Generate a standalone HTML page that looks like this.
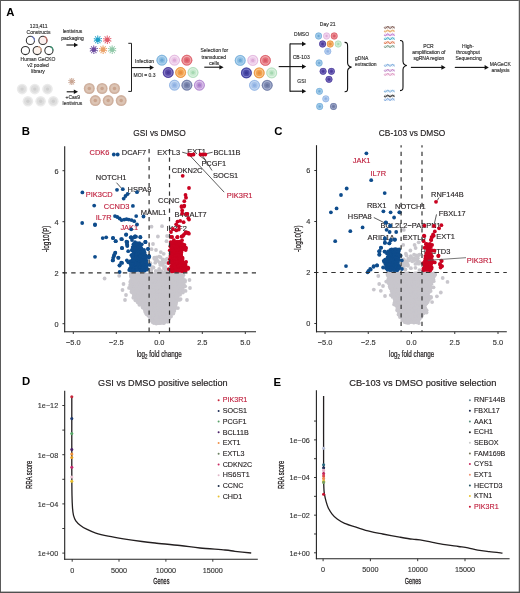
<!DOCTYPE html>
<html><head><meta charset="utf-8"><style>
html,body{margin:0;padding:0;background:#fff;}
svg{display:block;will-change:transform;filter:blur(0.3px);}
text{font-family:"Liberation Sans",sans-serif;}
</style></head><body>
<svg width="520" height="593" viewBox="0 0 520 593">
<rect width="520" height="593" fill="#fff"/>
<text x="6.30" y="16.20" font-size="11.340000000000002" text-anchor="start" fill="#000" font-weight="bold" >A</text>
<text transform="translate(38.70,28.44) scale(0.955,1)" font-size="5.24" text-anchor="middle" fill="#333" font-weight="normal"  stroke="#333" stroke-width="0.16">123,411</text>
<text transform="translate(38.50,34.34) scale(0.955,1)" font-size="5.24" text-anchor="middle" fill="#333" font-weight="normal"  stroke="#333" stroke-width="0.16">Constructs</text>
<text transform="translate(38.00,60.54) scale(0.955,1)" font-size="5.24" text-anchor="middle" fill="#333" font-weight="normal"  stroke="#333" stroke-width="0.16">Human GeCKO</text>
<text transform="translate(38.00,66.94) scale(0.955,1)" font-size="5.24" text-anchor="middle" fill="#333" font-weight="normal"  stroke="#333" stroke-width="0.16">v2 pooled</text>
<text transform="translate(38.00,73.14) scale(0.955,1)" font-size="5.24" text-anchor="middle" fill="#333" font-weight="normal"  stroke="#333" stroke-width="0.16">library</text>
<circle cx="30.4" cy="40.4" r="4.1" fill="none" stroke="#333" stroke-width="1.05"/>
<path d="M31.46,36.44 A4.1,4.1 0 0 1 34.48,40.76" fill="none" stroke="#6a78c8" stroke-width="1.05"/>
<circle cx="42.9" cy="40.4" r="4.1" fill="#fcf0ee" stroke="#333" stroke-width="1.05"/>
<path d="M44.30,36.55 A4.1,4.1 0 0 1 46.45,42.45" fill="none" stroke="#c87068" stroke-width="1.05"/>
<circle cx="25.4" cy="50.5" r="4.1" fill="none" stroke="#333" stroke-width="1.05"/>
<circle cx="37.2" cy="50.5" r="4.1" fill="#fdf3ec" stroke="#333" stroke-width="1.05"/>
<path d="M37.91,46.46 A4.1,4.1 0 0 1 41.24,51.21" fill="none" stroke="#eab090" stroke-width="1.05"/>
<circle cx="48.9" cy="50.5" r="4.1" fill="none" stroke="#333" stroke-width="1.05"/>
<path d="M49.96,46.54 A4.1,4.1 0 0 1 53.00,50.50" fill="none" stroke="#3a9070" stroke-width="1.05"/>
<text transform="translate(72.50,33.44) scale(0.955,1)" font-size="5.24" text-anchor="middle" fill="#333" font-weight="normal"  stroke="#333" stroke-width="0.16">lentivirus</text>
<text transform="translate(72.50,39.94) scale(0.955,1)" font-size="5.24" text-anchor="middle" fill="#333" font-weight="normal"  stroke="#333" stroke-width="0.16">packaging</text>
<line x1="66.40" y1="45.00" x2="74.50" y2="45.00" stroke="#111" stroke-width="1.1" />
<polygon points="78.20,45.00 74.00,42.70 74.00,47.30" fill="#111"/>
<path d="M99.63,40.37L101.33,40.89M98.95,41.34L100.02,42.76M97.83,41.72L97.85,43.50M96.69,41.37L95.67,42.82M95.98,40.42L94.30,40.99M95.97,39.23L94.27,38.71M96.65,38.26L95.58,36.84M97.77,37.88L97.75,36.10M98.91,38.23L99.93,36.78M99.62,39.18L101.30,38.61" stroke="#1c9fc8" stroke-width="0.75" fill="none" stroke-linecap="round"/>
<circle cx="101.33" cy="40.89" r="0.5" fill="#1c9fc8" />
<circle cx="100.02" cy="42.76" r="0.5" fill="#1c9fc8" />
<circle cx="97.85" cy="43.50" r="0.5" fill="#1c9fc8" />
<circle cx="95.67" cy="42.82" r="0.5" fill="#1c9fc8" />
<circle cx="94.30" cy="40.99" r="0.5" fill="#1c9fc8" />
<circle cx="94.27" cy="38.71" r="0.5" fill="#1c9fc8" />
<circle cx="95.58" cy="36.84" r="0.5" fill="#1c9fc8" />
<circle cx="97.75" cy="36.10" r="0.5" fill="#1c9fc8" />
<circle cx="99.93" cy="36.78" r="0.5" fill="#1c9fc8" />
<circle cx="101.30" cy="38.61" r="0.5" fill="#1c9fc8" />
<circle cx="97.80" cy="39.80" r="2.4" fill="#1c9fc8" />
<path d="M109.13,40.37L110.83,40.89M108.45,41.34L109.52,42.76M107.33,41.72L107.35,43.50M106.19,41.37L105.17,42.82M105.48,40.42L103.80,40.99M105.47,39.23L103.77,38.71M106.15,38.26L105.08,36.84M107.27,37.88L107.25,36.10M108.41,38.23L109.43,36.78M109.12,39.18L110.80,38.61" stroke="#e05a6a" stroke-width="0.75" fill="none" stroke-linecap="round"/>
<circle cx="110.83" cy="40.89" r="0.5" fill="#e05a6a" />
<circle cx="109.52" cy="42.76" r="0.5" fill="#e05a6a" />
<circle cx="107.35" cy="43.50" r="0.5" fill="#e05a6a" />
<circle cx="105.17" cy="42.82" r="0.5" fill="#e05a6a" />
<circle cx="103.80" cy="40.99" r="0.5" fill="#e05a6a" />
<circle cx="103.77" cy="38.71" r="0.5" fill="#e05a6a" />
<circle cx="105.08" cy="36.84" r="0.5" fill="#e05a6a" />
<circle cx="107.25" cy="36.10" r="0.5" fill="#e05a6a" />
<circle cx="109.43" cy="36.78" r="0.5" fill="#e05a6a" />
<circle cx="110.80" cy="38.61" r="0.5" fill="#e05a6a" />
<circle cx="107.30" cy="39.80" r="2.4" fill="#e05a6a" />
<path d="M95.63,50.27L97.33,50.79M94.95,51.24L96.02,52.66M93.83,51.62L93.85,53.40M92.69,51.27L91.67,52.72M91.98,50.32L90.30,50.89M91.97,49.13L90.27,48.61M92.65,48.16L91.58,46.74M93.77,47.78L93.75,46.00M94.91,48.13L95.93,46.68M95.62,49.08L97.30,48.51" stroke="#6a4a9e" stroke-width="0.75" fill="none" stroke-linecap="round"/>
<circle cx="97.33" cy="50.79" r="0.5" fill="#6a4a9e" />
<circle cx="96.02" cy="52.66" r="0.5" fill="#6a4a9e" />
<circle cx="93.85" cy="53.40" r="0.5" fill="#6a4a9e" />
<circle cx="91.67" cy="52.72" r="0.5" fill="#6a4a9e" />
<circle cx="90.30" cy="50.89" r="0.5" fill="#6a4a9e" />
<circle cx="90.27" cy="48.61" r="0.5" fill="#6a4a9e" />
<circle cx="91.58" cy="46.74" r="0.5" fill="#6a4a9e" />
<circle cx="93.75" cy="46.00" r="0.5" fill="#6a4a9e" />
<circle cx="95.93" cy="46.68" r="0.5" fill="#6a4a9e" />
<circle cx="97.30" cy="48.51" r="0.5" fill="#6a4a9e" />
<circle cx="93.80" cy="49.70" r="2.4" fill="#6a4a9e" />
<path d="M104.93,50.27L106.63,50.79M104.25,51.24L105.32,52.66M103.13,51.62L103.15,53.40M101.99,51.27L100.97,52.72M101.28,50.32L99.60,50.89M101.27,49.13L99.57,48.61M101.95,48.16L100.88,46.74M103.07,47.78L103.05,46.00M104.21,48.13L105.23,46.68M104.92,49.08L106.60,48.51" stroke="#eaa066" stroke-width="0.75" fill="none" stroke-linecap="round"/>
<circle cx="106.63" cy="50.79" r="0.5" fill="#eaa066" />
<circle cx="105.32" cy="52.66" r="0.5" fill="#eaa066" />
<circle cx="103.15" cy="53.40" r="0.5" fill="#eaa066" />
<circle cx="100.97" cy="52.72" r="0.5" fill="#eaa066" />
<circle cx="99.60" cy="50.89" r="0.5" fill="#eaa066" />
<circle cx="99.57" cy="48.61" r="0.5" fill="#eaa066" />
<circle cx="100.88" cy="46.74" r="0.5" fill="#eaa066" />
<circle cx="103.05" cy="46.00" r="0.5" fill="#eaa066" />
<circle cx="105.23" cy="46.68" r="0.5" fill="#eaa066" />
<circle cx="106.60" cy="48.51" r="0.5" fill="#eaa066" />
<circle cx="103.10" cy="49.70" r="2.4" fill="#eaa066" />
<path d="M114.03,50.27L115.73,50.79M113.35,51.24L114.42,52.66M112.23,51.62L112.25,53.40M111.09,51.27L110.07,52.72M110.38,50.32L108.70,50.89M110.37,49.13L108.67,48.61M111.05,48.16L109.98,46.74M112.17,47.78L112.15,46.00M113.31,48.13L114.33,46.68M114.02,49.08L115.70,48.51" stroke="#90c8a8" stroke-width="0.75" fill="none" stroke-linecap="round"/>
<circle cx="115.73" cy="50.79" r="0.5" fill="#90c8a8" />
<circle cx="114.42" cy="52.66" r="0.5" fill="#90c8a8" />
<circle cx="112.25" cy="53.40" r="0.5" fill="#90c8a8" />
<circle cx="110.07" cy="52.72" r="0.5" fill="#90c8a8" />
<circle cx="108.70" cy="50.89" r="0.5" fill="#90c8a8" />
<circle cx="108.67" cy="48.61" r="0.5" fill="#90c8a8" />
<circle cx="109.98" cy="46.74" r="0.5" fill="#90c8a8" />
<circle cx="112.15" cy="46.00" r="0.5" fill="#90c8a8" />
<circle cx="114.33" cy="46.68" r="0.5" fill="#90c8a8" />
<circle cx="115.70" cy="48.51" r="0.5" fill="#90c8a8" />
<circle cx="112.20" cy="49.70" r="2.4" fill="#90c8a8" />
<path d="M73.25,81.95L74.67,82.39M72.71,82.72L73.60,83.90M71.82,83.02L71.84,84.50M70.92,82.74L70.07,83.95M70.36,81.99L68.96,82.47M70.35,81.05L68.93,80.61M70.89,80.28L70.00,79.10M71.78,79.98L71.76,78.50M72.68,80.26L73.53,79.05M73.24,81.01L74.64,80.53" stroke="#c8a492" stroke-width="0.75" fill="none" stroke-linecap="round"/>
<circle cx="74.67" cy="82.39" r="0.5" fill="#c8a492" />
<circle cx="73.60" cy="83.90" r="0.5" fill="#c8a492" />
<circle cx="71.84" cy="84.50" r="0.5" fill="#c8a492" />
<circle cx="70.07" cy="83.95" r="0.5" fill="#c8a492" />
<circle cx="68.96" cy="82.47" r="0.5" fill="#c8a492" />
<circle cx="68.93" cy="80.61" r="0.5" fill="#c8a492" />
<circle cx="70.00" cy="79.10" r="0.5" fill="#c8a492" />
<circle cx="71.76" cy="78.50" r="0.5" fill="#c8a492" />
<circle cx="73.53" cy="79.05" r="0.5" fill="#c8a492" />
<circle cx="74.64" cy="80.53" r="0.5" fill="#c8a492" />
<circle cx="71.80" cy="81.50" r="1.9" fill="#c8a492" />
<circle cx="22.10" cy="89.10" r="5.3" fill="#ebebeb" />
<circle cx="22.10" cy="89.10" r="3.816" fill="#dedede" />
<circle cx="22.10" cy="89.10" r="1.696" fill="#cfcfcf" />
<circle cx="34.80" cy="89.10" r="5.3" fill="#ebebeb" />
<circle cx="34.80" cy="89.10" r="3.816" fill="#dedede" />
<circle cx="34.80" cy="89.10" r="1.696" fill="#cfcfcf" />
<circle cx="47.50" cy="89.10" r="5.3" fill="#ebebeb" />
<circle cx="47.50" cy="89.10" r="3.816" fill="#dedede" />
<circle cx="47.50" cy="89.10" r="1.696" fill="#cfcfcf" />
<circle cx="27.90" cy="101.30" r="5.3" fill="#ebebeb" />
<circle cx="27.90" cy="101.30" r="3.816" fill="#dedede" />
<circle cx="27.90" cy="101.30" r="1.696" fill="#cfcfcf" />
<circle cx="40.60" cy="101.30" r="5.3" fill="#ebebeb" />
<circle cx="40.60" cy="101.30" r="3.816" fill="#dedede" />
<circle cx="40.60" cy="101.30" r="1.696" fill="#cfcfcf" />
<circle cx="53.30" cy="101.30" r="5.3" fill="#ebebeb" />
<circle cx="53.30" cy="101.30" r="3.816" fill="#dedede" />
<circle cx="53.30" cy="101.30" r="1.696" fill="#cfcfcf" />
<line x1="66.70" y1="91.80" x2="74.30" y2="91.80" stroke="#111" stroke-width="1.1" />
<polygon points="78.00,91.80 73.80,89.50 73.80,94.10" fill="#111"/>
<text transform="translate(72.80,98.54) scale(0.955,1)" font-size="5.24" text-anchor="middle" fill="#333" font-weight="normal"  stroke="#333" stroke-width="0.16">+Cas9</text>
<text transform="translate(72.40,104.94) scale(0.955,1)" font-size="5.24" text-anchor="middle" fill="#333" font-weight="normal"  stroke="#333" stroke-width="0.16">lentivirus</text>
<circle cx="89.30" cy="88.50" r="5.5" fill="#cfb09e" />
<circle cx="89.30" cy="88.50" r="3.96" fill="#dcc4b4" />
<circle cx="89.30" cy="88.50" r="1.76" fill="#c9a48e" />
<circle cx="102.10" cy="88.50" r="5.5" fill="#cfb09e" />
<circle cx="102.10" cy="88.50" r="3.96" fill="#dcc4b4" />
<circle cx="102.10" cy="88.50" r="1.76" fill="#c9a48e" />
<circle cx="114.50" cy="88.50" r="5.5" fill="#cfb09e" />
<circle cx="114.50" cy="88.50" r="3.96" fill="#dcc4b4" />
<circle cx="114.50" cy="88.50" r="1.76" fill="#c9a48e" />
<circle cx="95.30" cy="100.60" r="5.5" fill="#cfb09e" />
<circle cx="95.30" cy="100.60" r="3.96" fill="#dcc4b4" />
<circle cx="95.30" cy="100.60" r="1.76" fill="#c9a48e" />
<circle cx="108.20" cy="100.60" r="5.5" fill="#cfb09e" />
<circle cx="108.20" cy="100.60" r="3.96" fill="#dcc4b4" />
<circle cx="108.20" cy="100.60" r="1.76" fill="#c9a48e" />
<circle cx="121.20" cy="100.60" r="5.5" fill="#cfb09e" />
<circle cx="121.20" cy="100.60" r="3.96" fill="#dcc4b4" />
<circle cx="121.20" cy="100.60" r="1.76" fill="#c9a48e" />
<path d="M128.3,43.3 H131.5 V91.4 H128.3" fill="none" stroke="#222" stroke-width="1"/>
<line x1="131.50" y1="67.60" x2="150.30" y2="67.60" stroke="#111" stroke-width="1.1" />
<polygon points="154.00,67.60 149.80,65.30 149.80,69.90" fill="#111"/>
<text transform="translate(144.50,63.24) scale(0.955,1)" font-size="5.24" text-anchor="middle" fill="#333" font-weight="normal"  stroke="#333" stroke-width="0.16">Infection</text>
<text transform="translate(144.50,76.54) scale(0.955,1)" font-size="5.24" text-anchor="middle" fill="#333" font-weight="normal"  stroke="#333" stroke-width="0.16">MOI = 0.3</text>
<circle cx="161.90" cy="60.20" r="5.4" fill="#8ec0e4" />
<circle cx="161.90" cy="60.20" r="3.78" fill="none" stroke="#b4d4ee" stroke-width="1.19"/>
<circle cx="161.90" cy="60.20" r="5.05" fill="none" stroke="#6ca6d4" stroke-width="0.6" opacity="0.8"/>
<circle cx="161.90" cy="60.20" r="1.62" fill="#6ca6d4" />
<circle cx="174.50" cy="60.20" r="5.4" fill="#ecc8e8" />
<circle cx="174.50" cy="60.20" r="3.78" fill="none" stroke="#f4e0f2" stroke-width="1.19"/>
<circle cx="174.50" cy="60.20" r="5.05" fill="none" stroke="#dcaad6" stroke-width="0.6" opacity="0.8"/>
<circle cx="174.50" cy="60.20" r="1.62" fill="#dcaad6" />
<circle cx="186.90" cy="60.20" r="5.4" fill="#e4707a" />
<circle cx="186.90" cy="60.20" r="3.78" fill="none" stroke="#f0a8ac" stroke-width="1.19"/>
<circle cx="186.90" cy="60.20" r="5.05" fill="none" stroke="#d85a66" stroke-width="0.6" opacity="0.8"/>
<circle cx="186.90" cy="60.20" r="1.62" fill="#d85a66" />
<circle cx="168.20" cy="72.50" r="5.4" fill="#5a4aa8" />
<circle cx="168.20" cy="72.50" r="3.78" fill="none" stroke="#8a80c8" stroke-width="1.19"/>
<circle cx="168.20" cy="72.50" r="5.05" fill="none" stroke="#4a3a98" stroke-width="0.6" opacity="0.8"/>
<circle cx="168.20" cy="72.50" r="1.62" fill="#4a3a98" />
<circle cx="180.60" cy="72.50" r="5.4" fill="#f2a24e" />
<circle cx="180.60" cy="72.50" r="3.78" fill="none" stroke="#f8c890" stroke-width="1.19"/>
<circle cx="180.60" cy="72.50" r="5.05" fill="none" stroke="#e89040" stroke-width="0.6" opacity="0.8"/>
<circle cx="180.60" cy="72.50" r="1.62" fill="#e89040" />
<circle cx="193.00" cy="72.50" r="5.4" fill="#c4e8cc" />
<circle cx="193.00" cy="72.50" r="3.78" fill="none" stroke="#dcf2e0" stroke-width="1.19"/>
<circle cx="193.00" cy="72.50" r="5.05" fill="none" stroke="#a4d8b0" stroke-width="0.6" opacity="0.8"/>
<circle cx="193.00" cy="72.50" r="1.62" fill="#a4d8b0" />
<circle cx="174.50" cy="85.20" r="5.4" fill="#a2c0ea" />
<circle cx="174.50" cy="85.20" r="3.78" fill="none" stroke="#c4d8f2" stroke-width="1.19"/>
<circle cx="174.50" cy="85.20" r="5.05" fill="none" stroke="#8eb0e2" stroke-width="0.6" opacity="0.8"/>
<circle cx="174.50" cy="85.20" r="1.62" fill="#8eb0e2" />
<circle cx="186.90" cy="85.20" r="5.4" fill="#7c88b0" />
<circle cx="186.90" cy="85.20" r="3.78" fill="none" stroke="#a8b2d0" stroke-width="1.19"/>
<circle cx="186.90" cy="85.20" r="5.05" fill="none" stroke="#6a76a0" stroke-width="0.6" opacity="0.8"/>
<circle cx="186.90" cy="85.20" r="1.62" fill="#6a76a0" />
<circle cx="199.40" cy="85.20" r="5.4" fill="#c09ad8" />
<circle cx="199.40" cy="85.20" r="3.78" fill="none" stroke="#dcc6ec" stroke-width="1.19"/>
<circle cx="199.40" cy="85.20" r="5.05" fill="none" stroke="#a87cca" stroke-width="0.6" opacity="0.8"/>
<circle cx="199.40" cy="85.20" r="1.62" fill="#a87cca" />
<text transform="translate(214.30,51.94) scale(0.955,1)" font-size="5.24" text-anchor="middle" fill="#333" font-weight="normal"  stroke="#333" stroke-width="0.16">Selection for</text>
<text transform="translate(213.80,58.54) scale(0.955,1)" font-size="5.24" text-anchor="middle" fill="#333" font-weight="normal"  stroke="#333" stroke-width="0.16">transduced</text>
<text transform="translate(214.30,64.54) scale(0.955,1)" font-size="5.24" text-anchor="middle" fill="#333" font-weight="normal"  stroke="#333" stroke-width="0.16">cells</text>
<line x1="204.30" y1="67.20" x2="219.90" y2="67.20" stroke="#111" stroke-width="1.1" />
<polygon points="223.60,67.20 219.40,64.90 219.40,69.50" fill="#111"/>
<circle cx="240.20" cy="60.40" r="5.4" fill="#8ec0e4" />
<circle cx="240.20" cy="60.40" r="3.78" fill="none" stroke="#b4d4ee" stroke-width="1.19"/>
<circle cx="240.20" cy="60.40" r="5.05" fill="none" stroke="#6ca6d4" stroke-width="0.6" opacity="0.8"/>
<circle cx="240.20" cy="60.40" r="1.62" fill="#6ca6d4" />
<circle cx="252.80" cy="60.40" r="5.4" fill="#ecc8e8" />
<circle cx="252.80" cy="60.40" r="3.78" fill="none" stroke="#f4e0f2" stroke-width="1.19"/>
<circle cx="252.80" cy="60.40" r="5.05" fill="none" stroke="#dcaad6" stroke-width="0.6" opacity="0.8"/>
<circle cx="252.80" cy="60.40" r="1.62" fill="#dcaad6" />
<circle cx="265.40" cy="60.40" r="5.4" fill="#e4707a" />
<circle cx="265.40" cy="60.40" r="3.78" fill="none" stroke="#f0a8ac" stroke-width="1.19"/>
<circle cx="265.40" cy="60.40" r="5.05" fill="none" stroke="#d85a66" stroke-width="0.6" opacity="0.8"/>
<circle cx="265.40" cy="60.40" r="1.62" fill="#d85a66" />
<circle cx="246.40" cy="72.90" r="5.4" fill="#4a4aa8" />
<circle cx="246.40" cy="72.90" r="3.78" fill="none" stroke="#7a7cc8" stroke-width="1.19"/>
<circle cx="246.40" cy="72.90" r="5.05" fill="none" stroke="#3a3a98" stroke-width="0.6" opacity="0.8"/>
<circle cx="246.40" cy="72.90" r="1.62" fill="#3a3a98" />
<circle cx="259.20" cy="72.90" r="5.4" fill="#f2a24e" />
<circle cx="259.20" cy="72.90" r="3.78" fill="none" stroke="#f8c890" stroke-width="1.19"/>
<circle cx="259.20" cy="72.90" r="5.05" fill="none" stroke="#e89040" stroke-width="0.6" opacity="0.8"/>
<circle cx="259.20" cy="72.90" r="1.62" fill="#e89040" />
<circle cx="271.70" cy="72.90" r="5.4" fill="#c4e8cc" />
<circle cx="271.70" cy="72.90" r="3.78" fill="none" stroke="#dcf2e0" stroke-width="1.19"/>
<circle cx="271.70" cy="72.90" r="5.05" fill="none" stroke="#a4d8b0" stroke-width="0.6" opacity="0.8"/>
<circle cx="271.70" cy="72.90" r="1.62" fill="#a4d8b0" />
<circle cx="254.50" cy="85.30" r="5.4" fill="#a2c0ea" />
<circle cx="254.50" cy="85.30" r="3.78" fill="none" stroke="#c4d8f2" stroke-width="1.19"/>
<circle cx="254.50" cy="85.30" r="5.05" fill="none" stroke="#8eb0e2" stroke-width="0.6" opacity="0.8"/>
<circle cx="254.50" cy="85.30" r="1.62" fill="#8eb0e2" />
<circle cx="267.20" cy="85.30" r="5.4" fill="#7c88b0" />
<circle cx="267.20" cy="85.30" r="3.78" fill="none" stroke="#a8b2d0" stroke-width="1.19"/>
<circle cx="267.20" cy="85.30" r="5.05" fill="none" stroke="#6a76a0" stroke-width="0.6" opacity="0.8"/>
<circle cx="267.20" cy="85.30" r="1.62" fill="#6a76a0" />
<line x1="278.70" y1="66.60" x2="290.00" y2="66.60" stroke="#111" stroke-width="1.1" />
<line x1="290.00" y1="43.40" x2="290.00" y2="91.70" stroke="#111" stroke-width="1.1" />
<line x1="290.00" y1="43.90" x2="302.50" y2="43.90" stroke="#111" stroke-width="1.1" />
<polygon points="306.20,43.90 302.00,41.60 302.00,46.20" fill="#111"/>
<line x1="290.00" y1="66.60" x2="302.50" y2="66.60" stroke="#111" stroke-width="1.1" />
<polygon points="306.20,66.60 302.00,64.30 302.00,68.90" fill="#111"/>
<line x1="290.00" y1="91.20" x2="302.50" y2="91.20" stroke="#111" stroke-width="1.1" />
<polygon points="306.20,91.20 302.00,88.90 302.00,93.50" fill="#111"/>
<text transform="translate(301.60,35.84) scale(0.955,1)" font-size="5.24" text-anchor="middle" fill="#333" font-weight="normal"  stroke="#333" stroke-width="0.16">DMSO</text>
<text transform="translate(301.20,59.34) scale(0.955,1)" font-size="5.24" text-anchor="middle" fill="#333" font-weight="normal"  stroke="#333" stroke-width="0.16">CB-103</text>
<text transform="translate(301.60,83.44) scale(0.955,1)" font-size="5.24" text-anchor="middle" fill="#333" font-weight="normal"  stroke="#333" stroke-width="0.16">GSI</text>
<text transform="translate(327.70,26.24) scale(0.955,1)" font-size="5.24" text-anchor="middle" fill="#333" font-weight="normal"  stroke="#333" stroke-width="0.16">Day 21</text>
<circle cx="318.60" cy="36.00" r="3.4" fill="#8ec0e4" />
<circle cx="318.60" cy="36.00" r="2.38" fill="none" stroke="#b4d4ee" stroke-width="0.75"/>
<circle cx="318.60" cy="36.00" r="3.05" fill="none" stroke="#6ca6d4" stroke-width="0.6" opacity="0.8"/>
<circle cx="318.60" cy="36.00" r="1.02" fill="#6ca6d4" />
<circle cx="326.60" cy="36.00" r="3.4" fill="#ecc8e8" />
<circle cx="326.60" cy="36.00" r="2.38" fill="none" stroke="#f4e0f2" stroke-width="0.75"/>
<circle cx="326.60" cy="36.00" r="3.05" fill="none" stroke="#dcaad6" stroke-width="0.6" opacity="0.8"/>
<circle cx="326.60" cy="36.00" r="1.02" fill="#dcaad6" />
<circle cx="334.20" cy="36.00" r="3.4" fill="#e4707a" />
<circle cx="334.20" cy="36.00" r="2.38" fill="none" stroke="#f0a8ac" stroke-width="0.75"/>
<circle cx="334.20" cy="36.00" r="3.05" fill="none" stroke="#d85a66" stroke-width="0.6" opacity="0.8"/>
<circle cx="334.20" cy="36.00" r="1.02" fill="#d85a66" />
<circle cx="322.60" cy="44.00" r="3.4" fill="#5a4aa8" />
<circle cx="322.60" cy="44.00" r="2.38" fill="none" stroke="#8a80c8" stroke-width="0.75"/>
<circle cx="322.60" cy="44.00" r="3.05" fill="none" stroke="#4a3a98" stroke-width="0.6" opacity="0.8"/>
<circle cx="322.60" cy="44.00" r="1.02" fill="#4a3a98" />
<circle cx="330.20" cy="44.00" r="3.4" fill="#f2a24e" />
<circle cx="330.20" cy="44.00" r="2.38" fill="none" stroke="#f8c890" stroke-width="0.75"/>
<circle cx="330.20" cy="44.00" r="3.05" fill="none" stroke="#e89040" stroke-width="0.6" opacity="0.8"/>
<circle cx="330.20" cy="44.00" r="1.02" fill="#e89040" />
<circle cx="338.20" cy="44.00" r="3.4" fill="#c4e8cc" />
<circle cx="338.20" cy="44.00" r="2.38" fill="none" stroke="#dcf2e0" stroke-width="0.75"/>
<circle cx="338.20" cy="44.00" r="3.05" fill="none" stroke="#a4d8b0" stroke-width="0.6" opacity="0.8"/>
<circle cx="338.20" cy="44.00" r="1.02" fill="#a4d8b0" />
<circle cx="327.80" cy="51.30" r="3.4" fill="#a2c0ea" />
<circle cx="327.80" cy="51.30" r="2.38" fill="none" stroke="#c4d8f2" stroke-width="0.75"/>
<circle cx="327.80" cy="51.30" r="3.05" fill="none" stroke="#8eb0e2" stroke-width="0.6" opacity="0.8"/>
<circle cx="327.80" cy="51.30" r="1.02" fill="#8eb0e2" />
<circle cx="319.10" cy="63.00" r="3.4" fill="#8ec0e4" />
<circle cx="319.10" cy="63.00" r="2.38" fill="none" stroke="#b4d4ee" stroke-width="0.75"/>
<circle cx="319.10" cy="63.00" r="3.05" fill="none" stroke="#6ca6d4" stroke-width="0.6" opacity="0.8"/>
<circle cx="319.10" cy="63.00" r="1.02" fill="#6ca6d4" />
<circle cx="323.10" cy="71.30" r="3.4" fill="#5a4aa8" />
<circle cx="323.10" cy="71.30" r="2.38" fill="none" stroke="#8a80c8" stroke-width="0.75"/>
<circle cx="323.10" cy="71.30" r="3.05" fill="none" stroke="#4a3a98" stroke-width="0.6" opacity="0.8"/>
<circle cx="323.10" cy="71.30" r="1.02" fill="#4a3a98" />
<circle cx="331.40" cy="71.30" r="3.4" fill="#5a4aa8" />
<circle cx="331.40" cy="71.30" r="2.38" fill="none" stroke="#8a80c8" stroke-width="0.75"/>
<circle cx="331.40" cy="71.30" r="3.05" fill="none" stroke="#4a3a98" stroke-width="0.6" opacity="0.8"/>
<circle cx="331.40" cy="71.30" r="1.02" fill="#4a3a98" />
<circle cx="329.00" cy="79.30" r="3.4" fill="#5a4aa8" />
<circle cx="329.00" cy="79.30" r="2.38" fill="none" stroke="#8a80c8" stroke-width="0.75"/>
<circle cx="329.00" cy="79.30" r="3.05" fill="none" stroke="#4a3a98" stroke-width="0.6" opacity="0.8"/>
<circle cx="329.00" cy="79.30" r="1.02" fill="#4a3a98" />
<circle cx="319.40" cy="91.30" r="3.4" fill="#8ec0e4" />
<circle cx="319.40" cy="91.30" r="2.38" fill="none" stroke="#b4d4ee" stroke-width="0.75"/>
<circle cx="319.40" cy="91.30" r="3.05" fill="none" stroke="#6ca6d4" stroke-width="0.6" opacity="0.8"/>
<circle cx="319.40" cy="91.30" r="1.02" fill="#6ca6d4" />
<circle cx="325.80" cy="98.80" r="3.4" fill="#a2c0ea" />
<circle cx="325.80" cy="98.80" r="2.38" fill="none" stroke="#c4d8f2" stroke-width="0.75"/>
<circle cx="325.80" cy="98.80" r="3.05" fill="none" stroke="#8eb0e2" stroke-width="0.6" opacity="0.8"/>
<circle cx="325.80" cy="98.80" r="1.02" fill="#8eb0e2" />
<circle cx="319.70" cy="106.50" r="3.4" fill="#8ec0e4" />
<circle cx="319.70" cy="106.50" r="2.38" fill="none" stroke="#b4d4ee" stroke-width="0.75"/>
<circle cx="319.70" cy="106.50" r="3.05" fill="none" stroke="#6ca6d4" stroke-width="0.6" opacity="0.8"/>
<circle cx="319.70" cy="106.50" r="1.02" fill="#6ca6d4" />
<circle cx="333.50" cy="106.50" r="3.4" fill="#7c88b0" />
<circle cx="333.50" cy="106.50" r="2.38" fill="none" stroke="#a8b2d0" stroke-width="0.75"/>
<circle cx="333.50" cy="106.50" r="3.05" fill="none" stroke="#6a76a0" stroke-width="0.6" opacity="0.8"/>
<circle cx="333.50" cy="106.50" r="1.02" fill="#6a76a0" />
<path d="M344.60,42.40 C347.60,42.40 347.60,43.90 347.60,46.40 L347.60,63.10 C347.60,66.10 350.60,67.10 351.60,67.10 C350.60,67.10 347.60,68.10 347.60,71.10 L347.60,87.80 C347.60,90.30 347.60,91.80 344.60,91.80" fill="none" stroke="#111" stroke-width="1.1"/>
<text transform="translate(355.00,60.14) scale(0.955,1)" font-size="5.24" text-anchor="start" fill="#333" font-weight="normal"  stroke="#333" stroke-width="0.16">gDNA</text>
<text transform="translate(355.00,65.74) scale(0.955,1)" font-size="5.24" text-anchor="start" fill="#333" font-weight="normal"  stroke="#333" stroke-width="0.16">extraction</text>
<path d="M384.10,27.40 L384.45,27.80 L384.81,28.12 L385.16,28.28 L385.51,28.27 L385.87,28.07 L386.22,27.73 L386.57,27.32 L386.93,26.93 L387.28,26.64 L387.63,26.50 L387.99,26.56 L388.34,26.78 L388.69,27.14 L389.05,27.55 L389.40,27.93 L389.75,28.20 L390.11,28.30 L390.46,28.21 L390.81,27.96 L391.17,27.59 L391.52,27.18 L391.87,26.81 L392.23,26.57 L392.58,26.50 L392.93,26.62 L393.29,26.90 L393.64,27.29 L393.99,27.70 L394.35,28.04 L394.70,28.26" fill="none" stroke="#8a6a62" stroke-width="1.1"/>
<path d="M384.10,27.40 L384.45,27.00 L384.81,26.68 L385.16,26.52 L385.51,26.53 L385.87,26.73 L386.22,27.07 L386.57,27.48 L386.93,27.87 L387.28,28.16 L387.63,28.30 L387.99,28.24 L388.34,28.02 L388.69,27.66 L389.05,27.25 L389.40,26.87 L389.75,26.60 L390.11,26.50 L390.46,26.59 L390.81,26.84 L391.17,27.21 L391.52,27.62 L391.87,27.99 L392.23,28.23 L392.58,28.30 L392.93,28.18 L393.29,27.90 L393.64,27.51 L393.99,27.10 L394.35,26.76 L394.70,26.54" fill="none" stroke="#8a6a62" stroke-width="0.6" opacity="0.7"/>
<path d="M384.10,31.00 L384.45,31.40 L384.81,31.72 L385.16,31.88 L385.51,31.87 L385.87,31.67 L386.22,31.33 L386.57,30.92 L386.93,30.53 L387.28,30.24 L387.63,30.10 L387.99,30.16 L388.34,30.38 L388.69,30.74 L389.05,31.15 L389.40,31.53 L389.75,31.80 L390.11,31.90 L390.46,31.81 L390.81,31.56 L391.17,31.19 L391.52,30.78 L391.87,30.41 L392.23,30.17 L392.58,30.10 L392.93,30.22 L393.29,30.50 L393.64,30.89 L393.99,31.30 L394.35,31.64 L394.70,31.86" fill="none" stroke="#e8b070" stroke-width="1.1"/>
<path d="M384.10,31.00 L384.45,30.60 L384.81,30.28 L385.16,30.12 L385.51,30.13 L385.87,30.33 L386.22,30.67 L386.57,31.08 L386.93,31.47 L387.28,31.76 L387.63,31.90 L387.99,31.84 L388.34,31.62 L388.69,31.26 L389.05,30.85 L389.40,30.47 L389.75,30.20 L390.11,30.10 L390.46,30.19 L390.81,30.44 L391.17,30.81 L391.52,31.22 L391.87,31.59 L392.23,31.83 L392.58,31.90 L392.93,31.78 L393.29,31.50 L393.64,31.11 L393.99,30.70 L394.35,30.36 L394.70,30.14" fill="none" stroke="#e8b070" stroke-width="0.6" opacity="0.7"/>
<path d="M384.10,34.80 L384.45,35.20 L384.81,35.52 L385.16,35.68 L385.51,35.67 L385.87,35.47 L386.22,35.13 L386.57,34.72 L386.93,34.33 L387.28,34.04 L387.63,33.90 L387.99,33.96 L388.34,34.18 L388.69,34.54 L389.05,34.95 L389.40,35.33 L389.75,35.60 L390.11,35.70 L390.46,35.61 L390.81,35.36 L391.17,34.99 L391.52,34.58 L391.87,34.21 L392.23,33.97 L392.58,33.90 L392.93,34.02 L393.29,34.30 L393.64,34.69 L393.99,35.10 L394.35,35.44 L394.70,35.66" fill="none" stroke="#c484d4" stroke-width="1.1"/>
<path d="M384.10,34.80 L384.45,34.40 L384.81,34.08 L385.16,33.92 L385.51,33.93 L385.87,34.13 L386.22,34.47 L386.57,34.88 L386.93,35.27 L387.28,35.56 L387.63,35.70 L387.99,35.64 L388.34,35.42 L388.69,35.06 L389.05,34.65 L389.40,34.27 L389.75,34.00 L390.11,33.90 L390.46,33.99 L390.81,34.24 L391.17,34.61 L391.52,35.02 L391.87,35.39 L392.23,35.63 L392.58,35.70 L392.93,35.58 L393.29,35.30 L393.64,34.91 L393.99,34.50 L394.35,34.16 L394.70,33.94" fill="none" stroke="#c484d4" stroke-width="0.6" opacity="0.7"/>
<path d="M384.10,38.60 L384.45,39.00 L384.81,39.32 L385.16,39.48 L385.51,39.47 L385.87,39.27 L386.22,38.93 L386.57,38.52 L386.93,38.13 L387.28,37.84 L387.63,37.70 L387.99,37.76 L388.34,37.98 L388.69,38.34 L389.05,38.75 L389.40,39.13 L389.75,39.40 L390.11,39.50 L390.46,39.41 L390.81,39.16 L391.17,38.79 L391.52,38.38 L391.87,38.01 L392.23,37.77 L392.58,37.70 L392.93,37.82 L393.29,38.10 L393.64,38.49 L393.99,38.90 L394.35,39.24 L394.70,39.46" fill="none" stroke="#52b4cc" stroke-width="1.1"/>
<path d="M384.10,38.60 L384.45,38.20 L384.81,37.88 L385.16,37.72 L385.51,37.73 L385.87,37.93 L386.22,38.27 L386.57,38.68 L386.93,39.07 L387.28,39.36 L387.63,39.50 L387.99,39.44 L388.34,39.22 L388.69,38.86 L389.05,38.45 L389.40,38.07 L389.75,37.80 L390.11,37.70 L390.46,37.79 L390.81,38.04 L391.17,38.41 L391.52,38.82 L391.87,39.19 L392.23,39.43 L392.58,39.50 L392.93,39.38 L393.29,39.10 L393.64,38.71 L393.99,38.30 L394.35,37.96 L394.70,37.74" fill="none" stroke="#52b4cc" stroke-width="0.6" opacity="0.7"/>
<path d="M384.10,42.60 L384.45,43.00 L384.81,43.32 L385.16,43.48 L385.51,43.47 L385.87,43.27 L386.22,42.93 L386.57,42.52 L386.93,42.13 L387.28,41.84 L387.63,41.70 L387.99,41.76 L388.34,41.98 L388.69,42.34 L389.05,42.75 L389.40,43.13 L389.75,43.40 L390.11,43.50 L390.46,43.41 L390.81,43.16 L391.17,42.79 L391.52,42.38 L391.87,42.01 L392.23,41.77 L392.58,41.70 L392.93,41.82 L393.29,42.10 L393.64,42.49 L393.99,42.90 L394.35,43.24 L394.70,43.46" fill="none" stroke="#e3825e" stroke-width="1.1"/>
<path d="M384.10,42.60 L384.45,42.20 L384.81,41.88 L385.16,41.72 L385.51,41.73 L385.87,41.93 L386.22,42.27 L386.57,42.68 L386.93,43.07 L387.28,43.36 L387.63,43.50 L387.99,43.44 L388.34,43.22 L388.69,42.86 L389.05,42.45 L389.40,42.07 L389.75,41.80 L390.11,41.70 L390.46,41.79 L390.81,42.04 L391.17,42.41 L391.52,42.82 L391.87,43.19 L392.23,43.43 L392.58,43.50 L392.93,43.38 L393.29,43.10 L393.64,42.71 L393.99,42.30 L394.35,41.96 L394.70,41.74" fill="none" stroke="#e3825e" stroke-width="0.6" opacity="0.7"/>
<path d="M384.10,46.50 L384.45,46.90 L384.81,47.22 L385.16,47.38 L385.51,47.37 L385.87,47.17 L386.22,46.83 L386.57,46.42 L386.93,46.03 L387.28,45.74 L387.63,45.60 L387.99,45.66 L388.34,45.88 L388.69,46.24 L389.05,46.65 L389.40,47.03 L389.75,47.30 L390.11,47.40 L390.46,47.31 L390.81,47.06 L391.17,46.69 L391.52,46.28 L391.87,45.91 L392.23,45.67 L392.58,45.60 L392.93,45.72 L393.29,46.00 L393.64,46.39 L393.99,46.80 L394.35,47.14 L394.70,47.36" fill="none" stroke="#84a694" stroke-width="1.1"/>
<path d="M384.10,46.50 L384.45,46.10 L384.81,45.78 L385.16,45.62 L385.51,45.63 L385.87,45.83 L386.22,46.17 L386.57,46.58 L386.93,46.97 L387.28,47.26 L387.63,47.40 L387.99,47.34 L388.34,47.12 L388.69,46.76 L389.05,46.35 L389.40,45.97 L389.75,45.70 L390.11,45.60 L390.46,45.69 L390.81,45.94 L391.17,46.31 L391.52,46.72 L391.87,47.09 L392.23,47.33 L392.58,47.40 L392.93,47.28 L393.29,47.00 L393.64,46.61 L393.99,46.20 L394.35,45.86 L394.70,45.64" fill="none" stroke="#84a694" stroke-width="0.6" opacity="0.7"/>
<path d="M384.10,65.30 L384.45,65.70 L384.81,66.02 L385.16,66.18 L385.51,66.17 L385.87,65.97 L386.22,65.63 L386.57,65.22 L386.93,64.83 L387.28,64.54 L387.63,64.40 L387.99,64.46 L388.34,64.68 L388.69,65.04 L389.05,65.45 L389.40,65.83 L389.75,66.10 L390.11,66.20 L390.46,66.11 L390.81,65.86 L391.17,65.49 L391.52,65.08 L391.87,64.71 L392.23,64.47 L392.58,64.40 L392.93,64.52 L393.29,64.80 L393.64,65.19 L393.99,65.60 L394.35,65.94 L394.70,66.16" fill="none" stroke="#8ab4e0" stroke-width="1.1"/>
<path d="M384.10,65.30 L384.45,64.90 L384.81,64.58 L385.16,64.42 L385.51,64.43 L385.87,64.63 L386.22,64.97 L386.57,65.38 L386.93,65.77 L387.28,66.06 L387.63,66.20 L387.99,66.14 L388.34,65.92 L388.69,65.56 L389.05,65.15 L389.40,64.77 L389.75,64.50 L390.11,64.40 L390.46,64.49 L390.81,64.74 L391.17,65.11 L391.52,65.52 L391.87,65.89 L392.23,66.13 L392.58,66.20 L392.93,66.08 L393.29,65.80 L393.64,65.41 L393.99,65.00 L394.35,64.66 L394.70,64.44" fill="none" stroke="#8ab4e0" stroke-width="0.6" opacity="0.7"/>
<path d="M384.10,70.40 L384.45,70.80 L384.81,71.12 L385.16,71.28 L385.51,71.27 L385.87,71.07 L386.22,70.73 L386.57,70.32 L386.93,69.93 L387.28,69.64 L387.63,69.50 L387.99,69.56 L388.34,69.78 L388.69,70.14 L389.05,70.55 L389.40,70.93 L389.75,71.20 L390.11,71.30 L390.46,71.21 L390.81,70.96 L391.17,70.59 L391.52,70.18 L391.87,69.81 L392.23,69.57 L392.58,69.50 L392.93,69.62 L393.29,69.90 L393.64,70.29 L393.99,70.70 L394.35,71.04 L394.70,71.26" fill="none" stroke="#c490cc" stroke-width="1.1"/>
<path d="M384.10,70.40 L384.45,70.00 L384.81,69.68 L385.16,69.52 L385.51,69.53 L385.87,69.73 L386.22,70.07 L386.57,70.48 L386.93,70.87 L387.28,71.16 L387.63,71.30 L387.99,71.24 L388.34,71.02 L388.69,70.66 L389.05,70.25 L389.40,69.87 L389.75,69.60 L390.11,69.50 L390.46,69.59 L390.81,69.84 L391.17,70.21 L391.52,70.62 L391.87,70.99 L392.23,71.23 L392.58,71.30 L392.93,71.18 L393.29,70.90 L393.64,70.51 L393.99,70.10 L394.35,69.76 L394.70,69.54" fill="none" stroke="#c490cc" stroke-width="0.6" opacity="0.7"/>
<path d="M384.10,74.40 L384.45,74.80 L384.81,75.12 L385.16,75.28 L385.51,75.27 L385.87,75.07 L386.22,74.73 L386.57,74.32 L386.93,73.93 L387.28,73.64 L387.63,73.50 L387.99,73.56 L388.34,73.78 L388.69,74.14 L389.05,74.55 L389.40,74.93 L389.75,75.20 L390.11,75.30 L390.46,75.21 L390.81,74.96 L391.17,74.59 L391.52,74.18 L391.87,73.81 L392.23,73.57 L392.58,73.50 L392.93,73.62 L393.29,73.90 L393.64,74.29 L393.99,74.70 L394.35,75.04 L394.70,75.26" fill="none" stroke="#e0a0c8" stroke-width="1.1"/>
<path d="M384.10,74.40 L384.45,74.00 L384.81,73.68 L385.16,73.52 L385.51,73.53 L385.87,73.73 L386.22,74.07 L386.57,74.48 L386.93,74.87 L387.28,75.16 L387.63,75.30 L387.99,75.24 L388.34,75.02 L388.69,74.66 L389.05,74.25 L389.40,73.87 L389.75,73.60 L390.11,73.50 L390.46,73.59 L390.81,73.84 L391.17,74.21 L391.52,74.62 L391.87,74.99 L392.23,75.23 L392.58,75.30 L392.93,75.18 L393.29,74.90 L393.64,74.51 L393.99,74.10 L394.35,73.76 L394.70,73.54" fill="none" stroke="#e0a0c8" stroke-width="0.6" opacity="0.7"/>
<path d="M384.10,91.10 L384.45,91.50 L384.81,91.82 L385.16,91.98 L385.51,91.97 L385.87,91.77 L386.22,91.43 L386.57,91.02 L386.93,90.63 L387.28,90.34 L387.63,90.20 L387.99,90.26 L388.34,90.48 L388.69,90.84 L389.05,91.25 L389.40,91.63 L389.75,91.90 L390.11,92.00 L390.46,91.91 L390.81,91.66 L391.17,91.29 L391.52,90.88 L391.87,90.51 L392.23,90.27 L392.58,90.20 L392.93,90.32 L393.29,90.60 L393.64,90.99 L393.99,91.40 L394.35,91.74 L394.70,91.96" fill="none" stroke="#8ab8e0" stroke-width="1.1"/>
<path d="M384.10,91.10 L384.45,90.70 L384.81,90.38 L385.16,90.22 L385.51,90.23 L385.87,90.43 L386.22,90.77 L386.57,91.18 L386.93,91.57 L387.28,91.86 L387.63,92.00 L387.99,91.94 L388.34,91.72 L388.69,91.36 L389.05,90.95 L389.40,90.57 L389.75,90.30 L390.11,90.20 L390.46,90.29 L390.81,90.54 L391.17,90.91 L391.52,91.32 L391.87,91.69 L392.23,91.93 L392.58,92.00 L392.93,91.88 L393.29,91.60 L393.64,91.21 L393.99,90.80 L394.35,90.46 L394.70,90.24" fill="none" stroke="#8ab8e0" stroke-width="0.6" opacity="0.7"/>
<path d="M384.10,96.00 L384.45,96.40 L384.81,96.72 L385.16,96.88 L385.51,96.87 L385.87,96.67 L386.22,96.33 L386.57,95.92 L386.93,95.53 L387.28,95.24 L387.63,95.10 L387.99,95.16 L388.34,95.38 L388.69,95.74 L389.05,96.15 L389.40,96.53 L389.75,96.80 L390.11,96.90 L390.46,96.81 L390.81,96.56 L391.17,96.19 L391.52,95.78 L391.87,95.41 L392.23,95.17 L392.58,95.10 L392.93,95.22 L393.29,95.50 L393.64,95.89 L393.99,96.30 L394.35,96.64 L394.70,96.86" fill="none" stroke="#444" stroke-width="1.1"/>
<path d="M384.10,96.00 L384.45,95.60 L384.81,95.28 L385.16,95.12 L385.51,95.13 L385.87,95.33 L386.22,95.67 L386.57,96.08 L386.93,96.47 L387.28,96.76 L387.63,96.90 L387.99,96.84 L388.34,96.62 L388.69,96.26 L389.05,95.85 L389.40,95.47 L389.75,95.20 L390.11,95.10 L390.46,95.19 L390.81,95.44 L391.17,95.81 L391.52,96.22 L391.87,96.59 L392.23,96.83 L392.58,96.90 L392.93,96.78 L393.29,96.50 L393.64,96.11 L393.99,95.70 L394.35,95.36 L394.70,95.14" fill="none" stroke="#444" stroke-width="0.6" opacity="0.7"/>
<path d="M384.10,99.50 L384.45,99.90 L384.81,100.22 L385.16,100.38 L385.51,100.37 L385.87,100.17 L386.22,99.83 L386.57,99.42 L386.93,99.03 L387.28,98.74 L387.63,98.60 L387.99,98.66 L388.34,98.88 L388.69,99.24 L389.05,99.65 L389.40,100.03 L389.75,100.30 L390.11,100.40 L390.46,100.31 L390.81,100.06 L391.17,99.69 L391.52,99.28 L391.87,98.91 L392.23,98.67 L392.58,98.60 L392.93,98.72 L393.29,99.00 L393.64,99.39 L393.99,99.80 L394.35,100.14 L394.70,100.36" fill="none" stroke="#8ab0e0" stroke-width="1.1"/>
<path d="M384.10,99.50 L384.45,99.10 L384.81,98.78 L385.16,98.62 L385.51,98.63 L385.87,98.83 L386.22,99.17 L386.57,99.58 L386.93,99.97 L387.28,100.26 L387.63,100.40 L387.99,100.34 L388.34,100.12 L388.69,99.76 L389.05,99.35 L389.40,98.97 L389.75,98.70 L390.11,98.60 L390.46,98.69 L390.81,98.94 L391.17,99.31 L391.52,99.72 L391.87,100.09 L392.23,100.33 L392.58,100.40 L392.93,100.28 L393.29,100.00 L393.64,99.61 L393.99,99.20 L394.35,98.86 L394.70,98.64" fill="none" stroke="#8ab0e0" stroke-width="0.6" opacity="0.7"/>
<path d="M400.00,40.50 C403.00,40.50 403.00,42.00 403.00,44.50 L403.00,61.55 C403.00,64.55 405.90,65.55 406.90,65.55 C405.90,65.55 403.00,66.55 403.00,69.55 L403.00,86.60 C403.00,89.10 403.00,90.60 400.00,90.60" fill="none" stroke="#111" stroke-width="1.1"/>
<line x1="410.90" y1="67.40" x2="441.90" y2="67.40" stroke="#111" stroke-width="1.1" />
<polygon points="445.60,67.40 441.40,65.10 441.40,69.70" fill="#111"/>
<text transform="translate(428.40,47.94) scale(0.955,1)" font-size="5.24" text-anchor="middle" fill="#333" font-weight="normal"  stroke="#333" stroke-width="0.16">PCR</text>
<text transform="translate(428.80,54.14) scale(0.955,1)" font-size="5.24" text-anchor="middle" fill="#333" font-weight="normal"  stroke="#333" stroke-width="0.16">amplification of</text>
<text transform="translate(428.80,60.24) scale(0.955,1)" font-size="5.24" text-anchor="middle" fill="#333" font-weight="normal"  stroke="#333" stroke-width="0.16">sgRNA region</text>
<line x1="454.80" y1="67.40" x2="485.10" y2="67.40" stroke="#111" stroke-width="1.1" />
<polygon points="488.80,67.40 484.60,65.10 484.60,69.70" fill="#111"/>
<text transform="translate(468.00,47.64) scale(0.955,1)" font-size="5.24" text-anchor="middle" fill="#333" font-weight="normal"  stroke="#333" stroke-width="0.16">High-</text>
<text transform="translate(468.00,54.14) scale(0.955,1)" font-size="5.24" text-anchor="middle" fill="#333" font-weight="normal"  stroke="#333" stroke-width="0.16">throughput</text>
<text transform="translate(468.60,60.24) scale(0.955,1)" font-size="5.24" text-anchor="middle" fill="#333" font-weight="normal"  stroke="#333" stroke-width="0.16">Sequencing</text>
<text transform="translate(500.20,65.64) scale(0.955,1)" font-size="5.24" text-anchor="middle" fill="#333" font-weight="normal"  stroke="#333" stroke-width="0.16">MAGeCK</text>
<text transform="translate(500.40,71.94) scale(0.955,1)" font-size="5.24" text-anchor="middle" fill="#333" font-weight="normal"  stroke="#333" stroke-width="0.16">analysis</text>
<circle cx="130.80" cy="273.82" r="1.9" fill="#c8c6cc" />
<circle cx="132.54" cy="274.43" r="1.9" fill="#c8c6cc" />
<circle cx="133.91" cy="273.73" r="1.9" fill="#c8c6cc" />
<circle cx="136.00" cy="273.68" r="1.9" fill="#c8c6cc" />
<circle cx="137.97" cy="274.29" r="1.9" fill="#c8c6cc" />
<circle cx="138.87" cy="273.66" r="1.9" fill="#c8c6cc" />
<circle cx="140.47" cy="273.83" r="1.9" fill="#c8c6cc" />
<circle cx="142.14" cy="274.10" r="1.9" fill="#c8c6cc" />
<circle cx="144.65" cy="274.16" r="1.9" fill="#c8c6cc" />
<circle cx="146.01" cy="274.30" r="1.9" fill="#c8c6cc" />
<circle cx="147.49" cy="274.64" r="1.9" fill="#c8c6cc" />
<circle cx="149.75" cy="274.35" r="1.9" fill="#c8c6cc" />
<circle cx="150.84" cy="273.93" r="1.9" fill="#c8c6cc" />
<circle cx="153.08" cy="274.04" r="1.9" fill="#c8c6cc" />
<circle cx="154.40" cy="274.60" r="1.9" fill="#c8c6cc" />
<circle cx="155.71" cy="273.85" r="1.9" fill="#c8c6cc" />
<circle cx="157.88" cy="274.62" r="1.9" fill="#c8c6cc" />
<circle cx="159.18" cy="274.27" r="1.9" fill="#c8c6cc" />
<circle cx="161.08" cy="273.73" r="1.9" fill="#c8c6cc" />
<circle cx="163.47" cy="274.40" r="1.9" fill="#c8c6cc" />
<circle cx="164.46" cy="273.74" r="1.9" fill="#c8c6cc" />
<circle cx="166.71" cy="273.82" r="1.9" fill="#c8c6cc" />
<circle cx="168.06" cy="273.83" r="1.9" fill="#c8c6cc" />
<circle cx="169.44" cy="274.28" r="1.9" fill="#c8c6cc" />
<circle cx="171.43" cy="273.85" r="1.9" fill="#c8c6cc" />
<circle cx="173.68" cy="274.44" r="1.9" fill="#c8c6cc" />
<circle cx="175.29" cy="273.85" r="1.9" fill="#c8c6cc" />
<circle cx="176.96" cy="274.28" r="1.9" fill="#c8c6cc" />
<circle cx="178.80" cy="273.85" r="1.9" fill="#c8c6cc" />
<circle cx="180.28" cy="273.97" r="1.9" fill="#c8c6cc" />
<circle cx="181.28" cy="273.73" r="1.9" fill="#c8c6cc" />
<circle cx="183.15" cy="274.24" r="1.9" fill="#c8c6cc" />
<circle cx="131.04" cy="275.27" r="1.9" fill="#c8c6cc" />
<circle cx="132.78" cy="275.90" r="1.9" fill="#c8c6cc" />
<circle cx="133.76" cy="275.82" r="1.9" fill="#c8c6cc" />
<circle cx="135.47" cy="276.04" r="1.9" fill="#c8c6cc" />
<circle cx="137.57" cy="275.51" r="1.9" fill="#c8c6cc" />
<circle cx="138.71" cy="276.05" r="1.9" fill="#c8c6cc" />
<circle cx="141.07" cy="275.34" r="1.9" fill="#c8c6cc" />
<circle cx="142.67" cy="275.38" r="1.9" fill="#c8c6cc" />
<circle cx="144.49" cy="275.15" r="1.9" fill="#c8c6cc" />
<circle cx="146.03" cy="275.94" r="1.9" fill="#c8c6cc" />
<circle cx="147.45" cy="276.00" r="1.9" fill="#c8c6cc" />
<circle cx="148.89" cy="275.35" r="1.9" fill="#c8c6cc" />
<circle cx="150.63" cy="275.26" r="1.9" fill="#c8c6cc" />
<circle cx="152.84" cy="275.22" r="1.9" fill="#c8c6cc" />
<circle cx="154.86" cy="276.07" r="1.9" fill="#c8c6cc" />
<circle cx="156.36" cy="275.67" r="1.9" fill="#c8c6cc" />
<circle cx="157.40" cy="275.10" r="1.9" fill="#c8c6cc" />
<circle cx="159.77" cy="276.05" r="1.9" fill="#c8c6cc" />
<circle cx="161.41" cy="275.57" r="1.9" fill="#c8c6cc" />
<circle cx="162.79" cy="276.08" r="1.9" fill="#c8c6cc" />
<circle cx="164.71" cy="275.82" r="1.9" fill="#c8c6cc" />
<circle cx="166.61" cy="275.79" r="1.9" fill="#c8c6cc" />
<circle cx="168.48" cy="275.44" r="1.9" fill="#c8c6cc" />
<circle cx="170.17" cy="275.96" r="1.9" fill="#c8c6cc" />
<circle cx="171.76" cy="275.95" r="1.9" fill="#c8c6cc" />
<circle cx="173.29" cy="275.47" r="1.9" fill="#c8c6cc" />
<circle cx="174.98" cy="275.17" r="1.9" fill="#c8c6cc" />
<circle cx="177.06" cy="275.96" r="1.9" fill="#c8c6cc" />
<circle cx="178.16" cy="275.82" r="1.9" fill="#c8c6cc" />
<circle cx="179.91" cy="275.92" r="1.9" fill="#c8c6cc" />
<circle cx="181.92" cy="275.11" r="1.9" fill="#c8c6cc" />
<circle cx="183.35" cy="275.32" r="1.9" fill="#c8c6cc" />
<circle cx="130.95" cy="276.83" r="1.9" fill="#c8c6cc" />
<circle cx="132.85" cy="276.70" r="1.9" fill="#c8c6cc" />
<circle cx="135.00" cy="276.97" r="1.9" fill="#c8c6cc" />
<circle cx="136.37" cy="277.20" r="1.9" fill="#c8c6cc" />
<circle cx="138.17" cy="277.34" r="1.9" fill="#c8c6cc" />
<circle cx="140.32" cy="276.91" r="1.9" fill="#c8c6cc" />
<circle cx="141.46" cy="276.67" r="1.9" fill="#c8c6cc" />
<circle cx="143.68" cy="277.38" r="1.9" fill="#c8c6cc" />
<circle cx="145.49" cy="276.81" r="1.9" fill="#c8c6cc" />
<circle cx="146.69" cy="276.81" r="1.9" fill="#c8c6cc" />
<circle cx="148.36" cy="277.16" r="1.9" fill="#c8c6cc" />
<circle cx="149.96" cy="277.37" r="1.9" fill="#c8c6cc" />
<circle cx="151.79" cy="276.60" r="1.9" fill="#c8c6cc" />
<circle cx="153.92" cy="276.57" r="1.9" fill="#c8c6cc" />
<circle cx="155.31" cy="276.84" r="1.9" fill="#c8c6cc" />
<circle cx="156.46" cy="276.67" r="1.9" fill="#c8c6cc" />
<circle cx="158.17" cy="277.36" r="1.9" fill="#c8c6cc" />
<circle cx="159.98" cy="276.58" r="1.9" fill="#c8c6cc" />
<circle cx="161.99" cy="277.16" r="1.9" fill="#c8c6cc" />
<circle cx="164.05" cy="277.49" r="1.9" fill="#c8c6cc" />
<circle cx="165.14" cy="277.01" r="1.9" fill="#c8c6cc" />
<circle cx="166.65" cy="277.00" r="1.9" fill="#c8c6cc" />
<circle cx="168.52" cy="276.80" r="1.9" fill="#c8c6cc" />
<circle cx="170.74" cy="277.05" r="1.9" fill="#c8c6cc" />
<circle cx="172.50" cy="276.92" r="1.9" fill="#c8c6cc" />
<circle cx="174.35" cy="276.62" r="1.9" fill="#c8c6cc" />
<circle cx="175.86" cy="276.66" r="1.9" fill="#c8c6cc" />
<circle cx="177.47" cy="277.44" r="1.9" fill="#c8c6cc" />
<circle cx="179.11" cy="277.41" r="1.9" fill="#c8c6cc" />
<circle cx="181.19" cy="276.99" r="1.9" fill="#c8c6cc" />
<circle cx="182.15" cy="277.25" r="1.9" fill="#c8c6cc" />
<circle cx="132.28" cy="278.95" r="1.9" fill="#c8c6cc" />
<circle cx="133.79" cy="278.30" r="1.9" fill="#c8c6cc" />
<circle cx="135.56" cy="278.32" r="1.9" fill="#c8c6cc" />
<circle cx="136.84" cy="278.53" r="1.9" fill="#c8c6cc" />
<circle cx="138.59" cy="278.00" r="1.9" fill="#c8c6cc" />
<circle cx="139.87" cy="278.77" r="1.9" fill="#c8c6cc" />
<circle cx="141.84" cy="278.76" r="1.9" fill="#c8c6cc" />
<circle cx="143.35" cy="278.49" r="1.9" fill="#c8c6cc" />
<circle cx="145.74" cy="278.66" r="1.9" fill="#c8c6cc" />
<circle cx="147.10" cy="278.92" r="1.9" fill="#c8c6cc" />
<circle cx="148.52" cy="278.50" r="1.9" fill="#c8c6cc" />
<circle cx="150.73" cy="278.61" r="1.9" fill="#c8c6cc" />
<circle cx="152.55" cy="278.53" r="1.9" fill="#c8c6cc" />
<circle cx="153.78" cy="278.82" r="1.9" fill="#c8c6cc" />
<circle cx="155.31" cy="278.83" r="1.9" fill="#c8c6cc" />
<circle cx="157.33" cy="278.55" r="1.9" fill="#c8c6cc" />
<circle cx="159.04" cy="278.48" r="1.9" fill="#c8c6cc" />
<circle cx="160.23" cy="278.94" r="1.9" fill="#c8c6cc" />
<circle cx="162.30" cy="278.78" r="1.9" fill="#c8c6cc" />
<circle cx="164.09" cy="278.67" r="1.9" fill="#c8c6cc" />
<circle cx="165.84" cy="278.39" r="1.9" fill="#c8c6cc" />
<circle cx="167.93" cy="278.24" r="1.9" fill="#c8c6cc" />
<circle cx="168.83" cy="278.41" r="1.9" fill="#c8c6cc" />
<circle cx="171.30" cy="278.45" r="1.9" fill="#c8c6cc" />
<circle cx="172.29" cy="278.59" r="1.9" fill="#c8c6cc" />
<circle cx="173.93" cy="278.75" r="1.9" fill="#c8c6cc" />
<circle cx="175.70" cy="278.20" r="1.9" fill="#c8c6cc" />
<circle cx="177.53" cy="278.33" r="1.9" fill="#c8c6cc" />
<circle cx="179.01" cy="278.71" r="1.9" fill="#c8c6cc" />
<circle cx="181.11" cy="278.23" r="1.9" fill="#c8c6cc" />
<circle cx="182.83" cy="278.41" r="1.9" fill="#c8c6cc" />
<circle cx="184.92" cy="280.18" r="1.9" fill="#c8c6cc" />
<circle cx="131.07" cy="280.27" r="1.9" fill="#c8c6cc" />
<circle cx="133.09" cy="279.65" r="1.9" fill="#c8c6cc" />
<circle cx="134.75" cy="280.32" r="1.9" fill="#c8c6cc" />
<circle cx="135.95" cy="280.34" r="1.9" fill="#c8c6cc" />
<circle cx="138.34" cy="280.31" r="1.9" fill="#c8c6cc" />
<circle cx="139.28" cy="280.15" r="1.9" fill="#c8c6cc" />
<circle cx="140.84" cy="280.25" r="1.9" fill="#c8c6cc" />
<circle cx="143.23" cy="279.55" r="1.9" fill="#c8c6cc" />
<circle cx="144.82" cy="279.44" r="1.9" fill="#c8c6cc" />
<circle cx="146.52" cy="280.33" r="1.9" fill="#c8c6cc" />
<circle cx="147.65" cy="279.93" r="1.9" fill="#c8c6cc" />
<circle cx="149.74" cy="280.11" r="1.9" fill="#c8c6cc" />
<circle cx="151.01" cy="279.53" r="1.9" fill="#c8c6cc" />
<circle cx="153.19" cy="279.93" r="1.9" fill="#c8c6cc" />
<circle cx="154.48" cy="279.60" r="1.9" fill="#c8c6cc" />
<circle cx="156.88" cy="280.41" r="1.9" fill="#c8c6cc" />
<circle cx="157.83" cy="279.48" r="1.9" fill="#c8c6cc" />
<circle cx="159.90" cy="280.18" r="1.9" fill="#c8c6cc" />
<circle cx="161.61" cy="279.94" r="1.9" fill="#c8c6cc" />
<circle cx="163.44" cy="279.43" r="1.9" fill="#c8c6cc" />
<circle cx="165.38" cy="279.60" r="1.9" fill="#c8c6cc" />
<circle cx="166.98" cy="279.83" r="1.9" fill="#c8c6cc" />
<circle cx="168.10" cy="279.93" r="1.9" fill="#c8c6cc" />
<circle cx="170.53" cy="280.22" r="1.9" fill="#c8c6cc" />
<circle cx="172.20" cy="280.05" r="1.9" fill="#c8c6cc" />
<circle cx="173.64" cy="279.92" r="1.9" fill="#c8c6cc" />
<circle cx="175.54" cy="279.68" r="1.9" fill="#c8c6cc" />
<circle cx="177.18" cy="280.20" r="1.9" fill="#c8c6cc" />
<circle cx="178.54" cy="280.32" r="1.9" fill="#c8c6cc" />
<circle cx="180.53" cy="280.19" r="1.9" fill="#c8c6cc" />
<circle cx="181.94" cy="280.14" r="1.9" fill="#c8c6cc" />
<circle cx="185.01" cy="281.64" r="1.9" fill="#c8c6cc" />
<circle cx="130.28" cy="281.81" r="1.9" fill="#c8c6cc" />
<circle cx="132.09" cy="281.52" r="1.9" fill="#c8c6cc" />
<circle cx="133.98" cy="281.25" r="1.9" fill="#c8c6cc" />
<circle cx="135.79" cy="281.57" r="1.9" fill="#c8c6cc" />
<circle cx="137.83" cy="280.89" r="1.9" fill="#c8c6cc" />
<circle cx="139.29" cy="281.12" r="1.9" fill="#c8c6cc" />
<circle cx="140.30" cy="281.06" r="1.9" fill="#c8c6cc" />
<circle cx="142.05" cy="281.12" r="1.9" fill="#c8c6cc" />
<circle cx="144.20" cy="281.37" r="1.9" fill="#c8c6cc" />
<circle cx="145.92" cy="281.86" r="1.9" fill="#c8c6cc" />
<circle cx="147.86" cy="280.94" r="1.9" fill="#c8c6cc" />
<circle cx="149.51" cy="280.91" r="1.9" fill="#c8c6cc" />
<circle cx="150.61" cy="281.34" r="1.9" fill="#c8c6cc" />
<circle cx="152.64" cy="281.48" r="1.9" fill="#c8c6cc" />
<circle cx="154.79" cy="281.29" r="1.9" fill="#c8c6cc" />
<circle cx="156.15" cy="281.23" r="1.9" fill="#c8c6cc" />
<circle cx="157.90" cy="281.43" r="1.9" fill="#c8c6cc" />
<circle cx="159.66" cy="281.16" r="1.9" fill="#c8c6cc" />
<circle cx="160.89" cy="280.91" r="1.9" fill="#c8c6cc" />
<circle cx="163.10" cy="281.25" r="1.9" fill="#c8c6cc" />
<circle cx="164.80" cy="280.92" r="1.9" fill="#c8c6cc" />
<circle cx="166.69" cy="280.94" r="1.9" fill="#c8c6cc" />
<circle cx="167.88" cy="281.34" r="1.9" fill="#c8c6cc" />
<circle cx="169.39" cy="281.39" r="1.9" fill="#c8c6cc" />
<circle cx="171.57" cy="281.33" r="1.9" fill="#c8c6cc" />
<circle cx="173.36" cy="281.47" r="1.9" fill="#c8c6cc" />
<circle cx="174.87" cy="281.32" r="1.9" fill="#c8c6cc" />
<circle cx="176.00" cy="281.39" r="1.9" fill="#c8c6cc" />
<circle cx="178.09" cy="281.53" r="1.9" fill="#c8c6cc" />
<circle cx="179.61" cy="281.45" r="1.9" fill="#c8c6cc" />
<circle cx="181.83" cy="281.40" r="1.9" fill="#c8c6cc" />
<circle cx="183.70" cy="281.60" r="1.9" fill="#c8c6cc" />
<circle cx="130.86" cy="282.58" r="1.9" fill="#c8c6cc" />
<circle cx="132.77" cy="282.90" r="1.9" fill="#c8c6cc" />
<circle cx="134.66" cy="282.50" r="1.9" fill="#c8c6cc" />
<circle cx="136.58" cy="283.23" r="1.9" fill="#c8c6cc" />
<circle cx="137.34" cy="282.37" r="1.9" fill="#c8c6cc" />
<circle cx="139.43" cy="282.93" r="1.9" fill="#c8c6cc" />
<circle cx="141.25" cy="282.38" r="1.9" fill="#c8c6cc" />
<circle cx="143.08" cy="282.86" r="1.9" fill="#c8c6cc" />
<circle cx="144.48" cy="282.79" r="1.9" fill="#c8c6cc" />
<circle cx="146.15" cy="283.05" r="1.9" fill="#c8c6cc" />
<circle cx="147.58" cy="282.43" r="1.9" fill="#c8c6cc" />
<circle cx="149.83" cy="283.08" r="1.9" fill="#c8c6cc" />
<circle cx="151.33" cy="282.57" r="1.9" fill="#c8c6cc" />
<circle cx="152.97" cy="282.96" r="1.9" fill="#c8c6cc" />
<circle cx="154.63" cy="282.86" r="1.9" fill="#c8c6cc" />
<circle cx="156.93" cy="282.74" r="1.9" fill="#c8c6cc" />
<circle cx="157.80" cy="283.19" r="1.9" fill="#c8c6cc" />
<circle cx="159.49" cy="282.87" r="1.9" fill="#c8c6cc" />
<circle cx="161.79" cy="282.61" r="1.9" fill="#c8c6cc" />
<circle cx="162.88" cy="282.52" r="1.9" fill="#c8c6cc" />
<circle cx="164.59" cy="282.61" r="1.9" fill="#c8c6cc" />
<circle cx="166.90" cy="282.59" r="1.9" fill="#c8c6cc" />
<circle cx="168.26" cy="283.04" r="1.9" fill="#c8c6cc" />
<circle cx="169.72" cy="283.02" r="1.9" fill="#c8c6cc" />
<circle cx="172.22" cy="283.25" r="1.9" fill="#c8c6cc" />
<circle cx="173.44" cy="283.11" r="1.9" fill="#c8c6cc" />
<circle cx="175.02" cy="282.71" r="1.9" fill="#c8c6cc" />
<circle cx="177.30" cy="282.56" r="1.9" fill="#c8c6cc" />
<circle cx="178.47" cy="282.67" r="1.9" fill="#c8c6cc" />
<circle cx="180.19" cy="282.50" r="1.9" fill="#c8c6cc" />
<circle cx="182.30" cy="282.85" r="1.9" fill="#c8c6cc" />
<circle cx="130.18" cy="285.02" r="1.9" fill="#c8c6cc" />
<circle cx="132.34" cy="284.30" r="1.9" fill="#c8c6cc" />
<circle cx="134.49" cy="284.41" r="1.9" fill="#c8c6cc" />
<circle cx="135.28" cy="284.30" r="1.9" fill="#c8c6cc" />
<circle cx="137.00" cy="283.84" r="1.9" fill="#c8c6cc" />
<circle cx="139.52" cy="283.84" r="1.9" fill="#c8c6cc" />
<circle cx="140.46" cy="284.50" r="1.9" fill="#c8c6cc" />
<circle cx="142.27" cy="283.98" r="1.9" fill="#c8c6cc" />
<circle cx="144.24" cy="284.52" r="1.9" fill="#c8c6cc" />
<circle cx="145.76" cy="284.72" r="1.9" fill="#c8c6cc" />
<circle cx="147.61" cy="284.29" r="1.9" fill="#c8c6cc" />
<circle cx="149.53" cy="284.67" r="1.9" fill="#c8c6cc" />
<circle cx="151.35" cy="284.42" r="1.9" fill="#c8c6cc" />
<circle cx="153.03" cy="284.59" r="1.9" fill="#c8c6cc" />
<circle cx="154.88" cy="284.40" r="1.9" fill="#c8c6cc" />
<circle cx="156.33" cy="284.56" r="1.9" fill="#c8c6cc" />
<circle cx="157.74" cy="283.90" r="1.9" fill="#c8c6cc" />
<circle cx="160.01" cy="284.13" r="1.9" fill="#c8c6cc" />
<circle cx="160.93" cy="284.18" r="1.9" fill="#c8c6cc" />
<circle cx="163.39" cy="283.81" r="1.9" fill="#c8c6cc" />
<circle cx="164.24" cy="284.40" r="1.9" fill="#c8c6cc" />
<circle cx="166.00" cy="283.82" r="1.9" fill="#c8c6cc" />
<circle cx="168.10" cy="284.66" r="1.9" fill="#c8c6cc" />
<circle cx="169.33" cy="283.94" r="1.9" fill="#c8c6cc" />
<circle cx="171.16" cy="284.47" r="1.9" fill="#c8c6cc" />
<circle cx="172.84" cy="283.94" r="1.9" fill="#c8c6cc" />
<circle cx="174.49" cy="284.51" r="1.9" fill="#c8c6cc" />
<circle cx="176.57" cy="284.57" r="1.9" fill="#c8c6cc" />
<circle cx="177.98" cy="284.64" r="1.9" fill="#c8c6cc" />
<circle cx="179.76" cy="284.30" r="1.9" fill="#c8c6cc" />
<circle cx="181.60" cy="283.98" r="1.9" fill="#c8c6cc" />
<circle cx="183.77" cy="284.56" r="1.9" fill="#c8c6cc" />
<circle cx="131.57" cy="285.44" r="1.9" fill="#c8c6cc" />
<circle cx="133.08" cy="285.57" r="1.9" fill="#c8c6cc" />
<circle cx="135.02" cy="285.81" r="1.9" fill="#c8c6cc" />
<circle cx="136.17" cy="285.52" r="1.9" fill="#c8c6cc" />
<circle cx="138.58" cy="285.72" r="1.9" fill="#c8c6cc" />
<circle cx="140.40" cy="285.47" r="1.9" fill="#c8c6cc" />
<circle cx="141.26" cy="285.97" r="1.9" fill="#c8c6cc" />
<circle cx="143.63" cy="286.05" r="1.9" fill="#c8c6cc" />
<circle cx="144.59" cy="285.47" r="1.9" fill="#c8c6cc" />
<circle cx="146.31" cy="285.68" r="1.9" fill="#c8c6cc" />
<circle cx="148.87" cy="285.79" r="1.9" fill="#c8c6cc" />
<circle cx="149.91" cy="285.99" r="1.9" fill="#c8c6cc" />
<circle cx="152.23" cy="285.29" r="1.9" fill="#c8c6cc" />
<circle cx="153.22" cy="285.74" r="1.9" fill="#c8c6cc" />
<circle cx="154.87" cy="286.03" r="1.9" fill="#c8c6cc" />
<circle cx="156.72" cy="285.28" r="1.9" fill="#c8c6cc" />
<circle cx="158.58" cy="285.92" r="1.9" fill="#c8c6cc" />
<circle cx="160.50" cy="285.31" r="1.9" fill="#c8c6cc" />
<circle cx="161.97" cy="286.17" r="1.9" fill="#c8c6cc" />
<circle cx="163.86" cy="285.21" r="1.9" fill="#c8c6cc" />
<circle cx="165.62" cy="285.44" r="1.9" fill="#c8c6cc" />
<circle cx="167.07" cy="285.21" r="1.9" fill="#c8c6cc" />
<circle cx="169.11" cy="285.41" r="1.9" fill="#c8c6cc" />
<circle cx="170.30" cy="285.58" r="1.9" fill="#c8c6cc" />
<circle cx="172.01" cy="285.54" r="1.9" fill="#c8c6cc" />
<circle cx="174.08" cy="285.46" r="1.9" fill="#c8c6cc" />
<circle cx="175.84" cy="285.53" r="1.9" fill="#c8c6cc" />
<circle cx="177.37" cy="285.92" r="1.9" fill="#c8c6cc" />
<circle cx="179.34" cy="285.29" r="1.9" fill="#c8c6cc" />
<circle cx="180.30" cy="285.88" r="1.9" fill="#c8c6cc" />
<circle cx="182.09" cy="285.60" r="1.9" fill="#c8c6cc" />
<circle cx="130.83" cy="286.46" r="1.9" fill="#c8c6cc" />
<circle cx="185.16" cy="286.29" r="1.9" fill="#c8c6cc" />
<circle cx="132.10" cy="287.16" r="1.9" fill="#c8c6cc" />
<circle cx="134.14" cy="287.47" r="1.9" fill="#c8c6cc" />
<circle cx="135.40" cy="287.06" r="1.9" fill="#c8c6cc" />
<circle cx="137.17" cy="287.34" r="1.9" fill="#c8c6cc" />
<circle cx="139.26" cy="287.31" r="1.9" fill="#c8c6cc" />
<circle cx="140.19" cy="286.98" r="1.9" fill="#c8c6cc" />
<circle cx="142.52" cy="286.75" r="1.9" fill="#c8c6cc" />
<circle cx="144.08" cy="287.43" r="1.9" fill="#c8c6cc" />
<circle cx="145.88" cy="286.80" r="1.9" fill="#c8c6cc" />
<circle cx="147.87" cy="287.19" r="1.9" fill="#c8c6cc" />
<circle cx="149.17" cy="286.79" r="1.9" fill="#c8c6cc" />
<circle cx="151.36" cy="287.16" r="1.9" fill="#c8c6cc" />
<circle cx="152.90" cy="286.84" r="1.9" fill="#c8c6cc" />
<circle cx="154.40" cy="286.84" r="1.9" fill="#c8c6cc" />
<circle cx="155.71" cy="287.22" r="1.9" fill="#c8c6cc" />
<circle cx="157.50" cy="287.57" r="1.9" fill="#c8c6cc" />
<circle cx="159.33" cy="286.77" r="1.9" fill="#c8c6cc" />
<circle cx="160.70" cy="287.55" r="1.9" fill="#c8c6cc" />
<circle cx="162.83" cy="287.21" r="1.9" fill="#c8c6cc" />
<circle cx="164.88" cy="287.64" r="1.9" fill="#c8c6cc" />
<circle cx="166.27" cy="286.77" r="1.9" fill="#c8c6cc" />
<circle cx="167.66" cy="287.54" r="1.9" fill="#c8c6cc" />
<circle cx="169.64" cy="287.48" r="1.9" fill="#c8c6cc" />
<circle cx="171.32" cy="286.72" r="1.9" fill="#c8c6cc" />
<circle cx="172.65" cy="287.63" r="1.9" fill="#c8c6cc" />
<circle cx="174.83" cy="286.95" r="1.9" fill="#c8c6cc" />
<circle cx="176.61" cy="287.03" r="1.9" fill="#c8c6cc" />
<circle cx="178.37" cy="286.66" r="1.9" fill="#c8c6cc" />
<circle cx="179.74" cy="286.79" r="1.9" fill="#c8c6cc" />
<circle cx="181.54" cy="286.82" r="1.9" fill="#c8c6cc" />
<circle cx="182.93" cy="287.21" r="1.9" fill="#c8c6cc" />
<circle cx="129.01" cy="287.88" r="1.9" fill="#c8c6cc" />
<circle cx="130.99" cy="288.50" r="1.9" fill="#c8c6cc" />
<circle cx="132.90" cy="288.85" r="1.9" fill="#c8c6cc" />
<circle cx="134.40" cy="289.08" r="1.9" fill="#c8c6cc" />
<circle cx="136.47" cy="288.50" r="1.9" fill="#c8c6cc" />
<circle cx="137.88" cy="289.00" r="1.9" fill="#c8c6cc" />
<circle cx="139.54" cy="288.52" r="1.9" fill="#c8c6cc" />
<circle cx="141.04" cy="288.14" r="1.9" fill="#c8c6cc" />
<circle cx="143.32" cy="288.82" r="1.9" fill="#c8c6cc" />
<circle cx="144.87" cy="288.39" r="1.9" fill="#c8c6cc" />
<circle cx="145.88" cy="288.21" r="1.9" fill="#c8c6cc" />
<circle cx="148.02" cy="288.49" r="1.9" fill="#c8c6cc" />
<circle cx="149.91" cy="288.62" r="1.9" fill="#c8c6cc" />
<circle cx="151.22" cy="288.49" r="1.9" fill="#c8c6cc" />
<circle cx="152.68" cy="289.00" r="1.9" fill="#c8c6cc" />
<circle cx="154.98" cy="288.96" r="1.9" fill="#c8c6cc" />
<circle cx="156.82" cy="288.31" r="1.9" fill="#c8c6cc" />
<circle cx="158.28" cy="288.99" r="1.9" fill="#c8c6cc" />
<circle cx="160.21" cy="288.21" r="1.9" fill="#c8c6cc" />
<circle cx="162.07" cy="288.09" r="1.9" fill="#c8c6cc" />
<circle cx="163.11" cy="288.41" r="1.9" fill="#c8c6cc" />
<circle cx="165.41" cy="288.91" r="1.9" fill="#c8c6cc" />
<circle cx="166.57" cy="288.68" r="1.9" fill="#c8c6cc" />
<circle cx="167.95" cy="288.99" r="1.9" fill="#c8c6cc" />
<circle cx="170.11" cy="289.02" r="1.9" fill="#c8c6cc" />
<circle cx="171.79" cy="288.30" r="1.9" fill="#c8c6cc" />
<circle cx="173.94" cy="288.99" r="1.9" fill="#c8c6cc" />
<circle cx="175.55" cy="288.44" r="1.9" fill="#c8c6cc" />
<circle cx="176.59" cy="288.97" r="1.9" fill="#c8c6cc" />
<circle cx="178.32" cy="288.72" r="1.9" fill="#c8c6cc" />
<circle cx="180.70" cy="288.14" r="1.9" fill="#c8c6cc" />
<circle cx="182.24" cy="288.40" r="1.9" fill="#c8c6cc" />
<circle cx="185.55" cy="290.91" r="1.9" fill="#c8c6cc" />
<circle cx="131.61" cy="289.76" r="1.9" fill="#c8c6cc" />
<circle cx="133.94" cy="289.73" r="1.9" fill="#c8c6cc" />
<circle cx="135.17" cy="290.20" r="1.9" fill="#c8c6cc" />
<circle cx="137.01" cy="290.20" r="1.9" fill="#c8c6cc" />
<circle cx="138.92" cy="289.76" r="1.9" fill="#c8c6cc" />
<circle cx="140.96" cy="290.20" r="1.9" fill="#c8c6cc" />
<circle cx="142.37" cy="289.62" r="1.9" fill="#c8c6cc" />
<circle cx="143.87" cy="290.06" r="1.9" fill="#c8c6cc" />
<circle cx="145.18" cy="290.13" r="1.9" fill="#c8c6cc" />
<circle cx="147.08" cy="290.34" r="1.9" fill="#c8c6cc" />
<circle cx="148.82" cy="290.29" r="1.9" fill="#c8c6cc" />
<circle cx="150.51" cy="290.08" r="1.9" fill="#c8c6cc" />
<circle cx="152.83" cy="290.52" r="1.9" fill="#c8c6cc" />
<circle cx="154.10" cy="290.29" r="1.9" fill="#c8c6cc" />
<circle cx="156.26" cy="290.03" r="1.9" fill="#c8c6cc" />
<circle cx="157.59" cy="290.18" r="1.9" fill="#c8c6cc" />
<circle cx="159.39" cy="290.32" r="1.9" fill="#c8c6cc" />
<circle cx="160.94" cy="290.38" r="1.9" fill="#c8c6cc" />
<circle cx="162.65" cy="290.49" r="1.9" fill="#c8c6cc" />
<circle cx="164.61" cy="289.70" r="1.9" fill="#c8c6cc" />
<circle cx="165.77" cy="289.98" r="1.9" fill="#c8c6cc" />
<circle cx="168.02" cy="290.33" r="1.9" fill="#c8c6cc" />
<circle cx="169.42" cy="289.76" r="1.9" fill="#c8c6cc" />
<circle cx="171.13" cy="289.57" r="1.9" fill="#c8c6cc" />
<circle cx="173.05" cy="290.11" r="1.9" fill="#c8c6cc" />
<circle cx="174.21" cy="289.69" r="1.9" fill="#c8c6cc" />
<circle cx="176.23" cy="289.97" r="1.9" fill="#c8c6cc" />
<circle cx="177.70" cy="290.33" r="1.9" fill="#c8c6cc" />
<circle cx="180.04" cy="290.10" r="1.9" fill="#c8c6cc" />
<circle cx="181.63" cy="289.77" r="1.9" fill="#c8c6cc" />
<circle cx="182.84" cy="289.58" r="1.9" fill="#c8c6cc" />
<circle cx="131.41" cy="291.80" r="1.9" fill="#c8c6cc" />
<circle cx="133.28" cy="291.14" r="1.9" fill="#c8c6cc" />
<circle cx="135.56" cy="291.77" r="1.9" fill="#c8c6cc" />
<circle cx="136.84" cy="291.34" r="1.9" fill="#c8c6cc" />
<circle cx="139.10" cy="291.02" r="1.9" fill="#c8c6cc" />
<circle cx="140.59" cy="291.97" r="1.9" fill="#c8c6cc" />
<circle cx="141.98" cy="291.72" r="1.9" fill="#c8c6cc" />
<circle cx="143.47" cy="291.87" r="1.9" fill="#c8c6cc" />
<circle cx="145.32" cy="291.28" r="1.9" fill="#c8c6cc" />
<circle cx="146.70" cy="291.01" r="1.9" fill="#c8c6cc" />
<circle cx="149.09" cy="291.71" r="1.9" fill="#c8c6cc" />
<circle cx="150.28" cy="291.53" r="1.9" fill="#c8c6cc" />
<circle cx="152.19" cy="291.91" r="1.9" fill="#c8c6cc" />
<circle cx="153.76" cy="291.96" r="1.9" fill="#c8c6cc" />
<circle cx="155.17" cy="291.38" r="1.9" fill="#c8c6cc" />
<circle cx="156.88" cy="291.32" r="1.9" fill="#c8c6cc" />
<circle cx="159.39" cy="291.57" r="1.9" fill="#c8c6cc" />
<circle cx="160.69" cy="291.37" r="1.9" fill="#c8c6cc" />
<circle cx="162.31" cy="291.76" r="1.9" fill="#c8c6cc" />
<circle cx="163.97" cy="291.16" r="1.9" fill="#c8c6cc" />
<circle cx="165.49" cy="291.18" r="1.9" fill="#c8c6cc" />
<circle cx="167.49" cy="291.29" r="1.9" fill="#c8c6cc" />
<circle cx="169.72" cy="291.66" r="1.9" fill="#c8c6cc" />
<circle cx="170.63" cy="291.36" r="1.9" fill="#c8c6cc" />
<circle cx="172.82" cy="291.34" r="1.9" fill="#c8c6cc" />
<circle cx="173.84" cy="291.16" r="1.9" fill="#c8c6cc" />
<circle cx="175.92" cy="291.90" r="1.9" fill="#c8c6cc" />
<circle cx="177.49" cy="291.34" r="1.9" fill="#c8c6cc" />
<circle cx="179.86" cy="291.34" r="1.9" fill="#c8c6cc" />
<circle cx="181.35" cy="291.89" r="1.9" fill="#c8c6cc" />
<circle cx="182.91" cy="292.58" r="1.9" fill="#c8c6cc" />
<circle cx="132.22" cy="292.48" r="1.9" fill="#c8c6cc" />
<circle cx="133.64" cy="292.47" r="1.9" fill="#c8c6cc" />
<circle cx="135.70" cy="292.46" r="1.9" fill="#c8c6cc" />
<circle cx="137.22" cy="292.97" r="1.9" fill="#c8c6cc" />
<circle cx="139.21" cy="292.69" r="1.9" fill="#c8c6cc" />
<circle cx="140.87" cy="292.57" r="1.9" fill="#c8c6cc" />
<circle cx="142.18" cy="293.14" r="1.9" fill="#c8c6cc" />
<circle cx="143.99" cy="293.29" r="1.9" fill="#c8c6cc" />
<circle cx="145.59" cy="292.77" r="1.9" fill="#c8c6cc" />
<circle cx="147.04" cy="292.45" r="1.9" fill="#c8c6cc" />
<circle cx="149.27" cy="293.23" r="1.9" fill="#c8c6cc" />
<circle cx="150.70" cy="293.10" r="1.9" fill="#c8c6cc" />
<circle cx="152.32" cy="293.11" r="1.9" fill="#c8c6cc" />
<circle cx="154.76" cy="293.29" r="1.9" fill="#c8c6cc" />
<circle cx="156.13" cy="292.51" r="1.9" fill="#c8c6cc" />
<circle cx="157.59" cy="292.49" r="1.9" fill="#c8c6cc" />
<circle cx="159.23" cy="292.92" r="1.9" fill="#c8c6cc" />
<circle cx="160.76" cy="292.83" r="1.9" fill="#c8c6cc" />
<circle cx="162.47" cy="293.09" r="1.9" fill="#c8c6cc" />
<circle cx="164.09" cy="292.77" r="1.9" fill="#c8c6cc" />
<circle cx="165.85" cy="293.01" r="1.9" fill="#c8c6cc" />
<circle cx="167.95" cy="293.13" r="1.9" fill="#c8c6cc" />
<circle cx="169.49" cy="292.79" r="1.9" fill="#c8c6cc" />
<circle cx="171.21" cy="292.48" r="1.9" fill="#c8c6cc" />
<circle cx="173.09" cy="292.89" r="1.9" fill="#c8c6cc" />
<circle cx="174.45" cy="292.45" r="1.9" fill="#c8c6cc" />
<circle cx="176.79" cy="292.99" r="1.9" fill="#c8c6cc" />
<circle cx="178.27" cy="292.61" r="1.9" fill="#c8c6cc" />
<circle cx="179.92" cy="293.38" r="1.9" fill="#c8c6cc" />
<circle cx="133.97" cy="294.28" r="1.9" fill="#c8c6cc" />
<circle cx="135.32" cy="294.70" r="1.9" fill="#c8c6cc" />
<circle cx="137.13" cy="294.78" r="1.9" fill="#c8c6cc" />
<circle cx="138.58" cy="294.38" r="1.9" fill="#c8c6cc" />
<circle cx="140.51" cy="294.85" r="1.9" fill="#c8c6cc" />
<circle cx="142.04" cy="294.10" r="1.9" fill="#c8c6cc" />
<circle cx="143.78" cy="293.87" r="1.9" fill="#c8c6cc" />
<circle cx="145.64" cy="294.11" r="1.9" fill="#c8c6cc" />
<circle cx="147.60" cy="294.42" r="1.9" fill="#c8c6cc" />
<circle cx="149.21" cy="294.70" r="1.9" fill="#c8c6cc" />
<circle cx="150.68" cy="294.22" r="1.9" fill="#c8c6cc" />
<circle cx="152.36" cy="294.59" r="1.9" fill="#c8c6cc" />
<circle cx="154.44" cy="294.83" r="1.9" fill="#c8c6cc" />
<circle cx="155.61" cy="294.49" r="1.9" fill="#c8c6cc" />
<circle cx="157.71" cy="294.24" r="1.9" fill="#c8c6cc" />
<circle cx="159.60" cy="294.40" r="1.9" fill="#c8c6cc" />
<circle cx="160.80" cy="294.19" r="1.9" fill="#c8c6cc" />
<circle cx="162.76" cy="294.00" r="1.9" fill="#c8c6cc" />
<circle cx="164.02" cy="293.97" r="1.9" fill="#c8c6cc" />
<circle cx="165.76" cy="294.32" r="1.9" fill="#c8c6cc" />
<circle cx="167.83" cy="294.03" r="1.9" fill="#c8c6cc" />
<circle cx="169.92" cy="293.92" r="1.9" fill="#c8c6cc" />
<circle cx="171.26" cy="294.67" r="1.9" fill="#c8c6cc" />
<circle cx="173.16" cy="294.12" r="1.9" fill="#c8c6cc" />
<circle cx="174.48" cy="294.20" r="1.9" fill="#c8c6cc" />
<circle cx="176.69" cy="294.70" r="1.9" fill="#c8c6cc" />
<circle cx="177.97" cy="294.58" r="1.9" fill="#c8c6cc" />
<circle cx="180.08" cy="294.67" r="1.9" fill="#c8c6cc" />
<circle cx="133.85" cy="295.90" r="1.9" fill="#c8c6cc" />
<circle cx="136.51" cy="295.45" r="1.9" fill="#c8c6cc" />
<circle cx="137.66" cy="295.95" r="1.9" fill="#c8c6cc" />
<circle cx="139.87" cy="296.30" r="1.9" fill="#c8c6cc" />
<circle cx="141.35" cy="295.43" r="1.9" fill="#c8c6cc" />
<circle cx="142.62" cy="296.05" r="1.9" fill="#c8c6cc" />
<circle cx="144.16" cy="295.65" r="1.9" fill="#c8c6cc" />
<circle cx="146.28" cy="295.80" r="1.9" fill="#c8c6cc" />
<circle cx="147.75" cy="296.12" r="1.9" fill="#c8c6cc" />
<circle cx="149.42" cy="295.71" r="1.9" fill="#c8c6cc" />
<circle cx="151.60" cy="296.30" r="1.9" fill="#c8c6cc" />
<circle cx="153.23" cy="295.86" r="1.9" fill="#c8c6cc" />
<circle cx="154.38" cy="295.49" r="1.9" fill="#c8c6cc" />
<circle cx="156.87" cy="295.57" r="1.9" fill="#c8c6cc" />
<circle cx="157.76" cy="295.64" r="1.9" fill="#c8c6cc" />
<circle cx="159.90" cy="295.46" r="1.9" fill="#c8c6cc" />
<circle cx="161.31" cy="295.54" r="1.9" fill="#c8c6cc" />
<circle cx="163.10" cy="295.57" r="1.9" fill="#c8c6cc" />
<circle cx="164.50" cy="296.21" r="1.9" fill="#c8c6cc" />
<circle cx="166.22" cy="295.50" r="1.9" fill="#c8c6cc" />
<circle cx="168.83" cy="295.52" r="1.9" fill="#c8c6cc" />
<circle cx="170.02" cy="295.73" r="1.9" fill="#c8c6cc" />
<circle cx="171.63" cy="295.37" r="1.9" fill="#c8c6cc" />
<circle cx="173.59" cy="295.94" r="1.9" fill="#c8c6cc" />
<circle cx="175.58" cy="296.18" r="1.9" fill="#c8c6cc" />
<circle cx="176.78" cy="296.15" r="1.9" fill="#c8c6cc" />
<circle cx="178.21" cy="295.34" r="1.9" fill="#c8c6cc" />
<circle cx="133.31" cy="297.77" r="1.9" fill="#c8c6cc" />
<circle cx="134.36" cy="296.97" r="1.9" fill="#c8c6cc" />
<circle cx="136.06" cy="297.29" r="1.9" fill="#c8c6cc" />
<circle cx="138.54" cy="297.50" r="1.9" fill="#c8c6cc" />
<circle cx="140.25" cy="297.59" r="1.9" fill="#c8c6cc" />
<circle cx="142.13" cy="296.86" r="1.9" fill="#c8c6cc" />
<circle cx="143.25" cy="297.47" r="1.9" fill="#c8c6cc" />
<circle cx="145.46" cy="296.78" r="1.9" fill="#c8c6cc" />
<circle cx="146.48" cy="297.15" r="1.9" fill="#c8c6cc" />
<circle cx="148.61" cy="297.57" r="1.9" fill="#c8c6cc" />
<circle cx="150.29" cy="297.11" r="1.9" fill="#c8c6cc" />
<circle cx="152.25" cy="297.08" r="1.9" fill="#c8c6cc" />
<circle cx="153.38" cy="297.50" r="1.9" fill="#c8c6cc" />
<circle cx="155.49" cy="297.31" r="1.9" fill="#c8c6cc" />
<circle cx="156.63" cy="296.87" r="1.9" fill="#c8c6cc" />
<circle cx="158.50" cy="297.19" r="1.9" fill="#c8c6cc" />
<circle cx="160.35" cy="297.16" r="1.9" fill="#c8c6cc" />
<circle cx="162.09" cy="297.71" r="1.9" fill="#c8c6cc" />
<circle cx="164.13" cy="297.08" r="1.9" fill="#c8c6cc" />
<circle cx="165.06" cy="297.75" r="1.9" fill="#c8c6cc" />
<circle cx="167.61" cy="296.98" r="1.9" fill="#c8c6cc" />
<circle cx="169.06" cy="296.94" r="1.9" fill="#c8c6cc" />
<circle cx="170.73" cy="297.71" r="1.9" fill="#c8c6cc" />
<circle cx="171.93" cy="297.12" r="1.9" fill="#c8c6cc" />
<circle cx="173.60" cy="297.39" r="1.9" fill="#c8c6cc" />
<circle cx="175.79" cy="296.97" r="1.9" fill="#c8c6cc" />
<circle cx="177.74" cy="297.62" r="1.9" fill="#c8c6cc" />
<circle cx="180.61" cy="299.08" r="1.9" fill="#c8c6cc" />
<circle cx="136.28" cy="298.62" r="1.9" fill="#c8c6cc" />
<circle cx="137.54" cy="298.81" r="1.9" fill="#c8c6cc" />
<circle cx="139.53" cy="298.24" r="1.9" fill="#c8c6cc" />
<circle cx="141.16" cy="298.80" r="1.9" fill="#c8c6cc" />
<circle cx="143.35" cy="298.36" r="1.9" fill="#c8c6cc" />
<circle cx="145.11" cy="298.94" r="1.9" fill="#c8c6cc" />
<circle cx="146.55" cy="299.19" r="1.9" fill="#c8c6cc" />
<circle cx="148.38" cy="298.33" r="1.9" fill="#c8c6cc" />
<circle cx="149.71" cy="298.44" r="1.9" fill="#c8c6cc" />
<circle cx="151.56" cy="299.14" r="1.9" fill="#c8c6cc" />
<circle cx="153.41" cy="298.72" r="1.9" fill="#c8c6cc" />
<circle cx="154.38" cy="299.08" r="1.9" fill="#c8c6cc" />
<circle cx="156.26" cy="299.01" r="1.9" fill="#c8c6cc" />
<circle cx="158.25" cy="299.07" r="1.9" fill="#c8c6cc" />
<circle cx="159.69" cy="298.85" r="1.9" fill="#c8c6cc" />
<circle cx="161.67" cy="298.99" r="1.9" fill="#c8c6cc" />
<circle cx="163.06" cy="299.00" r="1.9" fill="#c8c6cc" />
<circle cx="165.28" cy="298.75" r="1.9" fill="#c8c6cc" />
<circle cx="167.01" cy="298.36" r="1.9" fill="#c8c6cc" />
<circle cx="168.01" cy="298.24" r="1.9" fill="#c8c6cc" />
<circle cx="170.48" cy="299.04" r="1.9" fill="#c8c6cc" />
<circle cx="171.50" cy="298.59" r="1.9" fill="#c8c6cc" />
<circle cx="173.63" cy="299.11" r="1.9" fill="#c8c6cc" />
<circle cx="175.70" cy="298.41" r="1.9" fill="#c8c6cc" />
<circle cx="177.29" cy="298.93" r="1.9" fill="#c8c6cc" />
<circle cx="179.84" cy="299.78" r="1.9" fill="#c8c6cc" />
<circle cx="135.38" cy="300.25" r="1.9" fill="#c8c6cc" />
<circle cx="136.98" cy="299.78" r="1.9" fill="#c8c6cc" />
<circle cx="138.96" cy="299.78" r="1.9" fill="#c8c6cc" />
<circle cx="141.14" cy="300.26" r="1.9" fill="#c8c6cc" />
<circle cx="142.09" cy="300.64" r="1.9" fill="#c8c6cc" />
<circle cx="144.33" cy="300.01" r="1.9" fill="#c8c6cc" />
<circle cx="145.70" cy="299.80" r="1.9" fill="#c8c6cc" />
<circle cx="147.42" cy="300.47" r="1.9" fill="#c8c6cc" />
<circle cx="149.15" cy="300.16" r="1.9" fill="#c8c6cc" />
<circle cx="150.74" cy="300.35" r="1.9" fill="#c8c6cc" />
<circle cx="152.68" cy="299.93" r="1.9" fill="#c8c6cc" />
<circle cx="154.08" cy="300.50" r="1.9" fill="#c8c6cc" />
<circle cx="155.95" cy="300.58" r="1.9" fill="#c8c6cc" />
<circle cx="157.94" cy="300.25" r="1.9" fill="#c8c6cc" />
<circle cx="158.96" cy="300.07" r="1.9" fill="#c8c6cc" />
<circle cx="161.04" cy="300.60" r="1.9" fill="#c8c6cc" />
<circle cx="162.99" cy="300.32" r="1.9" fill="#c8c6cc" />
<circle cx="164.41" cy="299.78" r="1.9" fill="#c8c6cc" />
<circle cx="165.95" cy="300.07" r="1.9" fill="#c8c6cc" />
<circle cx="168.22" cy="300.50" r="1.9" fill="#c8c6cc" />
<circle cx="169.64" cy="299.75" r="1.9" fill="#c8c6cc" />
<circle cx="170.88" cy="300.01" r="1.9" fill="#c8c6cc" />
<circle cx="173.22" cy="300.32" r="1.9" fill="#c8c6cc" />
<circle cx="175.09" cy="300.60" r="1.9" fill="#c8c6cc" />
<circle cx="176.53" cy="300.12" r="1.9" fill="#c8c6cc" />
<circle cx="178.06" cy="299.97" r="1.9" fill="#c8c6cc" />
<circle cx="137.54" cy="301.92" r="1.9" fill="#c8c6cc" />
<circle cx="139.55" cy="302.09" r="1.9" fill="#c8c6cc" />
<circle cx="141.01" cy="301.50" r="1.9" fill="#c8c6cc" />
<circle cx="142.46" cy="302.08" r="1.9" fill="#c8c6cc" />
<circle cx="144.32" cy="301.24" r="1.9" fill="#c8c6cc" />
<circle cx="146.39" cy="301.18" r="1.9" fill="#c8c6cc" />
<circle cx="148.00" cy="301.72" r="1.9" fill="#c8c6cc" />
<circle cx="149.30" cy="301.91" r="1.9" fill="#c8c6cc" />
<circle cx="151.52" cy="301.21" r="1.9" fill="#c8c6cc" />
<circle cx="152.46" cy="301.95" r="1.9" fill="#c8c6cc" />
<circle cx="155.04" cy="301.12" r="1.9" fill="#c8c6cc" />
<circle cx="156.38" cy="301.63" r="1.9" fill="#c8c6cc" />
<circle cx="158.34" cy="301.40" r="1.9" fill="#c8c6cc" />
<circle cx="159.37" cy="301.66" r="1.9" fill="#c8c6cc" />
<circle cx="161.04" cy="301.61" r="1.9" fill="#c8c6cc" />
<circle cx="163.42" cy="301.34" r="1.9" fill="#c8c6cc" />
<circle cx="164.40" cy="301.31" r="1.9" fill="#c8c6cc" />
<circle cx="166.60" cy="301.55" r="1.9" fill="#c8c6cc" />
<circle cx="167.85" cy="301.95" r="1.9" fill="#c8c6cc" />
<circle cx="170.42" cy="301.62" r="1.9" fill="#c8c6cc" />
<circle cx="171.76" cy="301.96" r="1.9" fill="#c8c6cc" />
<circle cx="173.26" cy="301.11" r="1.9" fill="#c8c6cc" />
<circle cx="175.37" cy="301.83" r="1.9" fill="#c8c6cc" />
<circle cx="176.40" cy="301.63" r="1.9" fill="#c8c6cc" />
<circle cx="138.15" cy="302.59" r="1.9" fill="#c8c6cc" />
<circle cx="139.09" cy="302.80" r="1.9" fill="#c8c6cc" />
<circle cx="141.63" cy="302.87" r="1.9" fill="#c8c6cc" />
<circle cx="143.06" cy="303.43" r="1.9" fill="#c8c6cc" />
<circle cx="144.67" cy="303.04" r="1.9" fill="#c8c6cc" />
<circle cx="146.20" cy="302.84" r="1.9" fill="#c8c6cc" />
<circle cx="147.77" cy="302.91" r="1.9" fill="#c8c6cc" />
<circle cx="149.68" cy="302.90" r="1.9" fill="#c8c6cc" />
<circle cx="151.36" cy="302.59" r="1.9" fill="#c8c6cc" />
<circle cx="152.67" cy="303.07" r="1.9" fill="#c8c6cc" />
<circle cx="154.71" cy="302.76" r="1.9" fill="#c8c6cc" />
<circle cx="156.38" cy="302.85" r="1.9" fill="#c8c6cc" />
<circle cx="157.94" cy="303.29" r="1.9" fill="#c8c6cc" />
<circle cx="159.42" cy="302.95" r="1.9" fill="#c8c6cc" />
<circle cx="161.11" cy="303.13" r="1.9" fill="#c8c6cc" />
<circle cx="163.17" cy="303.14" r="1.9" fill="#c8c6cc" />
<circle cx="164.81" cy="303.15" r="1.9" fill="#c8c6cc" />
<circle cx="166.52" cy="303.04" r="1.9" fill="#c8c6cc" />
<circle cx="168.66" cy="302.59" r="1.9" fill="#c8c6cc" />
<circle cx="169.86" cy="302.81" r="1.9" fill="#c8c6cc" />
<circle cx="171.73" cy="303.40" r="1.9" fill="#c8c6cc" />
<circle cx="173.29" cy="303.22" r="1.9" fill="#c8c6cc" />
<circle cx="175.69" cy="303.37" r="1.9" fill="#c8c6cc" />
<circle cx="139.41" cy="304.75" r="1.9" fill="#c8c6cc" />
<circle cx="141.68" cy="304.54" r="1.9" fill="#c8c6cc" />
<circle cx="143.39" cy="304.01" r="1.9" fill="#c8c6cc" />
<circle cx="145.20" cy="304.56" r="1.9" fill="#c8c6cc" />
<circle cx="146.89" cy="304.40" r="1.9" fill="#c8c6cc" />
<circle cx="148.84" cy="304.90" r="1.9" fill="#c8c6cc" />
<circle cx="150.33" cy="304.43" r="1.9" fill="#c8c6cc" />
<circle cx="151.63" cy="304.43" r="1.9" fill="#c8c6cc" />
<circle cx="153.07" cy="304.30" r="1.9" fill="#c8c6cc" />
<circle cx="154.72" cy="304.10" r="1.9" fill="#c8c6cc" />
<circle cx="157.02" cy="304.53" r="1.9" fill="#c8c6cc" />
<circle cx="158.17" cy="304.30" r="1.9" fill="#c8c6cc" />
<circle cx="160.31" cy="304.91" r="1.9" fill="#c8c6cc" />
<circle cx="161.87" cy="304.52" r="1.9" fill="#c8c6cc" />
<circle cx="163.27" cy="304.86" r="1.9" fill="#c8c6cc" />
<circle cx="164.88" cy="304.42" r="1.9" fill="#c8c6cc" />
<circle cx="167.23" cy="304.91" r="1.9" fill="#c8c6cc" />
<circle cx="168.94" cy="304.37" r="1.9" fill="#c8c6cc" />
<circle cx="170.06" cy="304.73" r="1.9" fill="#c8c6cc" />
<circle cx="172.24" cy="304.19" r="1.9" fill="#c8c6cc" />
<circle cx="173.52" cy="304.33" r="1.9" fill="#c8c6cc" />
<circle cx="175.57" cy="304.37" r="1.9" fill="#c8c6cc" />
<circle cx="142.27" cy="305.76" r="1.9" fill="#c8c6cc" />
<circle cx="143.22" cy="305.69" r="1.9" fill="#c8c6cc" />
<circle cx="145.26" cy="305.69" r="1.9" fill="#c8c6cc" />
<circle cx="147.21" cy="305.81" r="1.9" fill="#c8c6cc" />
<circle cx="148.52" cy="306.05" r="1.9" fill="#c8c6cc" />
<circle cx="150.76" cy="306.34" r="1.9" fill="#c8c6cc" />
<circle cx="151.98" cy="305.66" r="1.9" fill="#c8c6cc" />
<circle cx="153.29" cy="305.74" r="1.9" fill="#c8c6cc" />
<circle cx="154.92" cy="306.13" r="1.9" fill="#c8c6cc" />
<circle cx="157.14" cy="305.76" r="1.9" fill="#c8c6cc" />
<circle cx="159.24" cy="306.19" r="1.9" fill="#c8c6cc" />
<circle cx="160.09" cy="306.21" r="1.9" fill="#c8c6cc" />
<circle cx="161.89" cy="305.96" r="1.9" fill="#c8c6cc" />
<circle cx="163.51" cy="306.19" r="1.9" fill="#c8c6cc" />
<circle cx="165.99" cy="306.35" r="1.9" fill="#c8c6cc" />
<circle cx="167.15" cy="306.38" r="1.9" fill="#c8c6cc" />
<circle cx="168.78" cy="306.29" r="1.9" fill="#c8c6cc" />
<circle cx="170.45" cy="305.68" r="1.9" fill="#c8c6cc" />
<circle cx="172.43" cy="305.68" r="1.9" fill="#c8c6cc" />
<circle cx="173.84" cy="305.56" r="1.9" fill="#c8c6cc" />
<circle cx="175.56" cy="305.72" r="1.9" fill="#c8c6cc" />
<circle cx="177.91" cy="308.08" r="1.9" fill="#c8c6cc" />
<circle cx="142.68" cy="307.61" r="1.9" fill="#c8c6cc" />
<circle cx="144.50" cy="307.79" r="1.9" fill="#c8c6cc" />
<circle cx="145.80" cy="306.93" r="1.9" fill="#c8c6cc" />
<circle cx="147.60" cy="307.66" r="1.9" fill="#c8c6cc" />
<circle cx="149.39" cy="307.25" r="1.9" fill="#c8c6cc" />
<circle cx="151.58" cy="307.38" r="1.9" fill="#c8c6cc" />
<circle cx="152.69" cy="307.11" r="1.9" fill="#c8c6cc" />
<circle cx="154.15" cy="307.82" r="1.9" fill="#c8c6cc" />
<circle cx="155.81" cy="307.78" r="1.9" fill="#c8c6cc" />
<circle cx="158.01" cy="306.99" r="1.9" fill="#c8c6cc" />
<circle cx="159.45" cy="307.75" r="1.9" fill="#c8c6cc" />
<circle cx="161.51" cy="306.94" r="1.9" fill="#c8c6cc" />
<circle cx="163.11" cy="307.86" r="1.9" fill="#c8c6cc" />
<circle cx="165.10" cy="307.66" r="1.9" fill="#c8c6cc" />
<circle cx="166.02" cy="307.40" r="1.9" fill="#c8c6cc" />
<circle cx="168.17" cy="307.23" r="1.9" fill="#c8c6cc" />
<circle cx="169.54" cy="307.58" r="1.9" fill="#c8c6cc" />
<circle cx="171.53" cy="306.95" r="1.9" fill="#c8c6cc" />
<circle cx="173.30" cy="307.85" r="1.9" fill="#c8c6cc" />
<circle cx="174.58" cy="307.18" r="1.9" fill="#c8c6cc" />
<circle cx="144.63" cy="309.18" r="1.9" fill="#c8c6cc" />
<circle cx="145.42" cy="308.81" r="1.9" fill="#c8c6cc" />
<circle cx="147.79" cy="308.93" r="1.9" fill="#c8c6cc" />
<circle cx="149.73" cy="308.41" r="1.9" fill="#c8c6cc" />
<circle cx="151.46" cy="308.35" r="1.9" fill="#c8c6cc" />
<circle cx="153.07" cy="309.28" r="1.9" fill="#c8c6cc" />
<circle cx="153.93" cy="309.15" r="1.9" fill="#c8c6cc" />
<circle cx="156.12" cy="308.90" r="1.9" fill="#c8c6cc" />
<circle cx="158.11" cy="308.32" r="1.9" fill="#c8c6cc" />
<circle cx="159.80" cy="309.30" r="1.9" fill="#c8c6cc" />
<circle cx="161.11" cy="308.66" r="1.9" fill="#c8c6cc" />
<circle cx="162.42" cy="309.09" r="1.9" fill="#c8c6cc" />
<circle cx="164.69" cy="308.85" r="1.9" fill="#c8c6cc" />
<circle cx="166.48" cy="308.77" r="1.9" fill="#c8c6cc" />
<circle cx="168.38" cy="308.50" r="1.9" fill="#c8c6cc" />
<circle cx="169.45" cy="308.80" r="1.9" fill="#c8c6cc" />
<circle cx="171.23" cy="308.56" r="1.9" fill="#c8c6cc" />
<circle cx="172.86" cy="308.84" r="1.9" fill="#c8c6cc" />
<circle cx="175.18" cy="308.50" r="1.9" fill="#c8c6cc" />
<circle cx="145.39" cy="310.31" r="1.9" fill="#c8c6cc" />
<circle cx="147.06" cy="310.01" r="1.9" fill="#c8c6cc" />
<circle cx="148.41" cy="310.75" r="1.9" fill="#c8c6cc" />
<circle cx="150.05" cy="310.68" r="1.9" fill="#c8c6cc" />
<circle cx="151.78" cy="309.90" r="1.9" fill="#c8c6cc" />
<circle cx="153.88" cy="310.10" r="1.9" fill="#c8c6cc" />
<circle cx="155.18" cy="310.05" r="1.9" fill="#c8c6cc" />
<circle cx="157.24" cy="310.24" r="1.9" fill="#c8c6cc" />
<circle cx="158.21" cy="310.26" r="1.9" fill="#c8c6cc" />
<circle cx="159.96" cy="310.68" r="1.9" fill="#c8c6cc" />
<circle cx="161.80" cy="310.64" r="1.9" fill="#c8c6cc" />
<circle cx="164.23" cy="310.11" r="1.9" fill="#c8c6cc" />
<circle cx="165.14" cy="310.48" r="1.9" fill="#c8c6cc" />
<circle cx="166.89" cy="309.90" r="1.9" fill="#c8c6cc" />
<circle cx="169.28" cy="310.49" r="1.9" fill="#c8c6cc" />
<circle cx="170.55" cy="310.14" r="1.9" fill="#c8c6cc" />
<circle cx="172.07" cy="310.70" r="1.9" fill="#c8c6cc" />
<circle cx="174.27" cy="311.08" r="1.9" fill="#c8c6cc" />
<circle cx="145.18" cy="311.75" r="1.9" fill="#c8c6cc" />
<circle cx="147.11" cy="311.74" r="1.9" fill="#c8c6cc" />
<circle cx="148.13" cy="311.43" r="1.9" fill="#c8c6cc" />
<circle cx="150.06" cy="311.97" r="1.9" fill="#c8c6cc" />
<circle cx="151.96" cy="311.37" r="1.9" fill="#c8c6cc" />
<circle cx="153.72" cy="311.50" r="1.9" fill="#c8c6cc" />
<circle cx="155.82" cy="311.67" r="1.9" fill="#c8c6cc" />
<circle cx="157.40" cy="311.68" r="1.9" fill="#c8c6cc" />
<circle cx="159.20" cy="312.19" r="1.9" fill="#c8c6cc" />
<circle cx="160.71" cy="311.61" r="1.9" fill="#c8c6cc" />
<circle cx="161.81" cy="311.38" r="1.9" fill="#c8c6cc" />
<circle cx="163.56" cy="311.23" r="1.9" fill="#c8c6cc" />
<circle cx="165.85" cy="311.71" r="1.9" fill="#c8c6cc" />
<circle cx="167.22" cy="311.39" r="1.9" fill="#c8c6cc" />
<circle cx="168.76" cy="311.25" r="1.9" fill="#c8c6cc" />
<circle cx="170.77" cy="311.58" r="1.9" fill="#c8c6cc" />
<circle cx="172.48" cy="311.53" r="1.9" fill="#c8c6cc" />
<circle cx="146.06" cy="312.99" r="1.9" fill="#c8c6cc" />
<circle cx="147.53" cy="313.59" r="1.9" fill="#c8c6cc" />
<circle cx="149.88" cy="312.82" r="1.9" fill="#c8c6cc" />
<circle cx="151.68" cy="312.94" r="1.9" fill="#c8c6cc" />
<circle cx="153.12" cy="312.89" r="1.9" fill="#c8c6cc" />
<circle cx="154.26" cy="313.60" r="1.9" fill="#c8c6cc" />
<circle cx="155.90" cy="313.34" r="1.9" fill="#c8c6cc" />
<circle cx="158.06" cy="313.15" r="1.9" fill="#c8c6cc" />
<circle cx="159.71" cy="313.03" r="1.9" fill="#c8c6cc" />
<circle cx="161.39" cy="312.92" r="1.9" fill="#c8c6cc" />
<circle cx="163.23" cy="313.12" r="1.9" fill="#c8c6cc" />
<circle cx="164.80" cy="313.14" r="1.9" fill="#c8c6cc" />
<circle cx="166.97" cy="312.94" r="1.9" fill="#c8c6cc" />
<circle cx="167.78" cy="313.45" r="1.9" fill="#c8c6cc" />
<circle cx="170.23" cy="313.45" r="1.9" fill="#c8c6cc" />
<circle cx="172.00" cy="313.16" r="1.9" fill="#c8c6cc" />
<circle cx="173.35" cy="313.60" r="1.9" fill="#c8c6cc" />
<circle cx="146.68" cy="314.30" r="1.9" fill="#c8c6cc" />
<circle cx="148.88" cy="314.90" r="1.9" fill="#c8c6cc" />
<circle cx="150.66" cy="314.79" r="1.9" fill="#c8c6cc" />
<circle cx="152.15" cy="314.91" r="1.9" fill="#c8c6cc" />
<circle cx="153.32" cy="314.91" r="1.9" fill="#c8c6cc" />
<circle cx="155.09" cy="315.02" r="1.9" fill="#c8c6cc" />
<circle cx="157.05" cy="314.44" r="1.9" fill="#c8c6cc" />
<circle cx="158.85" cy="315.01" r="1.9" fill="#c8c6cc" />
<circle cx="160.59" cy="314.16" r="1.9" fill="#c8c6cc" />
<circle cx="161.75" cy="315.08" r="1.9" fill="#c8c6cc" />
<circle cx="163.65" cy="314.29" r="1.9" fill="#c8c6cc" />
<circle cx="165.80" cy="315.09" r="1.9" fill="#c8c6cc" />
<circle cx="166.87" cy="314.83" r="1.9" fill="#c8c6cc" />
<circle cx="169.31" cy="314.87" r="1.9" fill="#c8c6cc" />
<circle cx="171.02" cy="314.67" r="1.9" fill="#c8c6cc" />
<circle cx="148.37" cy="315.71" r="1.9" fill="#c8c6cc" />
<circle cx="150.28" cy="316.20" r="1.9" fill="#c8c6cc" />
<circle cx="152.44" cy="316.06" r="1.9" fill="#c8c6cc" />
<circle cx="153.72" cy="315.73" r="1.9" fill="#c8c6cc" />
<circle cx="155.83" cy="316.49" r="1.9" fill="#c8c6cc" />
<circle cx="157.78" cy="316.46" r="1.9" fill="#c8c6cc" />
<circle cx="159.50" cy="316.16" r="1.9" fill="#c8c6cc" />
<circle cx="161.02" cy="315.88" r="1.9" fill="#c8c6cc" />
<circle cx="162.47" cy="316.03" r="1.9" fill="#c8c6cc" />
<circle cx="164.51" cy="316.08" r="1.9" fill="#c8c6cc" />
<circle cx="166.09" cy="315.79" r="1.9" fill="#c8c6cc" />
<circle cx="167.63" cy="315.79" r="1.9" fill="#c8c6cc" />
<circle cx="168.82" cy="315.60" r="1.9" fill="#c8c6cc" />
<circle cx="170.98" cy="316.49" r="1.9" fill="#c8c6cc" />
<circle cx="149.80" cy="317.11" r="1.9" fill="#c8c6cc" />
<circle cx="151.23" cy="317.75" r="1.9" fill="#c8c6cc" />
<circle cx="152.88" cy="317.93" r="1.9" fill="#c8c6cc" />
<circle cx="154.19" cy="317.53" r="1.9" fill="#c8c6cc" />
<circle cx="156.17" cy="317.18" r="1.9" fill="#c8c6cc" />
<circle cx="157.40" cy="317.14" r="1.9" fill="#c8c6cc" />
<circle cx="159.31" cy="317.71" r="1.9" fill="#c8c6cc" />
<circle cx="161.06" cy="317.76" r="1.9" fill="#c8c6cc" />
<circle cx="163.15" cy="317.45" r="1.9" fill="#c8c6cc" />
<circle cx="164.25" cy="317.46" r="1.9" fill="#c8c6cc" />
<circle cx="166.73" cy="317.05" r="1.9" fill="#c8c6cc" />
<circle cx="167.81" cy="317.68" r="1.9" fill="#c8c6cc" />
<circle cx="169.37" cy="317.42" r="1.9" fill="#c8c6cc" />
<circle cx="150.42" cy="318.48" r="1.9" fill="#c8c6cc" />
<circle cx="151.64" cy="318.49" r="1.9" fill="#c8c6cc" />
<circle cx="153.22" cy="318.51" r="1.9" fill="#c8c6cc" />
<circle cx="155.38" cy="318.54" r="1.9" fill="#c8c6cc" />
<circle cx="157.46" cy="318.92" r="1.9" fill="#c8c6cc" />
<circle cx="158.62" cy="319.42" r="1.9" fill="#c8c6cc" />
<circle cx="160.31" cy="318.66" r="1.9" fill="#c8c6cc" />
<circle cx="162.22" cy="318.85" r="1.9" fill="#c8c6cc" />
<circle cx="164.29" cy="318.69" r="1.9" fill="#c8c6cc" />
<circle cx="165.81" cy="318.88" r="1.9" fill="#c8c6cc" />
<circle cx="167.24" cy="318.89" r="1.9" fill="#c8c6cc" />
<circle cx="169.13" cy="318.85" r="1.9" fill="#c8c6cc" />
<circle cx="150.68" cy="320.26" r="1.9" fill="#c8c6cc" />
<circle cx="152.90" cy="320.67" r="1.9" fill="#c8c6cc" />
<circle cx="154.30" cy="320.62" r="1.9" fill="#c8c6cc" />
<circle cx="156.05" cy="320.83" r="1.9" fill="#c8c6cc" />
<circle cx="157.69" cy="320.32" r="1.9" fill="#c8c6cc" />
<circle cx="158.95" cy="320.65" r="1.9" fill="#c8c6cc" />
<circle cx="161.40" cy="320.22" r="1.9" fill="#c8c6cc" />
<circle cx="162.14" cy="320.30" r="1.9" fill="#c8c6cc" />
<circle cx="164.08" cy="320.49" r="1.9" fill="#c8c6cc" />
<circle cx="165.92" cy="320.87" r="1.9" fill="#c8c6cc" />
<circle cx="168.14" cy="319.94" r="1.9" fill="#c8c6cc" />
<circle cx="152.44" cy="322.09" r="1.9" fill="#c8c6cc" />
<circle cx="154.01" cy="321.58" r="1.9" fill="#c8c6cc" />
<circle cx="155.69" cy="321.87" r="1.9" fill="#c8c6cc" />
<circle cx="156.97" cy="322.11" r="1.9" fill="#c8c6cc" />
<circle cx="159.26" cy="322.28" r="1.9" fill="#c8c6cc" />
<circle cx="160.80" cy="321.85" r="1.9" fill="#c8c6cc" />
<circle cx="162.10" cy="321.95" r="1.9" fill="#c8c6cc" />
<circle cx="164.30" cy="321.61" r="1.9" fill="#c8c6cc" />
<circle cx="165.75" cy="321.47" r="1.9" fill="#c8c6cc" />
<circle cx="167.49" cy="321.85" r="1.9" fill="#c8c6cc" />
<circle cx="153.95" cy="323.07" r="1.9" fill="#c8c6cc" />
<circle cx="156.26" cy="323.60" r="1.9" fill="#c8c6cc" />
<circle cx="157.55" cy="323.13" r="1.9" fill="#c8c6cc" />
<circle cx="159.00" cy="323.14" r="1.9" fill="#c8c6cc" />
<circle cx="160.82" cy="323.08" r="1.9" fill="#c8c6cc" />
<circle cx="163.31" cy="323.02" r="1.9" fill="#c8c6cc" />
<circle cx="164.19" cy="322.86" r="1.9" fill="#c8c6cc" />
<circle cx="119.20" cy="275.80" r="1.9" fill="#c8c6cc" />
<circle cx="104.60" cy="278.50" r="1.9" fill="#c8c6cc" />
<circle cx="123.50" cy="284.00" r="1.9" fill="#c8c6cc" />
<circle cx="122.50" cy="290.00" r="1.9" fill="#c8c6cc" />
<circle cx="126.00" cy="295.00" r="1.9" fill="#c8c6cc" />
<circle cx="125.00" cy="300.00" r="1.9" fill="#c8c6cc" />
<circle cx="189.50" cy="280.00" r="1.9" fill="#c8c6cc" />
<circle cx="190.00" cy="288.00" r="1.9" fill="#c8c6cc" />
<circle cx="187.00" cy="300.00" r="1.9" fill="#c8c6cc" />
<circle cx="151.50" cy="226.70" r="1.9" fill="#c8c6cc" />
<circle cx="162.00" cy="226.20" r="1.9" fill="#c8c6cc" />
<circle cx="157.90" cy="236.50" r="1.9" fill="#c8c6cc" />
<circle cx="167.10" cy="236.00" r="1.9" fill="#c8c6cc" />
<circle cx="166.50" cy="241.20" r="1.9" fill="#c8c6cc" />
<circle cx="151.50" cy="249.20" r="1.9" fill="#c8c6cc" />
<circle cx="160.80" cy="252.10" r="1.9" fill="#c8c6cc" />
<circle cx="163.70" cy="253.80" r="1.9" fill="#c8c6cc" />
<circle cx="153.00" cy="244.00" r="1.9" fill="#c8c6cc" />
<circle cx="156.00" cy="250.00" r="1.9" fill="#c8c6cc" />
<circle cx="154.37" cy="257.72" r="1.9" fill="#c8c6cc" />
<circle cx="156.49" cy="257.46" r="1.9" fill="#c8c6cc" />
<circle cx="159.07" cy="256.69" r="1.9" fill="#c8c6cc" />
<circle cx="160.46" cy="257.05" r="1.9" fill="#c8c6cc" />
<circle cx="154.38" cy="258.84" r="1.9" fill="#c8c6cc" />
<circle cx="155.83" cy="259.62" r="1.9" fill="#c8c6cc" />
<circle cx="162.61" cy="259.43" r="1.9" fill="#c8c6cc" />
<circle cx="165.75" cy="259.69" r="1.9" fill="#c8c6cc" />
<circle cx="167.22" cy="258.66" r="1.9" fill="#c8c6cc" />
<circle cx="157.64" cy="260.81" r="1.9" fill="#c8c6cc" />
<circle cx="150.32" cy="263.27" r="1.9" fill="#c8c6cc" />
<circle cx="155.23" cy="262.67" r="1.9" fill="#c8c6cc" />
<circle cx="159.66" cy="262.60" r="1.9" fill="#c8c6cc" />
<circle cx="161.80" cy="262.23" r="1.9" fill="#c8c6cc" />
<circle cx="164.63" cy="262.63" r="1.9" fill="#c8c6cc" />
<circle cx="167.34" cy="262.96" r="1.9" fill="#c8c6cc" />
<circle cx="160.25" cy="264.97" r="1.9" fill="#c8c6cc" />
<circle cx="162.77" cy="265.01" r="1.9" fill="#c8c6cc" />
<circle cx="152.16" cy="267.11" r="1.9" fill="#c8c6cc" />
<circle cx="153.49" cy="267.50" r="1.9" fill="#c8c6cc" />
<circle cx="165.32" cy="267.00" r="1.9" fill="#c8c6cc" />
<circle cx="151.26" cy="269.62" r="1.9" fill="#c8c6cc" />
<circle cx="159.15" cy="268.90" r="1.9" fill="#c8c6cc" />
<circle cx="163.96" cy="268.09" r="1.9" fill="#c8c6cc" />
<circle cx="165.29" cy="269.09" r="1.9" fill="#c8c6cc" />
<circle cx="167.87" cy="269.57" r="1.9" fill="#c8c6cc" />
<circle cx="151.07" cy="271.47" r="1.9" fill="#c8c6cc" />
<circle cx="155.65" cy="270.89" r="1.9" fill="#c8c6cc" />
<circle cx="158.16" cy="271.04" r="1.9" fill="#c8c6cc" />
<circle cx="159.88" cy="271.08" r="1.9" fill="#c8c6cc" />
<circle cx="161.95" cy="271.24" r="1.9" fill="#c8c6cc" />
<circle cx="165.67" cy="270.92" r="1.9" fill="#c8c6cc" />
<circle cx="167.45" cy="270.44" r="1.9" fill="#c8c6cc" />
<line x1="116.50" y1="182.70" x2="121.80" y2="188.60" stroke="#333" stroke-width="0.8" />
<line x1="182.20" y1="152.20" x2="187.30" y2="153.60" stroke="#333" stroke-width="0.8" />
<line x1="212.70" y1="152.20" x2="205.80" y2="153.80" stroke="#333" stroke-width="0.8" />
<line x1="189.60" y1="155.20" x2="224.20" y2="192.20" stroke="#333" stroke-width="0.8" />
<line x1="202.50" y1="155.50" x2="212.00" y2="170.50" stroke="#333" stroke-width="0.8" />
<line x1="199.50" y1="155.50" x2="206.00" y2="160.50" stroke="#333" stroke-width="0.8" />
<line x1="130.50" y1="193.00" x2="126.50" y2="195.40" stroke="#333" stroke-width="0.8" />
<text transform="translate(89.50,154.89) scale(0.955,1)" font-size="7.81" text-anchor="start" fill="#bf1e3c" font-weight="normal"  stroke="#bf1e3c" stroke-width="0.14">CDK6</text>
<text transform="translate(121.80,154.89) scale(0.955,1)" font-size="7.81" text-anchor="start" fill="#231f20" font-weight="normal"  stroke="#231f20" stroke-width="0.14">DCAF7</text>
<text transform="translate(95.80,180.29) scale(0.955,1)" font-size="7.81" text-anchor="start" fill="#231f20" font-weight="normal"  stroke="#231f20" stroke-width="0.14">NOTCH1</text>
<text transform="translate(127.60,191.89) scale(0.955,1)" font-size="7.81" text-anchor="start" fill="#231f20" font-weight="normal"  stroke="#231f20" stroke-width="0.14">HSPA8</text>
<text transform="translate(85.80,197.09) scale(0.955,1)" font-size="7.81" text-anchor="start" fill="#bf1e3c" font-weight="normal"  stroke="#bf1e3c" stroke-width="0.14">PIK3CD</text>
<text transform="translate(103.80,208.69) scale(0.955,1)" font-size="7.81" text-anchor="start" fill="#bf1e3c" font-weight="normal"  stroke="#bf1e3c" stroke-width="0.14">CCND3</text>
<text transform="translate(140.80,214.89) scale(0.955,1)" font-size="7.81" text-anchor="start" fill="#231f20" font-weight="normal"  stroke="#231f20" stroke-width="0.14">MAML1</text>
<text transform="translate(95.80,219.99) scale(0.955,1)" font-size="7.81" text-anchor="start" fill="#bf1e3c" font-weight="normal"  stroke="#bf1e3c" stroke-width="0.14">IL7R</text>
<text transform="translate(120.40,230.49) scale(0.955,1)" font-size="7.81" text-anchor="start" fill="#bf1e3c" font-weight="normal"  stroke="#bf1e3c" stroke-width="0.14">JAK1</text>
<text transform="translate(157.30,154.89) scale(0.955,1)" font-size="7.81" text-anchor="start" fill="#231f20" font-weight="normal"  stroke="#231f20" stroke-width="0.14">EXTL3</text>
<text transform="translate(187.30,154.09) scale(0.955,1)" font-size="7.81" text-anchor="start" fill="#231f20" font-weight="normal"  stroke="#231f20" stroke-width="0.14">EXT1</text>
<text transform="translate(213.40,154.89) scale(0.955,1)" font-size="7.81" text-anchor="start" fill="#231f20" font-weight="normal"  stroke="#231f20" stroke-width="0.14">BCL11B</text>
<text transform="translate(201.40,166.39) scale(0.955,1)" font-size="7.81" text-anchor="start" fill="#231f20" font-weight="normal"  stroke="#231f20" stroke-width="0.14">PCGF1</text>
<text transform="translate(213.00,177.89) scale(0.955,1)" font-size="7.81" text-anchor="start" fill="#231f20" font-weight="normal"  stroke="#231f20" stroke-width="0.14">SOCS1</text>
<text transform="translate(226.80,197.89) scale(0.955,1)" font-size="7.81" text-anchor="start" fill="#bf1e3c" font-weight="normal"  stroke="#bf1e3c" stroke-width="0.14">PIK3R1</text>
<text transform="translate(171.80,172.89) scale(0.955,1)" font-size="7.81" text-anchor="start" fill="#231f20" font-weight="normal"  stroke="#231f20" stroke-width="0.14">CDKN2C</text>
<text transform="translate(158.00,203.39) scale(0.955,1)" font-size="7.81" text-anchor="start" fill="#231f20" font-weight="normal"  stroke="#231f20" stroke-width="0.14">CCNC</text>
<text transform="translate(174.60,216.69) scale(0.955,1)" font-size="7.81" text-anchor="start" fill="#231f20" font-weight="normal"  stroke="#231f20" stroke-width="0.14">B4GALT7</text>
<text transform="translate(166.50,231.29) scale(0.955,1)" font-size="7.81" text-anchor="start" fill="#231f20" font-weight="normal"  stroke="#231f20" stroke-width="0.14">IKZF2</text>
<circle cx="139.30" cy="243.24" r="1.9" fill="#0e4c8c" />
<circle cx="135.01" cy="242.17" r="1.9" fill="#0e4c8c" />
<circle cx="136.99" cy="243.10" r="1.9" fill="#0e4c8c" />
<circle cx="141.79" cy="244.32" r="1.9" fill="#0e4c8c" />
<circle cx="133.48" cy="244.15" r="1.9" fill="#0e4c8c" />
<circle cx="135.96" cy="243.84" r="1.9" fill="#0e4c8c" />
<circle cx="137.02" cy="244.08" r="1.9" fill="#0e4c8c" />
<circle cx="138.78" cy="243.86" r="1.9" fill="#0e4c8c" />
<circle cx="133.88" cy="245.00" r="1.9" fill="#0e4c8c" />
<circle cx="135.45" cy="246.01" r="1.9" fill="#0e4c8c" />
<circle cx="137.08" cy="245.41" r="1.9" fill="#0e4c8c" />
<circle cx="138.64" cy="245.09" r="1.9" fill="#0e4c8c" />
<circle cx="140.23" cy="245.56" r="1.9" fill="#0e4c8c" />
<circle cx="132.72" cy="247.07" r="1.9" fill="#0e4c8c" />
<circle cx="134.46" cy="246.98" r="1.9" fill="#0e4c8c" />
<circle cx="136.74" cy="247.04" r="1.9" fill="#0e4c8c" />
<circle cx="137.87" cy="247.20" r="1.9" fill="#0e4c8c" />
<circle cx="140.24" cy="246.51" r="1.9" fill="#0e4c8c" />
<circle cx="133.59" cy="248.64" r="1.9" fill="#0e4c8c" />
<circle cx="135.35" cy="248.07" r="1.9" fill="#0e4c8c" />
<circle cx="136.26" cy="247.95" r="1.9" fill="#0e4c8c" />
<circle cx="138.31" cy="248.01" r="1.9" fill="#0e4c8c" />
<circle cx="140.47" cy="248.52" r="1.9" fill="#0e4c8c" />
<circle cx="141.36" cy="248.03" r="1.9" fill="#0e4c8c" />
<circle cx="131.99" cy="250.15" r="1.9" fill="#0e4c8c" />
<circle cx="144.02" cy="249.94" r="1.9" fill="#0e4c8c" />
<circle cx="133.04" cy="249.93" r="1.9" fill="#0e4c8c" />
<circle cx="134.97" cy="249.84" r="1.9" fill="#0e4c8c" />
<circle cx="136.90" cy="249.56" r="1.9" fill="#0e4c8c" />
<circle cx="138.00" cy="250.25" r="1.9" fill="#0e4c8c" />
<circle cx="140.08" cy="249.91" r="1.9" fill="#0e4c8c" />
<circle cx="141.52" cy="249.75" r="1.9" fill="#0e4c8c" />
<circle cx="133.84" cy="251.10" r="1.9" fill="#0e4c8c" />
<circle cx="136.04" cy="251.51" r="1.9" fill="#0e4c8c" />
<circle cx="137.14" cy="251.20" r="1.9" fill="#0e4c8c" />
<circle cx="139.42" cy="250.92" r="1.9" fill="#0e4c8c" />
<circle cx="141.09" cy="251.68" r="1.9" fill="#0e4c8c" />
<circle cx="142.66" cy="251.77" r="1.9" fill="#0e4c8c" />
<circle cx="134.32" cy="253.22" r="1.9" fill="#0e4c8c" />
<circle cx="135.77" cy="252.82" r="1.9" fill="#0e4c8c" />
<circle cx="137.84" cy="252.32" r="1.9" fill="#0e4c8c" />
<circle cx="139.04" cy="252.58" r="1.9" fill="#0e4c8c" />
<circle cx="140.65" cy="252.70" r="1.9" fill="#0e4c8c" />
<circle cx="143.15" cy="252.52" r="1.9" fill="#0e4c8c" />
<circle cx="144.56" cy="252.44" r="1.9" fill="#0e4c8c" />
<circle cx="133.21" cy="253.70" r="1.9" fill="#0e4c8c" />
<circle cx="135.18" cy="254.69" r="1.9" fill="#0e4c8c" />
<circle cx="136.67" cy="254.42" r="1.9" fill="#0e4c8c" />
<circle cx="138.79" cy="254.42" r="1.9" fill="#0e4c8c" />
<circle cx="140.94" cy="254.12" r="1.9" fill="#0e4c8c" />
<circle cx="142.11" cy="254.01" r="1.9" fill="#0e4c8c" />
<circle cx="143.87" cy="254.39" r="1.9" fill="#0e4c8c" />
<circle cx="131.41" cy="255.18" r="1.9" fill="#0e4c8c" />
<circle cx="133.13" cy="255.88" r="1.9" fill="#0e4c8c" />
<circle cx="135.32" cy="256.11" r="1.9" fill="#0e4c8c" />
<circle cx="136.44" cy="255.18" r="1.9" fill="#0e4c8c" />
<circle cx="138.87" cy="255.83" r="1.9" fill="#0e4c8c" />
<circle cx="140.60" cy="255.52" r="1.9" fill="#0e4c8c" />
<circle cx="142.09" cy="255.17" r="1.9" fill="#0e4c8c" />
<circle cx="143.18" cy="255.31" r="1.9" fill="#0e4c8c" />
<circle cx="145.38" cy="255.27" r="1.9" fill="#0e4c8c" />
<circle cx="148.89" cy="257.55" r="1.9" fill="#0e4c8c" />
<circle cx="132.59" cy="257.17" r="1.9" fill="#0e4c8c" />
<circle cx="134.42" cy="257.56" r="1.9" fill="#0e4c8c" />
<circle cx="136.21" cy="257.22" r="1.9" fill="#0e4c8c" />
<circle cx="137.15" cy="257.07" r="1.9" fill="#0e4c8c" />
<circle cx="139.44" cy="257.10" r="1.9" fill="#0e4c8c" />
<circle cx="140.60" cy="256.72" r="1.9" fill="#0e4c8c" />
<circle cx="142.92" cy="257.58" r="1.9" fill="#0e4c8c" />
<circle cx="144.23" cy="257.05" r="1.9" fill="#0e4c8c" />
<circle cx="146.44" cy="256.98" r="1.9" fill="#0e4c8c" />
<circle cx="133.51" cy="258.08" r="1.9" fill="#0e4c8c" />
<circle cx="134.29" cy="258.71" r="1.9" fill="#0e4c8c" />
<circle cx="136.06" cy="258.46" r="1.9" fill="#0e4c8c" />
<circle cx="138.38" cy="258.48" r="1.9" fill="#0e4c8c" />
<circle cx="139.68" cy="258.92" r="1.9" fill="#0e4c8c" />
<circle cx="141.02" cy="258.92" r="1.9" fill="#0e4c8c" />
<circle cx="142.84" cy="258.17" r="1.9" fill="#0e4c8c" />
<circle cx="145.16" cy="258.10" r="1.9" fill="#0e4c8c" />
<circle cx="132.60" cy="259.82" r="1.9" fill="#0e4c8c" />
<circle cx="134.14" cy="259.59" r="1.9" fill="#0e4c8c" />
<circle cx="135.71" cy="259.95" r="1.9" fill="#0e4c8c" />
<circle cx="137.55" cy="259.69" r="1.9" fill="#0e4c8c" />
<circle cx="139.06" cy="259.95" r="1.9" fill="#0e4c8c" />
<circle cx="141.08" cy="259.69" r="1.9" fill="#0e4c8c" />
<circle cx="141.93" cy="260.40" r="1.9" fill="#0e4c8c" />
<circle cx="144.18" cy="259.80" r="1.9" fill="#0e4c8c" />
<circle cx="146.16" cy="260.27" r="1.9" fill="#0e4c8c" />
<circle cx="128.34" cy="262.33" r="1.9" fill="#0e4c8c" />
<circle cx="130.48" cy="261.24" r="1.9" fill="#0e4c8c" />
<circle cx="132.37" cy="261.68" r="1.9" fill="#0e4c8c" />
<circle cx="133.75" cy="261.62" r="1.9" fill="#0e4c8c" />
<circle cx="135.49" cy="261.04" r="1.9" fill="#0e4c8c" />
<circle cx="136.90" cy="261.75" r="1.9" fill="#0e4c8c" />
<circle cx="139.07" cy="261.29" r="1.9" fill="#0e4c8c" />
<circle cx="140.30" cy="261.90" r="1.9" fill="#0e4c8c" />
<circle cx="141.96" cy="261.63" r="1.9" fill="#0e4c8c" />
<circle cx="144.14" cy="261.69" r="1.9" fill="#0e4c8c" />
<circle cx="146.10" cy="261.89" r="1.9" fill="#0e4c8c" />
<circle cx="131.24" cy="262.72" r="1.9" fill="#0e4c8c" />
<circle cx="133.14" cy="263.17" r="1.9" fill="#0e4c8c" />
<circle cx="134.84" cy="262.76" r="1.9" fill="#0e4c8c" />
<circle cx="135.95" cy="262.69" r="1.9" fill="#0e4c8c" />
<circle cx="138.19" cy="263.29" r="1.9" fill="#0e4c8c" />
<circle cx="139.47" cy="262.49" r="1.9" fill="#0e4c8c" />
<circle cx="141.43" cy="263.26" r="1.9" fill="#0e4c8c" />
<circle cx="142.75" cy="263.13" r="1.9" fill="#0e4c8c" />
<circle cx="145.07" cy="262.72" r="1.9" fill="#0e4c8c" />
<circle cx="146.10" cy="262.66" r="1.9" fill="#0e4c8c" />
<circle cx="149.49" cy="264.92" r="1.9" fill="#0e4c8c" />
<circle cx="130.62" cy="263.93" r="1.9" fill="#0e4c8c" />
<circle cx="132.92" cy="264.42" r="1.9" fill="#0e4c8c" />
<circle cx="134.28" cy="264.41" r="1.9" fill="#0e4c8c" />
<circle cx="135.56" cy="264.24" r="1.9" fill="#0e4c8c" />
<circle cx="138.20" cy="264.17" r="1.9" fill="#0e4c8c" />
<circle cx="139.80" cy="264.39" r="1.9" fill="#0e4c8c" />
<circle cx="141.44" cy="263.91" r="1.9" fill="#0e4c8c" />
<circle cx="142.43" cy="263.91" r="1.9" fill="#0e4c8c" />
<circle cx="144.18" cy="264.81" r="1.9" fill="#0e4c8c" />
<circle cx="146.63" cy="264.77" r="1.9" fill="#0e4c8c" />
<circle cx="131.20" cy="265.79" r="1.9" fill="#0e4c8c" />
<circle cx="133.25" cy="265.97" r="1.9" fill="#0e4c8c" />
<circle cx="135.01" cy="266.05" r="1.9" fill="#0e4c8c" />
<circle cx="136.23" cy="265.41" r="1.9" fill="#0e4c8c" />
<circle cx="138.00" cy="266.22" r="1.9" fill="#0e4c8c" />
<circle cx="139.98" cy="265.73" r="1.9" fill="#0e4c8c" />
<circle cx="141.52" cy="266.04" r="1.9" fill="#0e4c8c" />
<circle cx="143.78" cy="266.06" r="1.9" fill="#0e4c8c" />
<circle cx="145.19" cy="265.35" r="1.9" fill="#0e4c8c" />
<circle cx="146.41" cy="265.53" r="1.9" fill="#0e4c8c" />
<circle cx="131.09" cy="267.17" r="1.9" fill="#0e4c8c" />
<circle cx="133.27" cy="266.81" r="1.9" fill="#0e4c8c" />
<circle cx="134.49" cy="267.24" r="1.9" fill="#0e4c8c" />
<circle cx="135.99" cy="267.69" r="1.9" fill="#0e4c8c" />
<circle cx="138.07" cy="266.86" r="1.9" fill="#0e4c8c" />
<circle cx="140.37" cy="266.88" r="1.9" fill="#0e4c8c" />
<circle cx="141.91" cy="267.64" r="1.9" fill="#0e4c8c" />
<circle cx="142.91" cy="266.87" r="1.9" fill="#0e4c8c" />
<circle cx="145.39" cy="267.61" r="1.9" fill="#0e4c8c" />
<circle cx="146.32" cy="267.06" r="1.9" fill="#0e4c8c" />
<circle cx="129.91" cy="268.62" r="1.9" fill="#0e4c8c" />
<circle cx="131.61" cy="268.84" r="1.9" fill="#0e4c8c" />
<circle cx="133.18" cy="268.72" r="1.9" fill="#0e4c8c" />
<circle cx="134.60" cy="268.54" r="1.9" fill="#0e4c8c" />
<circle cx="136.28" cy="268.23" r="1.9" fill="#0e4c8c" />
<circle cx="138.89" cy="268.99" r="1.9" fill="#0e4c8c" />
<circle cx="139.97" cy="268.52" r="1.9" fill="#0e4c8c" />
<circle cx="141.49" cy="268.74" r="1.9" fill="#0e4c8c" />
<circle cx="143.43" cy="268.33" r="1.9" fill="#0e4c8c" />
<circle cx="144.77" cy="268.92" r="1.9" fill="#0e4c8c" />
<circle cx="147.17" cy="268.94" r="1.9" fill="#0e4c8c" />
<circle cx="129.20" cy="270.05" r="1.9" fill="#0e4c8c" />
<circle cx="131.07" cy="270.39" r="1.9" fill="#0e4c8c" />
<circle cx="133.11" cy="270.51" r="1.9" fill="#0e4c8c" />
<circle cx="134.96" cy="270.53" r="1.9" fill="#0e4c8c" />
<circle cx="136.69" cy="269.80" r="1.9" fill="#0e4c8c" />
<circle cx="137.52" cy="269.90" r="1.9" fill="#0e4c8c" />
<circle cx="139.94" cy="270.28" r="1.9" fill="#0e4c8c" />
<circle cx="141.70" cy="270.46" r="1.9" fill="#0e4c8c" />
<circle cx="142.55" cy="269.88" r="1.9" fill="#0e4c8c" />
<circle cx="144.62" cy="270.54" r="1.9" fill="#0e4c8c" />
<circle cx="146.72" cy="269.67" r="1.9" fill="#0e4c8c" />
<circle cx="170.74" cy="242.05" r="1.9" fill="#ca0220" />
<circle cx="172.79" cy="242.21" r="1.9" fill="#ca0220" />
<circle cx="174.10" cy="242.31" r="1.9" fill="#ca0220" />
<circle cx="176.28" cy="242.02" r="1.9" fill="#ca0220" />
<circle cx="177.54" cy="241.94" r="1.9" fill="#ca0220" />
<circle cx="179.30" cy="241.67" r="1.9" fill="#ca0220" />
<circle cx="180.90" cy="242.52" r="1.9" fill="#ca0220" />
<circle cx="182.65" cy="244.16" r="1.9" fill="#ca0220" />
<circle cx="171.31" cy="243.43" r="1.9" fill="#ca0220" />
<circle cx="173.02" cy="243.88" r="1.9" fill="#ca0220" />
<circle cx="175.11" cy="243.81" r="1.9" fill="#ca0220" />
<circle cx="176.38" cy="243.62" r="1.9" fill="#ca0220" />
<circle cx="178.14" cy="243.90" r="1.9" fill="#ca0220" />
<circle cx="179.37" cy="243.84" r="1.9" fill="#ca0220" />
<circle cx="184.48" cy="244.78" r="1.9" fill="#ca0220" />
<circle cx="171.45" cy="245.09" r="1.9" fill="#ca0220" />
<circle cx="173.74" cy="245.02" r="1.9" fill="#ca0220" />
<circle cx="175.00" cy="245.41" r="1.9" fill="#ca0220" />
<circle cx="176.61" cy="245.26" r="1.9" fill="#ca0220" />
<circle cx="178.87" cy="244.81" r="1.9" fill="#ca0220" />
<circle cx="180.50" cy="245.26" r="1.9" fill="#ca0220" />
<circle cx="182.42" cy="245.06" r="1.9" fill="#ca0220" />
<circle cx="185.07" cy="247.34" r="1.9" fill="#ca0220" />
<circle cx="170.34" cy="246.25" r="1.9" fill="#ca0220" />
<circle cx="171.70" cy="246.31" r="1.9" fill="#ca0220" />
<circle cx="173.76" cy="246.41" r="1.9" fill="#ca0220" />
<circle cx="175.93" cy="246.91" r="1.9" fill="#ca0220" />
<circle cx="177.52" cy="246.20" r="1.9" fill="#ca0220" />
<circle cx="178.85" cy="246.62" r="1.9" fill="#ca0220" />
<circle cx="180.44" cy="246.97" r="1.9" fill="#ca0220" />
<circle cx="181.81" cy="246.07" r="1.9" fill="#ca0220" />
<circle cx="184.43" cy="247.40" r="1.9" fill="#ca0220" />
<circle cx="171.21" cy="247.68" r="1.9" fill="#ca0220" />
<circle cx="172.98" cy="248.39" r="1.9" fill="#ca0220" />
<circle cx="174.19" cy="248.17" r="1.9" fill="#ca0220" />
<circle cx="175.92" cy="247.69" r="1.9" fill="#ca0220" />
<circle cx="177.77" cy="247.74" r="1.9" fill="#ca0220" />
<circle cx="178.96" cy="248.39" r="1.9" fill="#ca0220" />
<circle cx="180.74" cy="248.38" r="1.9" fill="#ca0220" />
<circle cx="183.14" cy="248.26" r="1.9" fill="#ca0220" />
<circle cx="185.70" cy="250.04" r="1.9" fill="#ca0220" />
<circle cx="171.89" cy="248.93" r="1.9" fill="#ca0220" />
<circle cx="174.03" cy="249.76" r="1.9" fill="#ca0220" />
<circle cx="175.69" cy="249.54" r="1.9" fill="#ca0220" />
<circle cx="177.64" cy="249.23" r="1.9" fill="#ca0220" />
<circle cx="178.71" cy="249.77" r="1.9" fill="#ca0220" />
<circle cx="181.15" cy="249.33" r="1.9" fill="#ca0220" />
<circle cx="182.50" cy="249.55" r="1.9" fill="#ca0220" />
<circle cx="169.83" cy="250.30" r="1.9" fill="#ca0220" />
<circle cx="171.54" cy="251.01" r="1.9" fill="#ca0220" />
<circle cx="173.50" cy="250.33" r="1.9" fill="#ca0220" />
<circle cx="175.13" cy="251.04" r="1.9" fill="#ca0220" />
<circle cx="176.58" cy="250.65" r="1.9" fill="#ca0220" />
<circle cx="178.59" cy="250.36" r="1.9" fill="#ca0220" />
<circle cx="180.54" cy="250.98" r="1.9" fill="#ca0220" />
<circle cx="171.72" cy="251.77" r="1.9" fill="#ca0220" />
<circle cx="173.60" cy="252.62" r="1.9" fill="#ca0220" />
<circle cx="175.03" cy="251.76" r="1.9" fill="#ca0220" />
<circle cx="176.99" cy="252.74" r="1.9" fill="#ca0220" />
<circle cx="178.92" cy="252.53" r="1.9" fill="#ca0220" />
<circle cx="180.23" cy="252.65" r="1.9" fill="#ca0220" />
<circle cx="181.48" cy="252.08" r="1.9" fill="#ca0220" />
<circle cx="170.75" cy="253.51" r="1.9" fill="#ca0220" />
<circle cx="172.48" cy="253.80" r="1.9" fill="#ca0220" />
<circle cx="174.86" cy="253.54" r="1.9" fill="#ca0220" />
<circle cx="175.95" cy="253.73" r="1.9" fill="#ca0220" />
<circle cx="177.47" cy="253.50" r="1.9" fill="#ca0220" />
<circle cx="179.44" cy="253.69" r="1.9" fill="#ca0220" />
<circle cx="181.12" cy="253.73" r="1.9" fill="#ca0220" />
<circle cx="170.67" cy="255.24" r="1.9" fill="#ca0220" />
<circle cx="172.41" cy="254.70" r="1.9" fill="#ca0220" />
<circle cx="174.11" cy="255.48" r="1.9" fill="#ca0220" />
<circle cx="175.84" cy="254.80" r="1.9" fill="#ca0220" />
<circle cx="177.39" cy="255.25" r="1.9" fill="#ca0220" />
<circle cx="179.44" cy="255.16" r="1.9" fill="#ca0220" />
<circle cx="181.15" cy="255.03" r="1.9" fill="#ca0220" />
<circle cx="170.59" cy="256.41" r="1.9" fill="#ca0220" />
<circle cx="172.58" cy="257.08" r="1.9" fill="#ca0220" />
<circle cx="174.30" cy="256.34" r="1.9" fill="#ca0220" />
<circle cx="175.17" cy="256.67" r="1.9" fill="#ca0220" />
<circle cx="176.88" cy="257.04" r="1.9" fill="#ca0220" />
<circle cx="179.20" cy="256.62" r="1.9" fill="#ca0220" />
<circle cx="180.97" cy="256.15" r="1.9" fill="#ca0220" />
<circle cx="172.64" cy="257.57" r="1.9" fill="#ca0220" />
<circle cx="174.56" cy="258.21" r="1.9" fill="#ca0220" />
<circle cx="176.06" cy="258.24" r="1.9" fill="#ca0220" />
<circle cx="177.81" cy="258.11" r="1.9" fill="#ca0220" />
<circle cx="179.26" cy="257.81" r="1.9" fill="#ca0220" />
<circle cx="181.33" cy="257.88" r="1.9" fill="#ca0220" />
<circle cx="182.50" cy="257.73" r="1.9" fill="#ca0220" />
<circle cx="169.88" cy="259.14" r="1.9" fill="#ca0220" />
<circle cx="172.13" cy="259.60" r="1.9" fill="#ca0220" />
<circle cx="173.51" cy="259.21" r="1.9" fill="#ca0220" />
<circle cx="175.06" cy="259.01" r="1.9" fill="#ca0220" />
<circle cx="177.03" cy="259.35" r="1.9" fill="#ca0220" />
<circle cx="178.63" cy="259.81" r="1.9" fill="#ca0220" />
<circle cx="180.12" cy="259.01" r="1.9" fill="#ca0220" />
<circle cx="182.59" cy="259.03" r="1.9" fill="#ca0220" />
<circle cx="171.74" cy="260.58" r="1.9" fill="#ca0220" />
<circle cx="174.11" cy="261.35" r="1.9" fill="#ca0220" />
<circle cx="174.95" cy="260.79" r="1.9" fill="#ca0220" />
<circle cx="176.66" cy="260.72" r="1.9" fill="#ca0220" />
<circle cx="179.18" cy="260.78" r="1.9" fill="#ca0220" />
<circle cx="180.35" cy="260.63" r="1.9" fill="#ca0220" />
<circle cx="182.31" cy="261.08" r="1.9" fill="#ca0220" />
<circle cx="168.66" cy="262.99" r="1.9" fill="#ca0220" />
<circle cx="170.29" cy="262.26" r="1.9" fill="#ca0220" />
<circle cx="171.75" cy="262.42" r="1.9" fill="#ca0220" />
<circle cx="174.16" cy="262.82" r="1.9" fill="#ca0220" />
<circle cx="175.37" cy="262.07" r="1.9" fill="#ca0220" />
<circle cx="177.12" cy="262.42" r="1.9" fill="#ca0220" />
<circle cx="179.24" cy="262.29" r="1.9" fill="#ca0220" />
<circle cx="180.36" cy="262.81" r="1.9" fill="#ca0220" />
<circle cx="182.82" cy="262.26" r="1.9" fill="#ca0220" />
<circle cx="172.18" cy="263.44" r="1.9" fill="#ca0220" />
<circle cx="174.68" cy="263.92" r="1.9" fill="#ca0220" />
<circle cx="175.69" cy="263.96" r="1.9" fill="#ca0220" />
<circle cx="177.41" cy="263.91" r="1.9" fill="#ca0220" />
<circle cx="179.77" cy="264.14" r="1.9" fill="#ca0220" />
<circle cx="180.98" cy="263.46" r="1.9" fill="#ca0220" />
<circle cx="182.40" cy="264.18" r="1.9" fill="#ca0220" />
<circle cx="172.28" cy="265.57" r="1.9" fill="#ca0220" />
<circle cx="173.49" cy="264.82" r="1.9" fill="#ca0220" />
<circle cx="175.32" cy="265.75" r="1.9" fill="#ca0220" />
<circle cx="176.98" cy="265.63" r="1.9" fill="#ca0220" />
<circle cx="179.00" cy="265.64" r="1.9" fill="#ca0220" />
<circle cx="180.22" cy="265.38" r="1.9" fill="#ca0220" />
<circle cx="182.32" cy="265.71" r="1.9" fill="#ca0220" />
<circle cx="183.49" cy="265.33" r="1.9" fill="#ca0220" />
<circle cx="185.51" cy="264.84" r="1.9" fill="#ca0220" />
<circle cx="171.25" cy="266.26" r="1.9" fill="#ca0220" />
<circle cx="173.08" cy="266.61" r="1.9" fill="#ca0220" />
<circle cx="174.67" cy="266.27" r="1.9" fill="#ca0220" />
<circle cx="175.99" cy="266.63" r="1.9" fill="#ca0220" />
<circle cx="178.44" cy="266.81" r="1.9" fill="#ca0220" />
<circle cx="179.87" cy="266.36" r="1.9" fill="#ca0220" />
<circle cx="181.85" cy="266.79" r="1.9" fill="#ca0220" />
<circle cx="183.34" cy="266.25" r="1.9" fill="#ca0220" />
<circle cx="184.84" cy="267.05" r="1.9" fill="#ca0220" />
<circle cx="188.34" cy="267.97" r="1.9" fill="#ca0220" />
<circle cx="172.28" cy="267.85" r="1.9" fill="#ca0220" />
<circle cx="173.80" cy="268.46" r="1.9" fill="#ca0220" />
<circle cx="175.63" cy="267.67" r="1.9" fill="#ca0220" />
<circle cx="177.42" cy="268.26" r="1.9" fill="#ca0220" />
<circle cx="179.62" cy="267.93" r="1.9" fill="#ca0220" />
<circle cx="180.86" cy="268.41" r="1.9" fill="#ca0220" />
<circle cx="183.14" cy="268.33" r="1.9" fill="#ca0220" />
<circle cx="184.32" cy="268.60" r="1.9" fill="#ca0220" />
<circle cx="185.93" cy="268.30" r="1.9" fill="#ca0220" />
<circle cx="168.83" cy="269.08" r="1.9" fill="#ca0220" />
<circle cx="187.89" cy="268.88" r="1.9" fill="#ca0220" />
<circle cx="170.83" cy="269.46" r="1.9" fill="#ca0220" />
<circle cx="173.08" cy="269.93" r="1.9" fill="#ca0220" />
<circle cx="174.56" cy="270.03" r="1.9" fill="#ca0220" />
<circle cx="176.24" cy="269.42" r="1.9" fill="#ca0220" />
<circle cx="177.93" cy="269.34" r="1.9" fill="#ca0220" />
<circle cx="179.92" cy="269.82" r="1.9" fill="#ca0220" />
<circle cx="180.78" cy="269.46" r="1.9" fill="#ca0220" />
<circle cx="183.30" cy="269.64" r="1.9" fill="#ca0220" />
<circle cx="184.76" cy="269.65" r="1.9" fill="#ca0220" />
<circle cx="171.88" cy="271.43" r="1.9" fill="#ca0220" />
<circle cx="173.43" cy="271.11" r="1.9" fill="#ca0220" />
<circle cx="175.29" cy="270.72" r="1.9" fill="#ca0220" />
<circle cx="176.62" cy="270.77" r="1.9" fill="#ca0220" />
<circle cx="178.44" cy="270.73" r="1.9" fill="#ca0220" />
<circle cx="180.46" cy="270.71" r="1.9" fill="#ca0220" />
<circle cx="182.24" cy="271.16" r="1.9" fill="#ca0220" />
<circle cx="183.95" cy="270.84" r="1.9" fill="#ca0220" />
<circle cx="185.73" cy="270.76" r="1.9" fill="#ca0220" />
<circle cx="113.80" cy="154.50" r="1.9" fill="#0e4c8c" />
<circle cx="117.70" cy="154.50" r="1.9" fill="#0e4c8c" />
<circle cx="122.80" cy="189.20" r="1.9" fill="#0e4c8c" />
<circle cx="117.00" cy="189.80" r="1.9" fill="#0e4c8c" />
<circle cx="137.00" cy="192.20" r="1.9" fill="#0e4c8c" />
<circle cx="82.40" cy="192.40" r="1.9" fill="#0e4c8c" />
<circle cx="127.60" cy="194.00" r="1.9" fill="#0e4c8c" />
<circle cx="125.50" cy="196.00" r="1.9" fill="#0e4c8c" />
<circle cx="123.70" cy="198.60" r="1.9" fill="#0e4c8c" />
<circle cx="94.20" cy="205.60" r="1.9" fill="#0e4c8c" />
<circle cx="132.90" cy="205.90" r="1.9" fill="#0e4c8c" />
<circle cx="136.20" cy="216.10" r="1.9" fill="#0e4c8c" />
<circle cx="143.50" cy="216.50" r="1.9" fill="#0e4c8c" />
<circle cx="82.20" cy="223.00" r="1.9" fill="#0e4c8c" />
<circle cx="95.00" cy="224.50" r="1.9" fill="#0e4c8c" />
<circle cx="115.00" cy="216.10" r="1.9" fill="#0e4c8c" />
<circle cx="117.30" cy="217.00" r="1.9" fill="#0e4c8c" />
<circle cx="119.60" cy="218.50" r="1.9" fill="#0e4c8c" />
<circle cx="121.60" cy="220.10" r="1.9" fill="#0e4c8c" />
<circle cx="124.20" cy="219.60" r="1.9" fill="#0e4c8c" />
<circle cx="126.50" cy="219.20" r="1.9" fill="#0e4c8c" />
<circle cx="128.80" cy="219.60" r="1.9" fill="#0e4c8c" />
<circle cx="131.50" cy="220.10" r="1.9" fill="#0e4c8c" />
<circle cx="134.20" cy="221.20" r="1.9" fill="#0e4c8c" />
<circle cx="137.00" cy="224.50" r="1.9" fill="#0e4c8c" />
<circle cx="131.20" cy="229.30" r="1.9" fill="#0e4c8c" />
<circle cx="126.20" cy="234.50" r="1.9" fill="#0e4c8c" />
<circle cx="102.70" cy="238.10" r="1.9" fill="#0e4c8c" />
<circle cx="106.20" cy="237.30" r="1.9" fill="#0e4c8c" />
<circle cx="113.00" cy="237.80" r="1.9" fill="#0e4c8c" />
<circle cx="115.80" cy="241.20" r="1.9" fill="#0e4c8c" />
<circle cx="121.90" cy="239.20" r="1.9" fill="#0e4c8c" />
<circle cx="127.30" cy="241.90" r="1.9" fill="#0e4c8c" />
<circle cx="131.20" cy="237.30" r="1.9" fill="#0e4c8c" />
<circle cx="135.00" cy="236.50" r="1.9" fill="#0e4c8c" />
<circle cx="140.40" cy="237.30" r="1.9" fill="#0e4c8c" />
<circle cx="95.00" cy="225.00" r="1.9" fill="#0e4c8c" />
<circle cx="145.50" cy="241.90" r="1.9" fill="#0e4c8c" />
<circle cx="121.90" cy="248.00" r="1.9" fill="#0e4c8c" />
<circle cx="127.30" cy="245.00" r="1.9" fill="#0e4c8c" />
<circle cx="95.00" cy="256.80" r="1.9" fill="#0e4c8c" />
<circle cx="115.30" cy="252.70" r="1.9" fill="#0e4c8c" />
<circle cx="114.20" cy="255.00" r="1.9" fill="#0e4c8c" />
<circle cx="113.20" cy="257.80" r="1.9" fill="#0e4c8c" />
<circle cx="112.70" cy="260.40" r="1.9" fill="#0e4c8c" />
<circle cx="118.50" cy="257.80" r="1.9" fill="#0e4c8c" />
<circle cx="121.20" cy="262.70" r="1.9" fill="#0e4c8c" />
<circle cx="119.60" cy="265.30" r="1.9" fill="#0e4c8c" />
<circle cx="119.60" cy="272.00" r="1.9" fill="#0e4c8c" />
<circle cx="113.00" cy="238.20" r="1.9" fill="#0e4c8c" />
<circle cx="115.60" cy="241.20" r="1.9" fill="#0e4c8c" />
<circle cx="121.20" cy="239.10" r="1.9" fill="#0e4c8c" />
<circle cx="126.00" cy="234.80" r="1.9" fill="#0e4c8c" />
<circle cx="131.20" cy="237.40" r="1.9" fill="#0e4c8c" />
<circle cx="135.10" cy="236.50" r="1.9" fill="#0e4c8c" />
<circle cx="140.30" cy="236.90" r="1.9" fill="#0e4c8c" />
<circle cx="145.50" cy="242.10" r="1.9" fill="#0e4c8c" />
<circle cx="126.40" cy="241.70" r="1.9" fill="#0e4c8c" />
<circle cx="126.90" cy="243.80" r="1.9" fill="#0e4c8c" />
<circle cx="127.30" cy="246.00" r="1.9" fill="#0e4c8c" />
<circle cx="122.10" cy="248.20" r="1.9" fill="#0e4c8c" />
<circle cx="128.20" cy="251.20" r="1.9" fill="#0e4c8c" />
<circle cx="115.20" cy="252.90" r="1.9" fill="#0e4c8c" />
<circle cx="113.90" cy="256.00" r="1.9" fill="#0e4c8c" />
<circle cx="113.00" cy="260.30" r="1.9" fill="#0e4c8c" />
<circle cx="118.20" cy="257.70" r="1.9" fill="#0e4c8c" />
<circle cx="126.90" cy="260.30" r="1.9" fill="#0e4c8c" />
<circle cx="122.10" cy="262.90" r="1.9" fill="#0e4c8c" />
<circle cx="119.50" cy="265.50" r="1.9" fill="#0e4c8c" />
<circle cx="132.10" cy="249.90" r="1.9" fill="#0e4c8c" />
<circle cx="132.50" cy="255.10" r="1.9" fill="#0e4c8c" />
<circle cx="148.00" cy="249.00" r="1.9" fill="#0e4c8c" />
<circle cx="148.90" cy="256.00" r="1.9" fill="#0e4c8c" />
<circle cx="130.80" cy="237.30" r="1.9" fill="#0e4c8c" />
<circle cx="134.20" cy="237.30" r="1.9" fill="#0e4c8c" />
<circle cx="136.00" cy="236.70" r="1.9" fill="#0e4c8c" />
<circle cx="132.00" cy="240.00" r="1.9" fill="#0e4c8c" />
<circle cx="145.20" cy="241.90" r="1.9" fill="#0e4c8c" />
<circle cx="148.10" cy="248.80" r="1.9" fill="#0e4c8c" />
<circle cx="149.20" cy="256.40" r="1.9" fill="#0e4c8c" />
<circle cx="189.00" cy="154.50" r="1.9" fill="#ca0220" />
<circle cx="191.20" cy="155.00" r="1.9" fill="#ca0220" />
<circle cx="193.50" cy="154.50" r="1.9" fill="#ca0220" />
<circle cx="200.50" cy="154.50" r="1.9" fill="#ca0220" />
<circle cx="202.80" cy="154.50" r="1.9" fill="#ca0220" />
<circle cx="205.30" cy="154.50" r="1.9" fill="#ca0220" />
<circle cx="182.70" cy="175.80" r="1.9" fill="#ca0220" />
<circle cx="189.00" cy="188.00" r="1.9" fill="#ca0220" />
<circle cx="185.50" cy="195.00" r="1.9" fill="#ca0220" />
<circle cx="186.00" cy="197.70" r="1.9" fill="#ca0220" />
<circle cx="184.30" cy="201.20" r="1.9" fill="#ca0220" />
<circle cx="181.50" cy="207.00" r="1.9" fill="#ca0220" />
<circle cx="183.90" cy="206.50" r="1.9" fill="#ca0220" />
<circle cx="182.20" cy="210.40" r="1.9" fill="#ca0220" />
<circle cx="187.30" cy="213.80" r="1.9" fill="#ca0220" />
<circle cx="181.60" cy="206.10" r="1.9" fill="#ca0220" />
<circle cx="184.30" cy="205.70" r="1.9" fill="#ca0220" />
<circle cx="182.20" cy="213.50" r="1.9" fill="#ca0220" />
<circle cx="186.30" cy="214.20" r="1.9" fill="#ca0220" />
<circle cx="188.30" cy="218.20" r="1.9" fill="#ca0220" />
<circle cx="189.00" cy="219.60" r="1.9" fill="#ca0220" />
<circle cx="177.50" cy="221.60" r="1.9" fill="#ca0220" />
<circle cx="180.20" cy="220.90" r="1.9" fill="#ca0220" />
<circle cx="183.60" cy="222.20" r="1.9" fill="#ca0220" />
<circle cx="176.20" cy="224.30" r="1.9" fill="#ca0220" />
<circle cx="178.90" cy="226.30" r="1.9" fill="#ca0220" />
<circle cx="185.60" cy="232.40" r="1.9" fill="#ca0220" />
<circle cx="188.30" cy="233.00" r="1.9" fill="#ca0220" />
<circle cx="183.60" cy="235.00" r="1.9" fill="#ca0220" />
<circle cx="181.60" cy="236.40" r="1.9" fill="#ca0220" />
<circle cx="172.10" cy="237.00" r="1.9" fill="#ca0220" />
<circle cx="177.50" cy="237.00" r="1.9" fill="#ca0220" />
<circle cx="185.00" cy="262.70" r="1.9" fill="#ca0220" />
<circle cx="187.60" cy="267.40" r="1.9" fill="#ca0220" />
<circle cx="170.70" cy="236.90" r="1.9" fill="#ca0220" />
<circle cx="173.90" cy="240.20" r="1.9" fill="#ca0220" />
<circle cx="177.20" cy="237.30" r="1.9" fill="#ca0220" />
<circle cx="182.00" cy="240.20" r="1.9" fill="#ca0220" />
<circle cx="182.80" cy="236.10" r="1.9" fill="#ca0220" />
<circle cx="185.30" cy="233.30" r="1.9" fill="#ca0220" />
<circle cx="188.90" cy="233.70" r="1.9" fill="#ca0220" />
<circle cx="186.90" cy="232.50" r="1.9" fill="#ca0220" />
<circle cx="176.30" cy="230.40" r="1.9" fill="#ca0220" />
<circle cx="178.80" cy="229.60" r="1.9" fill="#ca0220" />
<circle cx="186.10" cy="247.90" r="1.9" fill="#ca0220" />
<circle cx="186.10" cy="262.00" r="1.9" fill="#ca0220" />
<circle cx="173.00" cy="229.00" r="1.9" fill="#ca0220" />
<circle cx="171.00" cy="232.00" r="1.9" fill="#ca0220" />
<line x1="149.10" y1="331.80" x2="149.10" y2="146.30" stroke="#333" stroke-width="1.2" stroke-dasharray="4.3,4.2" stroke-dashoffset="0"/>
<line x1="169.50" y1="331.80" x2="169.50" y2="146.30" stroke="#333" stroke-width="1.2" stroke-dasharray="4.3,4.2" stroke-dashoffset="0"/>
<line x1="62.60" y1="272.90" x2="256.00" y2="272.90" stroke="#333" stroke-width="1.2" stroke-dasharray="4.4,4.2"/>
<line x1="64.70" y1="146.30" x2="64.70" y2="332.30" stroke="#222" stroke-width="1.1" />
<line x1="64.20" y1="331.80" x2="256.00" y2="331.80" stroke="#222" stroke-width="1.1" />
<line x1="62.50" y1="323.70" x2="64.70" y2="323.70" stroke="#222" stroke-width="0.9" />
<text transform="translate(58.60,326.55) scale(0.955,1)" font-size="7.7" text-anchor="end" fill="#333" font-weight="normal"  stroke="#333" stroke-width="0.14">0</text>
<line x1="62.50" y1="272.70" x2="64.70" y2="272.70" stroke="#222" stroke-width="0.9" />
<text transform="translate(58.60,275.55) scale(0.955,1)" font-size="7.7" text-anchor="end" fill="#333" font-weight="normal"  stroke="#333" stroke-width="0.14">2</text>
<line x1="62.50" y1="221.70" x2="64.70" y2="221.70" stroke="#222" stroke-width="0.9" />
<text transform="translate(58.60,224.55) scale(0.955,1)" font-size="7.7" text-anchor="end" fill="#333" font-weight="normal"  stroke="#333" stroke-width="0.14">4</text>
<line x1="62.50" y1="170.70" x2="64.70" y2="170.70" stroke="#222" stroke-width="0.9" />
<text transform="translate(58.60,173.55) scale(0.955,1)" font-size="7.7" text-anchor="end" fill="#333" font-weight="normal"  stroke="#333" stroke-width="0.14">6</text>
<line x1="73.30" y1="331.80" x2="73.30" y2="334.00" stroke="#222" stroke-width="0.9" />
<text transform="translate(73.30,345.09) scale(0.955,1)" font-size="7.81" text-anchor="middle" fill="#333" font-weight="normal"  stroke="#333" stroke-width="0.14">−5.0</text>
<line x1="116.30" y1="331.80" x2="116.30" y2="334.00" stroke="#222" stroke-width="0.9" />
<text transform="translate(116.30,345.09) scale(0.955,1)" font-size="7.81" text-anchor="middle" fill="#333" font-weight="normal"  stroke="#333" stroke-width="0.14">−2.5</text>
<line x1="159.30" y1="331.80" x2="159.30" y2="334.00" stroke="#222" stroke-width="0.9" />
<text transform="translate(159.30,345.09) scale(0.955,1)" font-size="7.81" text-anchor="middle" fill="#333" font-weight="normal"  stroke="#333" stroke-width="0.14">0.0</text>
<line x1="202.30" y1="331.80" x2="202.30" y2="334.00" stroke="#222" stroke-width="0.9" />
<text transform="translate(202.30,345.09) scale(0.955,1)" font-size="7.81" text-anchor="middle" fill="#333" font-weight="normal"  stroke="#333" stroke-width="0.14">2.5</text>
<line x1="245.30" y1="331.80" x2="245.30" y2="334.00" stroke="#222" stroke-width="0.9" />
<text transform="translate(245.30,345.09) scale(0.955,1)" font-size="7.81" text-anchor="middle" fill="#333" font-weight="normal"  stroke="#333" stroke-width="0.14">5.0</text>
<text transform="translate(136.70,356.9) scale(0.70,1)" font-size="9" fill="#231f20" stroke="#231f20" stroke-width="0.25">log<tspan font-size="6.3" dy="2">2</tspan><tspan dy="-2"> fold change</tspan></text>
<text transform="translate(49.20,239.00) rotate(-90) scale(0.724,1)" font-size="9" text-anchor="middle" fill="#231f20" stroke="#231f20" stroke-width="0.25">-log10(P)</text>
<text transform="translate(159.40,136.04) scale(0.955,1)" font-size="8.77" text-anchor="middle" fill="#231f20" font-weight="normal"  stroke="#231f20" stroke-width="0.16">GSI vs DMSO</text>
<text x="21.70" y="134.60" font-size="11.340000000000002" text-anchor="start" fill="#000" font-weight="bold" >B</text>
<circle cx="387.70" cy="273.23" r="1.9" fill="#c8c6cc" />
<circle cx="389.06" cy="273.67" r="1.9" fill="#c8c6cc" />
<circle cx="390.51" cy="273.89" r="1.9" fill="#c8c6cc" />
<circle cx="392.52" cy="273.94" r="1.9" fill="#c8c6cc" />
<circle cx="394.11" cy="273.03" r="1.9" fill="#c8c6cc" />
<circle cx="396.02" cy="273.66" r="1.9" fill="#c8c6cc" />
<circle cx="397.91" cy="273.38" r="1.9" fill="#c8c6cc" />
<circle cx="399.43" cy="273.57" r="1.9" fill="#c8c6cc" />
<circle cx="401.20" cy="273.50" r="1.9" fill="#c8c6cc" />
<circle cx="402.90" cy="273.64" r="1.9" fill="#c8c6cc" />
<circle cx="404.90" cy="273.42" r="1.9" fill="#c8c6cc" />
<circle cx="406.14" cy="273.30" r="1.9" fill="#c8c6cc" />
<circle cx="408.22" cy="273.12" r="1.9" fill="#c8c6cc" />
<circle cx="409.20" cy="273.46" r="1.9" fill="#c8c6cc" />
<circle cx="410.82" cy="273.80" r="1.9" fill="#c8c6cc" />
<circle cx="413.41" cy="273.85" r="1.9" fill="#c8c6cc" />
<circle cx="414.77" cy="273.40" r="1.9" fill="#c8c6cc" />
<circle cx="416.18" cy="273.38" r="1.9" fill="#c8c6cc" />
<circle cx="417.64" cy="273.48" r="1.9" fill="#c8c6cc" />
<circle cx="419.78" cy="273.73" r="1.9" fill="#c8c6cc" />
<circle cx="421.25" cy="273.89" r="1.9" fill="#c8c6cc" />
<circle cx="422.90" cy="273.49" r="1.9" fill="#c8c6cc" />
<circle cx="424.37" cy="273.59" r="1.9" fill="#c8c6cc" />
<circle cx="426.32" cy="273.10" r="1.9" fill="#c8c6cc" />
<circle cx="428.17" cy="273.36" r="1.9" fill="#c8c6cc" />
<circle cx="429.70" cy="273.56" r="1.9" fill="#c8c6cc" />
<circle cx="431.92" cy="273.74" r="1.9" fill="#c8c6cc" />
<circle cx="433.80" cy="273.49" r="1.9" fill="#c8c6cc" />
<circle cx="434.78" cy="273.65" r="1.9" fill="#c8c6cc" />
<circle cx="387.52" cy="274.82" r="1.9" fill="#c8c6cc" />
<circle cx="388.93" cy="274.91" r="1.9" fill="#c8c6cc" />
<circle cx="390.61" cy="275.33" r="1.9" fill="#c8c6cc" />
<circle cx="391.85" cy="275.37" r="1.9" fill="#c8c6cc" />
<circle cx="393.51" cy="275.20" r="1.9" fill="#c8c6cc" />
<circle cx="395.18" cy="274.56" r="1.9" fill="#c8c6cc" />
<circle cx="397.70" cy="274.40" r="1.9" fill="#c8c6cc" />
<circle cx="398.57" cy="274.44" r="1.9" fill="#c8c6cc" />
<circle cx="400.74" cy="275.35" r="1.9" fill="#c8c6cc" />
<circle cx="402.81" cy="274.98" r="1.9" fill="#c8c6cc" />
<circle cx="404.33" cy="274.62" r="1.9" fill="#c8c6cc" />
<circle cx="405.83" cy="274.49" r="1.9" fill="#c8c6cc" />
<circle cx="407.54" cy="274.59" r="1.9" fill="#c8c6cc" />
<circle cx="409.56" cy="274.66" r="1.9" fill="#c8c6cc" />
<circle cx="410.54" cy="274.63" r="1.9" fill="#c8c6cc" />
<circle cx="412.66" cy="275.07" r="1.9" fill="#c8c6cc" />
<circle cx="414.54" cy="274.97" r="1.9" fill="#c8c6cc" />
<circle cx="416.55" cy="274.72" r="1.9" fill="#c8c6cc" />
<circle cx="417.71" cy="274.89" r="1.9" fill="#c8c6cc" />
<circle cx="419.04" cy="275.03" r="1.9" fill="#c8c6cc" />
<circle cx="420.69" cy="274.47" r="1.9" fill="#c8c6cc" />
<circle cx="422.55" cy="274.65" r="1.9" fill="#c8c6cc" />
<circle cx="424.50" cy="274.53" r="1.9" fill="#c8c6cc" />
<circle cx="426.75" cy="275.01" r="1.9" fill="#c8c6cc" />
<circle cx="427.99" cy="275.09" r="1.9" fill="#c8c6cc" />
<circle cx="429.94" cy="274.63" r="1.9" fill="#c8c6cc" />
<circle cx="430.96" cy="274.51" r="1.9" fill="#c8c6cc" />
<circle cx="432.74" cy="274.95" r="1.9" fill="#c8c6cc" />
<circle cx="435.20" cy="274.82" r="1.9" fill="#c8c6cc" />
<circle cx="388.13" cy="275.95" r="1.9" fill="#c8c6cc" />
<circle cx="390.35" cy="276.52" r="1.9" fill="#c8c6cc" />
<circle cx="391.65" cy="276.19" r="1.9" fill="#c8c6cc" />
<circle cx="393.60" cy="275.84" r="1.9" fill="#c8c6cc" />
<circle cx="395.04" cy="275.98" r="1.9" fill="#c8c6cc" />
<circle cx="396.48" cy="276.23" r="1.9" fill="#c8c6cc" />
<circle cx="398.53" cy="276.26" r="1.9" fill="#c8c6cc" />
<circle cx="400.05" cy="276.61" r="1.9" fill="#c8c6cc" />
<circle cx="401.43" cy="276.32" r="1.9" fill="#c8c6cc" />
<circle cx="403.33" cy="276.78" r="1.9" fill="#c8c6cc" />
<circle cx="405.47" cy="275.99" r="1.9" fill="#c8c6cc" />
<circle cx="406.55" cy="276.05" r="1.9" fill="#c8c6cc" />
<circle cx="408.15" cy="276.74" r="1.9" fill="#c8c6cc" />
<circle cx="410.20" cy="275.84" r="1.9" fill="#c8c6cc" />
<circle cx="412.19" cy="275.88" r="1.9" fill="#c8c6cc" />
<circle cx="413.30" cy="276.06" r="1.9" fill="#c8c6cc" />
<circle cx="415.70" cy="276.06" r="1.9" fill="#c8c6cc" />
<circle cx="417.43" cy="276.43" r="1.9" fill="#c8c6cc" />
<circle cx="418.51" cy="275.90" r="1.9" fill="#c8c6cc" />
<circle cx="420.55" cy="276.43" r="1.9" fill="#c8c6cc" />
<circle cx="422.37" cy="276.39" r="1.9" fill="#c8c6cc" />
<circle cx="423.84" cy="276.67" r="1.9" fill="#c8c6cc" />
<circle cx="426.01" cy="276.82" r="1.9" fill="#c8c6cc" />
<circle cx="427.60" cy="276.52" r="1.9" fill="#c8c6cc" />
<circle cx="428.78" cy="275.93" r="1.9" fill="#c8c6cc" />
<circle cx="430.48" cy="276.44" r="1.9" fill="#c8c6cc" />
<circle cx="432.54" cy="276.26" r="1.9" fill="#c8c6cc" />
<circle cx="433.93" cy="276.53" r="1.9" fill="#c8c6cc" />
<circle cx="388.82" cy="278.03" r="1.9" fill="#c8c6cc" />
<circle cx="390.70" cy="278.00" r="1.9" fill="#c8c6cc" />
<circle cx="392.04" cy="277.72" r="1.9" fill="#c8c6cc" />
<circle cx="393.60" cy="278.10" r="1.9" fill="#c8c6cc" />
<circle cx="395.55" cy="277.79" r="1.9" fill="#c8c6cc" />
<circle cx="396.70" cy="277.55" r="1.9" fill="#c8c6cc" />
<circle cx="399.34" cy="277.41" r="1.9" fill="#c8c6cc" />
<circle cx="401.06" cy="278.07" r="1.9" fill="#c8c6cc" />
<circle cx="401.81" cy="278.16" r="1.9" fill="#c8c6cc" />
<circle cx="403.79" cy="278.21" r="1.9" fill="#c8c6cc" />
<circle cx="406.01" cy="278.11" r="1.9" fill="#c8c6cc" />
<circle cx="407.39" cy="277.37" r="1.9" fill="#c8c6cc" />
<circle cx="409.08" cy="278.09" r="1.9" fill="#c8c6cc" />
<circle cx="410.95" cy="277.42" r="1.9" fill="#c8c6cc" />
<circle cx="412.05" cy="277.86" r="1.9" fill="#c8c6cc" />
<circle cx="414.40" cy="277.69" r="1.9" fill="#c8c6cc" />
<circle cx="416.11" cy="277.84" r="1.9" fill="#c8c6cc" />
<circle cx="417.27" cy="277.57" r="1.9" fill="#c8c6cc" />
<circle cx="419.39" cy="278.23" r="1.9" fill="#c8c6cc" />
<circle cx="420.54" cy="278.22" r="1.9" fill="#c8c6cc" />
<circle cx="422.39" cy="278.04" r="1.9" fill="#c8c6cc" />
<circle cx="424.74" cy="277.83" r="1.9" fill="#c8c6cc" />
<circle cx="426.06" cy="277.74" r="1.9" fill="#c8c6cc" />
<circle cx="427.87" cy="277.42" r="1.9" fill="#c8c6cc" />
<circle cx="429.11" cy="277.30" r="1.9" fill="#c8c6cc" />
<circle cx="431.43" cy="277.68" r="1.9" fill="#c8c6cc" />
<circle cx="433.00" cy="277.93" r="1.9" fill="#c8c6cc" />
<circle cx="388.26" cy="279.40" r="1.9" fill="#c8c6cc" />
<circle cx="389.74" cy="278.88" r="1.9" fill="#c8c6cc" />
<circle cx="391.09" cy="279.05" r="1.9" fill="#c8c6cc" />
<circle cx="392.57" cy="279.12" r="1.9" fill="#c8c6cc" />
<circle cx="394.90" cy="279.07" r="1.9" fill="#c8c6cc" />
<circle cx="396.24" cy="279.69" r="1.9" fill="#c8c6cc" />
<circle cx="398.21" cy="279.56" r="1.9" fill="#c8c6cc" />
<circle cx="400.14" cy="279.13" r="1.9" fill="#c8c6cc" />
<circle cx="400.98" cy="279.08" r="1.9" fill="#c8c6cc" />
<circle cx="403.23" cy="278.73" r="1.9" fill="#c8c6cc" />
<circle cx="404.38" cy="279.14" r="1.9" fill="#c8c6cc" />
<circle cx="406.85" cy="279.35" r="1.9" fill="#c8c6cc" />
<circle cx="408.37" cy="278.96" r="1.9" fill="#c8c6cc" />
<circle cx="409.82" cy="279.68" r="1.9" fill="#c8c6cc" />
<circle cx="411.38" cy="279.03" r="1.9" fill="#c8c6cc" />
<circle cx="413.16" cy="278.96" r="1.9" fill="#c8c6cc" />
<circle cx="415.18" cy="279.66" r="1.9" fill="#c8c6cc" />
<circle cx="416.54" cy="279.44" r="1.9" fill="#c8c6cc" />
<circle cx="418.60" cy="279.39" r="1.9" fill="#c8c6cc" />
<circle cx="419.66" cy="278.90" r="1.9" fill="#c8c6cc" />
<circle cx="421.49" cy="279.01" r="1.9" fill="#c8c6cc" />
<circle cx="423.03" cy="279.24" r="1.9" fill="#c8c6cc" />
<circle cx="424.87" cy="278.81" r="1.9" fill="#c8c6cc" />
<circle cx="426.49" cy="278.86" r="1.9" fill="#c8c6cc" />
<circle cx="428.41" cy="279.50" r="1.9" fill="#c8c6cc" />
<circle cx="430.33" cy="279.09" r="1.9" fill="#c8c6cc" />
<circle cx="432.33" cy="279.11" r="1.9" fill="#c8c6cc" />
<circle cx="433.31" cy="279.15" r="1.9" fill="#c8c6cc" />
<circle cx="386.23" cy="281.54" r="1.9" fill="#c8c6cc" />
<circle cx="388.87" cy="280.77" r="1.9" fill="#c8c6cc" />
<circle cx="390.01" cy="280.81" r="1.9" fill="#c8c6cc" />
<circle cx="392.21" cy="280.21" r="1.9" fill="#c8c6cc" />
<circle cx="393.35" cy="280.93" r="1.9" fill="#c8c6cc" />
<circle cx="395.22" cy="280.95" r="1.9" fill="#c8c6cc" />
<circle cx="396.92" cy="280.56" r="1.9" fill="#c8c6cc" />
<circle cx="398.39" cy="280.20" r="1.9" fill="#c8c6cc" />
<circle cx="400.91" cy="280.71" r="1.9" fill="#c8c6cc" />
<circle cx="402.27" cy="280.85" r="1.9" fill="#c8c6cc" />
<circle cx="403.87" cy="280.78" r="1.9" fill="#c8c6cc" />
<circle cx="405.79" cy="280.51" r="1.9" fill="#c8c6cc" />
<circle cx="407.04" cy="280.65" r="1.9" fill="#c8c6cc" />
<circle cx="409.06" cy="280.22" r="1.9" fill="#c8c6cc" />
<circle cx="410.95" cy="280.33" r="1.9" fill="#c8c6cc" />
<circle cx="412.93" cy="280.77" r="1.9" fill="#c8c6cc" />
<circle cx="414.40" cy="281.13" r="1.9" fill="#c8c6cc" />
<circle cx="415.73" cy="280.92" r="1.9" fill="#c8c6cc" />
<circle cx="417.50" cy="280.44" r="1.9" fill="#c8c6cc" />
<circle cx="419.47" cy="281.03" r="1.9" fill="#c8c6cc" />
<circle cx="421.13" cy="280.24" r="1.9" fill="#c8c6cc" />
<circle cx="423.06" cy="280.78" r="1.9" fill="#c8c6cc" />
<circle cx="424.34" cy="280.58" r="1.9" fill="#c8c6cc" />
<circle cx="425.73" cy="280.96" r="1.9" fill="#c8c6cc" />
<circle cx="427.27" cy="280.78" r="1.9" fill="#c8c6cc" />
<circle cx="429.58" cy="280.35" r="1.9" fill="#c8c6cc" />
<circle cx="430.82" cy="280.67" r="1.9" fill="#c8c6cc" />
<circle cx="433.71" cy="281.19" r="1.9" fill="#c8c6cc" />
<circle cx="388.96" cy="281.86" r="1.9" fill="#c8c6cc" />
<circle cx="390.42" cy="282.07" r="1.9" fill="#c8c6cc" />
<circle cx="392.34" cy="282.08" r="1.9" fill="#c8c6cc" />
<circle cx="394.13" cy="281.92" r="1.9" fill="#c8c6cc" />
<circle cx="395.82" cy="282.36" r="1.9" fill="#c8c6cc" />
<circle cx="396.91" cy="282.35" r="1.9" fill="#c8c6cc" />
<circle cx="399.29" cy="282.23" r="1.9" fill="#c8c6cc" />
<circle cx="400.27" cy="281.97" r="1.9" fill="#c8c6cc" />
<circle cx="402.00" cy="281.65" r="1.9" fill="#c8c6cc" />
<circle cx="404.45" cy="282.24" r="1.9" fill="#c8c6cc" />
<circle cx="405.37" cy="282.45" r="1.9" fill="#c8c6cc" />
<circle cx="407.69" cy="281.82" r="1.9" fill="#c8c6cc" />
<circle cx="408.70" cy="281.78" r="1.9" fill="#c8c6cc" />
<circle cx="411.35" cy="281.65" r="1.9" fill="#c8c6cc" />
<circle cx="412.83" cy="282.37" r="1.9" fill="#c8c6cc" />
<circle cx="413.87" cy="282.46" r="1.9" fill="#c8c6cc" />
<circle cx="416.40" cy="282.18" r="1.9" fill="#c8c6cc" />
<circle cx="417.93" cy="282.26" r="1.9" fill="#c8c6cc" />
<circle cx="419.65" cy="282.11" r="1.9" fill="#c8c6cc" />
<circle cx="421.05" cy="282.06" r="1.9" fill="#c8c6cc" />
<circle cx="423.08" cy="282.20" r="1.9" fill="#c8c6cc" />
<circle cx="424.26" cy="282.51" r="1.9" fill="#c8c6cc" />
<circle cx="426.04" cy="281.64" r="1.9" fill="#c8c6cc" />
<circle cx="428.01" cy="282.57" r="1.9" fill="#c8c6cc" />
<circle cx="429.82" cy="282.37" r="1.9" fill="#c8c6cc" />
<circle cx="431.46" cy="282.05" r="1.9" fill="#c8c6cc" />
<circle cx="388.44" cy="283.11" r="1.9" fill="#c8c6cc" />
<circle cx="390.58" cy="283.89" r="1.9" fill="#c8c6cc" />
<circle cx="391.59" cy="283.34" r="1.9" fill="#c8c6cc" />
<circle cx="393.52" cy="283.88" r="1.9" fill="#c8c6cc" />
<circle cx="394.94" cy="283.51" r="1.9" fill="#c8c6cc" />
<circle cx="396.65" cy="283.66" r="1.9" fill="#c8c6cc" />
<circle cx="398.87" cy="283.13" r="1.9" fill="#c8c6cc" />
<circle cx="400.55" cy="283.36" r="1.9" fill="#c8c6cc" />
<circle cx="401.88" cy="283.54" r="1.9" fill="#c8c6cc" />
<circle cx="404.01" cy="283.73" r="1.9" fill="#c8c6cc" />
<circle cx="405.73" cy="283.31" r="1.9" fill="#c8c6cc" />
<circle cx="407.03" cy="283.65" r="1.9" fill="#c8c6cc" />
<circle cx="409.32" cy="283.59" r="1.9" fill="#c8c6cc" />
<circle cx="411.21" cy="283.85" r="1.9" fill="#c8c6cc" />
<circle cx="412.19" cy="283.68" r="1.9" fill="#c8c6cc" />
<circle cx="413.80" cy="283.15" r="1.9" fill="#c8c6cc" />
<circle cx="415.71" cy="283.98" r="1.9" fill="#c8c6cc" />
<circle cx="417.56" cy="283.40" r="1.9" fill="#c8c6cc" />
<circle cx="418.78" cy="283.17" r="1.9" fill="#c8c6cc" />
<circle cx="420.72" cy="283.06" r="1.9" fill="#c8c6cc" />
<circle cx="422.50" cy="283.83" r="1.9" fill="#c8c6cc" />
<circle cx="424.79" cy="283.14" r="1.9" fill="#c8c6cc" />
<circle cx="426.17" cy="283.08" r="1.9" fill="#c8c6cc" />
<circle cx="427.56" cy="283.73" r="1.9" fill="#c8c6cc" />
<circle cx="429.00" cy="283.14" r="1.9" fill="#c8c6cc" />
<circle cx="431.57" cy="283.97" r="1.9" fill="#c8c6cc" />
<circle cx="389.71" cy="285.07" r="1.9" fill="#c8c6cc" />
<circle cx="390.91" cy="284.58" r="1.9" fill="#c8c6cc" />
<circle cx="392.76" cy="285.45" r="1.9" fill="#c8c6cc" />
<circle cx="394.93" cy="284.62" r="1.9" fill="#c8c6cc" />
<circle cx="396.79" cy="284.72" r="1.9" fill="#c8c6cc" />
<circle cx="398.16" cy="284.90" r="1.9" fill="#c8c6cc" />
<circle cx="399.41" cy="285.20" r="1.9" fill="#c8c6cc" />
<circle cx="401.57" cy="285.32" r="1.9" fill="#c8c6cc" />
<circle cx="403.09" cy="284.85" r="1.9" fill="#c8c6cc" />
<circle cx="404.99" cy="284.70" r="1.9" fill="#c8c6cc" />
<circle cx="406.09" cy="285.01" r="1.9" fill="#c8c6cc" />
<circle cx="407.91" cy="285.01" r="1.9" fill="#c8c6cc" />
<circle cx="409.68" cy="285.08" r="1.9" fill="#c8c6cc" />
<circle cx="411.87" cy="284.55" r="1.9" fill="#c8c6cc" />
<circle cx="413.32" cy="284.67" r="1.9" fill="#c8c6cc" />
<circle cx="415.20" cy="284.60" r="1.9" fill="#c8c6cc" />
<circle cx="416.49" cy="284.91" r="1.9" fill="#c8c6cc" />
<circle cx="418.43" cy="285.46" r="1.9" fill="#c8c6cc" />
<circle cx="419.85" cy="285.05" r="1.9" fill="#c8c6cc" />
<circle cx="421.51" cy="284.72" r="1.9" fill="#c8c6cc" />
<circle cx="423.31" cy="284.53" r="1.9" fill="#c8c6cc" />
<circle cx="425.64" cy="285.31" r="1.9" fill="#c8c6cc" />
<circle cx="426.68" cy="284.81" r="1.9" fill="#c8c6cc" />
<circle cx="428.79" cy="285.13" r="1.9" fill="#c8c6cc" />
<circle cx="430.11" cy="284.74" r="1.9" fill="#c8c6cc" />
<circle cx="433.51" cy="287.36" r="1.9" fill="#c8c6cc" />
<circle cx="389.70" cy="286.57" r="1.9" fill="#c8c6cc" />
<circle cx="390.82" cy="286.31" r="1.9" fill="#c8c6cc" />
<circle cx="392.20" cy="286.19" r="1.9" fill="#c8c6cc" />
<circle cx="394.28" cy="286.43" r="1.9" fill="#c8c6cc" />
<circle cx="396.46" cy="286.83" r="1.9" fill="#c8c6cc" />
<circle cx="398.04" cy="286.30" r="1.9" fill="#c8c6cc" />
<circle cx="399.71" cy="286.30" r="1.9" fill="#c8c6cc" />
<circle cx="400.99" cy="286.12" r="1.9" fill="#c8c6cc" />
<circle cx="402.45" cy="286.66" r="1.9" fill="#c8c6cc" />
<circle cx="404.53" cy="286.75" r="1.9" fill="#c8c6cc" />
<circle cx="406.65" cy="286.67" r="1.9" fill="#c8c6cc" />
<circle cx="408.18" cy="286.64" r="1.9" fill="#c8c6cc" />
<circle cx="409.73" cy="286.61" r="1.9" fill="#c8c6cc" />
<circle cx="411.37" cy="286.89" r="1.9" fill="#c8c6cc" />
<circle cx="412.73" cy="286.45" r="1.9" fill="#c8c6cc" />
<circle cx="414.95" cy="286.58" r="1.9" fill="#c8c6cc" />
<circle cx="416.15" cy="286.56" r="1.9" fill="#c8c6cc" />
<circle cx="418.32" cy="286.41" r="1.9" fill="#c8c6cc" />
<circle cx="420.03" cy="286.92" r="1.9" fill="#c8c6cc" />
<circle cx="421.65" cy="286.56" r="1.9" fill="#c8c6cc" />
<circle cx="423.24" cy="286.45" r="1.9" fill="#c8c6cc" />
<circle cx="425.31" cy="286.38" r="1.9" fill="#c8c6cc" />
<circle cx="426.80" cy="286.75" r="1.9" fill="#c8c6cc" />
<circle cx="427.91" cy="286.16" r="1.9" fill="#c8c6cc" />
<circle cx="430.36" cy="286.87" r="1.9" fill="#c8c6cc" />
<circle cx="390.47" cy="288.31" r="1.9" fill="#c8c6cc" />
<circle cx="392.24" cy="287.68" r="1.9" fill="#c8c6cc" />
<circle cx="393.73" cy="287.68" r="1.9" fill="#c8c6cc" />
<circle cx="395.58" cy="288.18" r="1.9" fill="#c8c6cc" />
<circle cx="396.47" cy="288.02" r="1.9" fill="#c8c6cc" />
<circle cx="399.03" cy="288.12" r="1.9" fill="#c8c6cc" />
<circle cx="399.88" cy="287.56" r="1.9" fill="#c8c6cc" />
<circle cx="402.05" cy="287.71" r="1.9" fill="#c8c6cc" />
<circle cx="403.26" cy="288.08" r="1.9" fill="#c8c6cc" />
<circle cx="405.00" cy="287.90" r="1.9" fill="#c8c6cc" />
<circle cx="406.94" cy="287.92" r="1.9" fill="#c8c6cc" />
<circle cx="408.30" cy="288.26" r="1.9" fill="#c8c6cc" />
<circle cx="410.71" cy="287.73" r="1.9" fill="#c8c6cc" />
<circle cx="412.62" cy="287.45" r="1.9" fill="#c8c6cc" />
<circle cx="414.02" cy="288.34" r="1.9" fill="#c8c6cc" />
<circle cx="415.27" cy="287.85" r="1.9" fill="#c8c6cc" />
<circle cx="417.34" cy="288.05" r="1.9" fill="#c8c6cc" />
<circle cx="418.68" cy="287.98" r="1.9" fill="#c8c6cc" />
<circle cx="420.27" cy="287.48" r="1.9" fill="#c8c6cc" />
<circle cx="422.29" cy="287.72" r="1.9" fill="#c8c6cc" />
<circle cx="423.65" cy="288.04" r="1.9" fill="#c8c6cc" />
<circle cx="425.91" cy="288.31" r="1.9" fill="#c8c6cc" />
<circle cx="427.59" cy="287.75" r="1.9" fill="#c8c6cc" />
<circle cx="429.28" cy="288.00" r="1.9" fill="#c8c6cc" />
<circle cx="431.33" cy="287.53" r="1.9" fill="#c8c6cc" />
<circle cx="390.91" cy="288.84" r="1.9" fill="#c8c6cc" />
<circle cx="392.38" cy="289.10" r="1.9" fill="#c8c6cc" />
<circle cx="394.01" cy="289.61" r="1.9" fill="#c8c6cc" />
<circle cx="395.77" cy="289.46" r="1.9" fill="#c8c6cc" />
<circle cx="397.89" cy="288.93" r="1.9" fill="#c8c6cc" />
<circle cx="399.51" cy="289.38" r="1.9" fill="#c8c6cc" />
<circle cx="401.68" cy="289.17" r="1.9" fill="#c8c6cc" />
<circle cx="402.67" cy="289.57" r="1.9" fill="#c8c6cc" />
<circle cx="404.37" cy="289.03" r="1.9" fill="#c8c6cc" />
<circle cx="406.69" cy="289.27" r="1.9" fill="#c8c6cc" />
<circle cx="408.03" cy="289.42" r="1.9" fill="#c8c6cc" />
<circle cx="409.67" cy="289.56" r="1.9" fill="#c8c6cc" />
<circle cx="411.41" cy="289.09" r="1.9" fill="#c8c6cc" />
<circle cx="413.00" cy="289.03" r="1.9" fill="#c8c6cc" />
<circle cx="414.40" cy="289.07" r="1.9" fill="#c8c6cc" />
<circle cx="416.24" cy="289.67" r="1.9" fill="#c8c6cc" />
<circle cx="418.65" cy="288.97" r="1.9" fill="#c8c6cc" />
<circle cx="419.77" cy="289.34" r="1.9" fill="#c8c6cc" />
<circle cx="421.99" cy="289.69" r="1.9" fill="#c8c6cc" />
<circle cx="422.88" cy="289.17" r="1.9" fill="#c8c6cc" />
<circle cx="424.56" cy="289.19" r="1.9" fill="#c8c6cc" />
<circle cx="427.13" cy="289.05" r="1.9" fill="#c8c6cc" />
<circle cx="428.13" cy="289.68" r="1.9" fill="#c8c6cc" />
<circle cx="430.10" cy="289.06" r="1.9" fill="#c8c6cc" />
<circle cx="391.71" cy="291.25" r="1.9" fill="#c8c6cc" />
<circle cx="392.66" cy="290.33" r="1.9" fill="#c8c6cc" />
<circle cx="394.62" cy="291.14" r="1.9" fill="#c8c6cc" />
<circle cx="396.65" cy="290.52" r="1.9" fill="#c8c6cc" />
<circle cx="398.14" cy="290.32" r="1.9" fill="#c8c6cc" />
<circle cx="400.19" cy="291.08" r="1.9" fill="#c8c6cc" />
<circle cx="401.59" cy="290.30" r="1.9" fill="#c8c6cc" />
<circle cx="402.93" cy="291.05" r="1.9" fill="#c8c6cc" />
<circle cx="404.82" cy="290.81" r="1.9" fill="#c8c6cc" />
<circle cx="406.87" cy="290.67" r="1.9" fill="#c8c6cc" />
<circle cx="407.91" cy="290.63" r="1.9" fill="#c8c6cc" />
<circle cx="409.48" cy="290.68" r="1.9" fill="#c8c6cc" />
<circle cx="412.10" cy="291.10" r="1.9" fill="#c8c6cc" />
<circle cx="412.89" cy="290.54" r="1.9" fill="#c8c6cc" />
<circle cx="414.83" cy="290.37" r="1.9" fill="#c8c6cc" />
<circle cx="416.81" cy="290.41" r="1.9" fill="#c8c6cc" />
<circle cx="418.49" cy="291.02" r="1.9" fill="#c8c6cc" />
<circle cx="420.62" cy="290.54" r="1.9" fill="#c8c6cc" />
<circle cx="421.41" cy="291.20" r="1.9" fill="#c8c6cc" />
<circle cx="423.20" cy="291.09" r="1.9" fill="#c8c6cc" />
<circle cx="424.86" cy="291.16" r="1.9" fill="#c8c6cc" />
<circle cx="426.79" cy="291.07" r="1.9" fill="#c8c6cc" />
<circle cx="428.70" cy="290.67" r="1.9" fill="#c8c6cc" />
<circle cx="430.65" cy="291.06" r="1.9" fill="#c8c6cc" />
<circle cx="392.69" cy="292.62" r="1.9" fill="#c8c6cc" />
<circle cx="395.08" cy="292.06" r="1.9" fill="#c8c6cc" />
<circle cx="396.88" cy="291.82" r="1.9" fill="#c8c6cc" />
<circle cx="398.48" cy="292.19" r="1.9" fill="#c8c6cc" />
<circle cx="400.10" cy="292.61" r="1.9" fill="#c8c6cc" />
<circle cx="401.58" cy="292.02" r="1.9" fill="#c8c6cc" />
<circle cx="403.62" cy="292.72" r="1.9" fill="#c8c6cc" />
<circle cx="405.42" cy="292.70" r="1.9" fill="#c8c6cc" />
<circle cx="407.01" cy="291.82" r="1.9" fill="#c8c6cc" />
<circle cx="408.46" cy="291.83" r="1.9" fill="#c8c6cc" />
<circle cx="410.04" cy="291.97" r="1.9" fill="#c8c6cc" />
<circle cx="411.91" cy="292.06" r="1.9" fill="#c8c6cc" />
<circle cx="413.70" cy="292.15" r="1.9" fill="#c8c6cc" />
<circle cx="414.82" cy="292.41" r="1.9" fill="#c8c6cc" />
<circle cx="416.96" cy="292.23" r="1.9" fill="#c8c6cc" />
<circle cx="419.08" cy="291.78" r="1.9" fill="#c8c6cc" />
<circle cx="420.66" cy="292.04" r="1.9" fill="#c8c6cc" />
<circle cx="422.00" cy="292.02" r="1.9" fill="#c8c6cc" />
<circle cx="423.37" cy="292.28" r="1.9" fill="#c8c6cc" />
<circle cx="425.31" cy="292.45" r="1.9" fill="#c8c6cc" />
<circle cx="427.29" cy="291.83" r="1.9" fill="#c8c6cc" />
<circle cx="428.93" cy="292.34" r="1.9" fill="#c8c6cc" />
<circle cx="392.36" cy="293.79" r="1.9" fill="#c8c6cc" />
<circle cx="393.95" cy="293.24" r="1.9" fill="#c8c6cc" />
<circle cx="396.43" cy="293.94" r="1.9" fill="#c8c6cc" />
<circle cx="398.13" cy="294.02" r="1.9" fill="#c8c6cc" />
<circle cx="399.33" cy="294.14" r="1.9" fill="#c8c6cc" />
<circle cx="401.29" cy="293.80" r="1.9" fill="#c8c6cc" />
<circle cx="402.44" cy="293.50" r="1.9" fill="#c8c6cc" />
<circle cx="404.68" cy="293.83" r="1.9" fill="#c8c6cc" />
<circle cx="406.66" cy="293.17" r="1.9" fill="#c8c6cc" />
<circle cx="407.55" cy="293.54" r="1.9" fill="#c8c6cc" />
<circle cx="409.62" cy="293.97" r="1.9" fill="#c8c6cc" />
<circle cx="411.21" cy="293.97" r="1.9" fill="#c8c6cc" />
<circle cx="413.28" cy="293.77" r="1.9" fill="#c8c6cc" />
<circle cx="414.28" cy="293.53" r="1.9" fill="#c8c6cc" />
<circle cx="416.33" cy="293.45" r="1.9" fill="#c8c6cc" />
<circle cx="418.24" cy="293.87" r="1.9" fill="#c8c6cc" />
<circle cx="419.97" cy="293.56" r="1.9" fill="#c8c6cc" />
<circle cx="421.34" cy="293.40" r="1.9" fill="#c8c6cc" />
<circle cx="422.84" cy="293.29" r="1.9" fill="#c8c6cc" />
<circle cx="425.44" cy="293.95" r="1.9" fill="#c8c6cc" />
<circle cx="426.89" cy="293.38" r="1.9" fill="#c8c6cc" />
<circle cx="427.87" cy="293.69" r="1.9" fill="#c8c6cc" />
<circle cx="390.71" cy="295.07" r="1.9" fill="#c8c6cc" />
<circle cx="391.85" cy="295.56" r="1.9" fill="#c8c6cc" />
<circle cx="394.35" cy="294.75" r="1.9" fill="#c8c6cc" />
<circle cx="396.01" cy="294.63" r="1.9" fill="#c8c6cc" />
<circle cx="397.48" cy="295.58" r="1.9" fill="#c8c6cc" />
<circle cx="399.38" cy="294.93" r="1.9" fill="#c8c6cc" />
<circle cx="401.17" cy="295.51" r="1.9" fill="#c8c6cc" />
<circle cx="402.70" cy="295.40" r="1.9" fill="#c8c6cc" />
<circle cx="404.06" cy="295.19" r="1.9" fill="#c8c6cc" />
<circle cx="405.90" cy="294.64" r="1.9" fill="#c8c6cc" />
<circle cx="407.90" cy="295.32" r="1.9" fill="#c8c6cc" />
<circle cx="409.67" cy="295.37" r="1.9" fill="#c8c6cc" />
<circle cx="411.13" cy="295.48" r="1.9" fill="#c8c6cc" />
<circle cx="413.07" cy="295.05" r="1.9" fill="#c8c6cc" />
<circle cx="413.85" cy="294.93" r="1.9" fill="#c8c6cc" />
<circle cx="415.75" cy="295.27" r="1.9" fill="#c8c6cc" />
<circle cx="417.88" cy="295.52" r="1.9" fill="#c8c6cc" />
<circle cx="419.22" cy="295.02" r="1.9" fill="#c8c6cc" />
<circle cx="421.37" cy="295.61" r="1.9" fill="#c8c6cc" />
<circle cx="422.86" cy="295.35" r="1.9" fill="#c8c6cc" />
<circle cx="424.55" cy="295.29" r="1.9" fill="#c8c6cc" />
<circle cx="426.56" cy="294.77" r="1.9" fill="#c8c6cc" />
<circle cx="428.14" cy="295.43" r="1.9" fill="#c8c6cc" />
<circle cx="431.02" cy="296.88" r="1.9" fill="#c8c6cc" />
<circle cx="392.65" cy="296.97" r="1.9" fill="#c8c6cc" />
<circle cx="395.03" cy="297.01" r="1.9" fill="#c8c6cc" />
<circle cx="396.59" cy="296.61" r="1.9" fill="#c8c6cc" />
<circle cx="398.04" cy="296.47" r="1.9" fill="#c8c6cc" />
<circle cx="400.14" cy="296.38" r="1.9" fill="#c8c6cc" />
<circle cx="401.03" cy="296.95" r="1.9" fill="#c8c6cc" />
<circle cx="403.42" cy="297.01" r="1.9" fill="#c8c6cc" />
<circle cx="404.98" cy="296.47" r="1.9" fill="#c8c6cc" />
<circle cx="406.93" cy="296.55" r="1.9" fill="#c8c6cc" />
<circle cx="407.83" cy="296.22" r="1.9" fill="#c8c6cc" />
<circle cx="410.31" cy="296.08" r="1.9" fill="#c8c6cc" />
<circle cx="411.57" cy="296.45" r="1.9" fill="#c8c6cc" />
<circle cx="413.75" cy="296.30" r="1.9" fill="#c8c6cc" />
<circle cx="414.95" cy="296.83" r="1.9" fill="#c8c6cc" />
<circle cx="416.36" cy="296.53" r="1.9" fill="#c8c6cc" />
<circle cx="418.45" cy="296.62" r="1.9" fill="#c8c6cc" />
<circle cx="420.09" cy="296.58" r="1.9" fill="#c8c6cc" />
<circle cx="422.07" cy="296.25" r="1.9" fill="#c8c6cc" />
<circle cx="423.36" cy="297.01" r="1.9" fill="#c8c6cc" />
<circle cx="425.67" cy="297.02" r="1.9" fill="#c8c6cc" />
<circle cx="426.86" cy="296.81" r="1.9" fill="#c8c6cc" />
<circle cx="429.14" cy="296.56" r="1.9" fill="#c8c6cc" />
<circle cx="430.86" cy="297.86" r="1.9" fill="#c8c6cc" />
<circle cx="394.60" cy="297.71" r="1.9" fill="#c8c6cc" />
<circle cx="395.79" cy="298.47" r="1.9" fill="#c8c6cc" />
<circle cx="397.68" cy="298.47" r="1.9" fill="#c8c6cc" />
<circle cx="399.79" cy="298.01" r="1.9" fill="#c8c6cc" />
<circle cx="401.00" cy="297.59" r="1.9" fill="#c8c6cc" />
<circle cx="402.78" cy="297.98" r="1.9" fill="#c8c6cc" />
<circle cx="404.56" cy="297.67" r="1.9" fill="#c8c6cc" />
<circle cx="406.41" cy="298.02" r="1.9" fill="#c8c6cc" />
<circle cx="407.92" cy="297.91" r="1.9" fill="#c8c6cc" />
<circle cx="409.72" cy="297.55" r="1.9" fill="#c8c6cc" />
<circle cx="411.08" cy="298.09" r="1.9" fill="#c8c6cc" />
<circle cx="413.29" cy="298.47" r="1.9" fill="#c8c6cc" />
<circle cx="414.85" cy="298.01" r="1.9" fill="#c8c6cc" />
<circle cx="416.66" cy="297.70" r="1.9" fill="#c8c6cc" />
<circle cx="418.21" cy="297.77" r="1.9" fill="#c8c6cc" />
<circle cx="419.88" cy="298.48" r="1.9" fill="#c8c6cc" />
<circle cx="421.49" cy="297.83" r="1.9" fill="#c8c6cc" />
<circle cx="423.38" cy="298.10" r="1.9" fill="#c8c6cc" />
<circle cx="424.87" cy="297.88" r="1.9" fill="#c8c6cc" />
<circle cx="426.68" cy="297.77" r="1.9" fill="#c8c6cc" />
<circle cx="428.06" cy="297.58" r="1.9" fill="#c8c6cc" />
<circle cx="394.69" cy="299.24" r="1.9" fill="#c8c6cc" />
<circle cx="396.32" cy="299.78" r="1.9" fill="#c8c6cc" />
<circle cx="398.56" cy="299.75" r="1.9" fill="#c8c6cc" />
<circle cx="399.87" cy="299.37" r="1.9" fill="#c8c6cc" />
<circle cx="401.81" cy="299.13" r="1.9" fill="#c8c6cc" />
<circle cx="403.36" cy="299.31" r="1.9" fill="#c8c6cc" />
<circle cx="404.80" cy="299.64" r="1.9" fill="#c8c6cc" />
<circle cx="406.71" cy="299.87" r="1.9" fill="#c8c6cc" />
<circle cx="408.26" cy="299.34" r="1.9" fill="#c8c6cc" />
<circle cx="410.15" cy="299.05" r="1.9" fill="#c8c6cc" />
<circle cx="411.46" cy="299.60" r="1.9" fill="#c8c6cc" />
<circle cx="413.18" cy="299.20" r="1.9" fill="#c8c6cc" />
<circle cx="415.15" cy="299.81" r="1.9" fill="#c8c6cc" />
<circle cx="416.93" cy="299.71" r="1.9" fill="#c8c6cc" />
<circle cx="418.41" cy="299.60" r="1.9" fill="#c8c6cc" />
<circle cx="420.43" cy="299.87" r="1.9" fill="#c8c6cc" />
<circle cx="421.45" cy="299.87" r="1.9" fill="#c8c6cc" />
<circle cx="423.21" cy="299.57" r="1.9" fill="#c8c6cc" />
<circle cx="424.96" cy="299.56" r="1.9" fill="#c8c6cc" />
<circle cx="427.02" cy="299.46" r="1.9" fill="#c8c6cc" />
<circle cx="428.96" cy="299.67" r="1.9" fill="#c8c6cc" />
<circle cx="395.20" cy="300.85" r="1.9" fill="#c8c6cc" />
<circle cx="397.05" cy="301.35" r="1.9" fill="#c8c6cc" />
<circle cx="399.01" cy="300.86" r="1.9" fill="#c8c6cc" />
<circle cx="400.37" cy="300.65" r="1.9" fill="#c8c6cc" />
<circle cx="402.28" cy="300.74" r="1.9" fill="#c8c6cc" />
<circle cx="404.53" cy="300.84" r="1.9" fill="#c8c6cc" />
<circle cx="405.56" cy="301.33" r="1.9" fill="#c8c6cc" />
<circle cx="407.71" cy="300.46" r="1.9" fill="#c8c6cc" />
<circle cx="409.04" cy="301.35" r="1.9" fill="#c8c6cc" />
<circle cx="411.26" cy="300.42" r="1.9" fill="#c8c6cc" />
<circle cx="413.10" cy="300.76" r="1.9" fill="#c8c6cc" />
<circle cx="414.08" cy="300.76" r="1.9" fill="#c8c6cc" />
<circle cx="415.90" cy="300.70" r="1.9" fill="#c8c6cc" />
<circle cx="417.69" cy="300.58" r="1.9" fill="#c8c6cc" />
<circle cx="419.49" cy="300.97" r="1.9" fill="#c8c6cc" />
<circle cx="421.07" cy="300.61" r="1.9" fill="#c8c6cc" />
<circle cx="422.43" cy="300.70" r="1.9" fill="#c8c6cc" />
<circle cx="424.43" cy="300.61" r="1.9" fill="#c8c6cc" />
<circle cx="426.02" cy="300.94" r="1.9" fill="#c8c6cc" />
<circle cx="427.55" cy="300.83" r="1.9" fill="#c8c6cc" />
<circle cx="394.68" cy="302.30" r="1.9" fill="#c8c6cc" />
<circle cx="396.64" cy="302.78" r="1.9" fill="#c8c6cc" />
<circle cx="398.84" cy="301.91" r="1.9" fill="#c8c6cc" />
<circle cx="400.37" cy="302.68" r="1.9" fill="#c8c6cc" />
<circle cx="402.23" cy="302.60" r="1.9" fill="#c8c6cc" />
<circle cx="403.78" cy="302.36" r="1.9" fill="#c8c6cc" />
<circle cx="405.67" cy="302.68" r="1.9" fill="#c8c6cc" />
<circle cx="406.71" cy="302.62" r="1.9" fill="#c8c6cc" />
<circle cx="408.67" cy="302.14" r="1.9" fill="#c8c6cc" />
<circle cx="410.25" cy="302.39" r="1.9" fill="#c8c6cc" />
<circle cx="412.33" cy="302.50" r="1.9" fill="#c8c6cc" />
<circle cx="413.47" cy="302.08" r="1.9" fill="#c8c6cc" />
<circle cx="415.40" cy="302.34" r="1.9" fill="#c8c6cc" />
<circle cx="417.65" cy="302.10" r="1.9" fill="#c8c6cc" />
<circle cx="418.89" cy="301.85" r="1.9" fill="#c8c6cc" />
<circle cx="420.11" cy="302.43" r="1.9" fill="#c8c6cc" />
<circle cx="422.15" cy="302.83" r="1.9" fill="#c8c6cc" />
<circle cx="423.49" cy="301.95" r="1.9" fill="#c8c6cc" />
<circle cx="425.91" cy="302.58" r="1.9" fill="#c8c6cc" />
<circle cx="427.75" cy="302.00" r="1.9" fill="#c8c6cc" />
<circle cx="396.26" cy="303.92" r="1.9" fill="#c8c6cc" />
<circle cx="397.64" cy="303.50" r="1.9" fill="#c8c6cc" />
<circle cx="399.71" cy="303.30" r="1.9" fill="#c8c6cc" />
<circle cx="400.77" cy="303.54" r="1.9" fill="#c8c6cc" />
<circle cx="402.81" cy="303.42" r="1.9" fill="#c8c6cc" />
<circle cx="404.74" cy="303.35" r="1.9" fill="#c8c6cc" />
<circle cx="406.16" cy="304.17" r="1.9" fill="#c8c6cc" />
<circle cx="407.77" cy="303.69" r="1.9" fill="#c8c6cc" />
<circle cx="409.87" cy="303.88" r="1.9" fill="#c8c6cc" />
<circle cx="411.13" cy="304.17" r="1.9" fill="#c8c6cc" />
<circle cx="412.87" cy="303.59" r="1.9" fill="#c8c6cc" />
<circle cx="415.04" cy="303.92" r="1.9" fill="#c8c6cc" />
<circle cx="416.28" cy="303.71" r="1.9" fill="#c8c6cc" />
<circle cx="417.75" cy="304.19" r="1.9" fill="#c8c6cc" />
<circle cx="419.99" cy="303.54" r="1.9" fill="#c8c6cc" />
<circle cx="421.41" cy="303.83" r="1.9" fill="#c8c6cc" />
<circle cx="423.50" cy="303.85" r="1.9" fill="#c8c6cc" />
<circle cx="424.63" cy="303.74" r="1.9" fill="#c8c6cc" />
<circle cx="426.41" cy="303.55" r="1.9" fill="#c8c6cc" />
<circle cx="394.14" cy="304.42" r="1.9" fill="#c8c6cc" />
<circle cx="395.91" cy="305.28" r="1.9" fill="#c8c6cc" />
<circle cx="398.06" cy="305.03" r="1.9" fill="#c8c6cc" />
<circle cx="399.08" cy="304.79" r="1.9" fill="#c8c6cc" />
<circle cx="401.43" cy="304.99" r="1.9" fill="#c8c6cc" />
<circle cx="402.80" cy="305.24" r="1.9" fill="#c8c6cc" />
<circle cx="404.68" cy="305.38" r="1.9" fill="#c8c6cc" />
<circle cx="406.10" cy="305.30" r="1.9" fill="#c8c6cc" />
<circle cx="408.41" cy="305.21" r="1.9" fill="#c8c6cc" />
<circle cx="410.17" cy="305.14" r="1.9" fill="#c8c6cc" />
<circle cx="411.91" cy="305.31" r="1.9" fill="#c8c6cc" />
<circle cx="413.42" cy="305.33" r="1.9" fill="#c8c6cc" />
<circle cx="415.00" cy="304.99" r="1.9" fill="#c8c6cc" />
<circle cx="416.05" cy="305.45" r="1.9" fill="#c8c6cc" />
<circle cx="418.48" cy="305.70" r="1.9" fill="#c8c6cc" />
<circle cx="419.55" cy="305.05" r="1.9" fill="#c8c6cc" />
<circle cx="421.25" cy="305.61" r="1.9" fill="#c8c6cc" />
<circle cx="422.99" cy="304.94" r="1.9" fill="#c8c6cc" />
<circle cx="425.19" cy="304.76" r="1.9" fill="#c8c6cc" />
<circle cx="397.42" cy="306.19" r="1.9" fill="#c8c6cc" />
<circle cx="399.61" cy="306.89" r="1.9" fill="#c8c6cc" />
<circle cx="401.37" cy="306.44" r="1.9" fill="#c8c6cc" />
<circle cx="402.89" cy="306.73" r="1.9" fill="#c8c6cc" />
<circle cx="404.07" cy="306.91" r="1.9" fill="#c8c6cc" />
<circle cx="405.90" cy="307.11" r="1.9" fill="#c8c6cc" />
<circle cx="407.38" cy="306.83" r="1.9" fill="#c8c6cc" />
<circle cx="409.72" cy="306.54" r="1.9" fill="#c8c6cc" />
<circle cx="411.45" cy="306.35" r="1.9" fill="#c8c6cc" />
<circle cx="412.77" cy="306.30" r="1.9" fill="#c8c6cc" />
<circle cx="414.37" cy="306.79" r="1.9" fill="#c8c6cc" />
<circle cx="416.68" cy="307.16" r="1.9" fill="#c8c6cc" />
<circle cx="417.56" cy="306.84" r="1.9" fill="#c8c6cc" />
<circle cx="419.60" cy="306.39" r="1.9" fill="#c8c6cc" />
<circle cx="421.67" cy="306.78" r="1.9" fill="#c8c6cc" />
<circle cx="423.27" cy="306.58" r="1.9" fill="#c8c6cc" />
<circle cx="424.53" cy="306.83" r="1.9" fill="#c8c6cc" />
<circle cx="397.35" cy="307.83" r="1.9" fill="#c8c6cc" />
<circle cx="399.44" cy="308.00" r="1.9" fill="#c8c6cc" />
<circle cx="400.75" cy="308.61" r="1.9" fill="#c8c6cc" />
<circle cx="403.24" cy="307.98" r="1.9" fill="#c8c6cc" />
<circle cx="404.72" cy="307.98" r="1.9" fill="#c8c6cc" />
<circle cx="405.94" cy="308.30" r="1.9" fill="#c8c6cc" />
<circle cx="408.51" cy="307.87" r="1.9" fill="#c8c6cc" />
<circle cx="409.55" cy="308.14" r="1.9" fill="#c8c6cc" />
<circle cx="411.32" cy="308.53" r="1.9" fill="#c8c6cc" />
<circle cx="413.04" cy="308.53" r="1.9" fill="#c8c6cc" />
<circle cx="415.12" cy="308.15" r="1.9" fill="#c8c6cc" />
<circle cx="416.73" cy="308.27" r="1.9" fill="#c8c6cc" />
<circle cx="418.71" cy="307.71" r="1.9" fill="#c8c6cc" />
<circle cx="420.13" cy="308.33" r="1.9" fill="#c8c6cc" />
<circle cx="421.86" cy="307.66" r="1.9" fill="#c8c6cc" />
<circle cx="423.68" cy="308.03" r="1.9" fill="#c8c6cc" />
<circle cx="425.21" cy="308.12" r="1.9" fill="#c8c6cc" />
<circle cx="397.19" cy="310.07" r="1.9" fill="#c8c6cc" />
<circle cx="426.55" cy="310.23" r="1.9" fill="#c8c6cc" />
<circle cx="399.34" cy="309.42" r="1.9" fill="#c8c6cc" />
<circle cx="400.87" cy="309.64" r="1.9" fill="#c8c6cc" />
<circle cx="402.03" cy="309.49" r="1.9" fill="#c8c6cc" />
<circle cx="404.57" cy="309.78" r="1.9" fill="#c8c6cc" />
<circle cx="405.96" cy="309.98" r="1.9" fill="#c8c6cc" />
<circle cx="407.12" cy="309.91" r="1.9" fill="#c8c6cc" />
<circle cx="409.19" cy="309.47" r="1.9" fill="#c8c6cc" />
<circle cx="411.00" cy="309.29" r="1.9" fill="#c8c6cc" />
<circle cx="412.54" cy="309.62" r="1.9" fill="#c8c6cc" />
<circle cx="414.35" cy="309.13" r="1.9" fill="#c8c6cc" />
<circle cx="416.30" cy="309.35" r="1.9" fill="#c8c6cc" />
<circle cx="417.35" cy="310.00" r="1.9" fill="#c8c6cc" />
<circle cx="419.28" cy="309.39" r="1.9" fill="#c8c6cc" />
<circle cx="421.45" cy="309.97" r="1.9" fill="#c8c6cc" />
<circle cx="423.13" cy="309.74" r="1.9" fill="#c8c6cc" />
<circle cx="424.91" cy="309.23" r="1.9" fill="#c8c6cc" />
<circle cx="397.41" cy="310.52" r="1.9" fill="#c8c6cc" />
<circle cx="399.56" cy="310.95" r="1.9" fill="#c8c6cc" />
<circle cx="400.87" cy="310.82" r="1.9" fill="#c8c6cc" />
<circle cx="403.06" cy="311.45" r="1.9" fill="#c8c6cc" />
<circle cx="404.20" cy="310.88" r="1.9" fill="#c8c6cc" />
<circle cx="405.90" cy="311.26" r="1.9" fill="#c8c6cc" />
<circle cx="407.93" cy="310.64" r="1.9" fill="#c8c6cc" />
<circle cx="409.38" cy="310.97" r="1.9" fill="#c8c6cc" />
<circle cx="411.53" cy="310.94" r="1.9" fill="#c8c6cc" />
<circle cx="412.75" cy="310.70" r="1.9" fill="#c8c6cc" />
<circle cx="414.96" cy="311.23" r="1.9" fill="#c8c6cc" />
<circle cx="416.62" cy="310.84" r="1.9" fill="#c8c6cc" />
<circle cx="418.33" cy="311.31" r="1.9" fill="#c8c6cc" />
<circle cx="420.21" cy="310.98" r="1.9" fill="#c8c6cc" />
<circle cx="421.44" cy="311.46" r="1.9" fill="#c8c6cc" />
<circle cx="423.21" cy="311.07" r="1.9" fill="#c8c6cc" />
<circle cx="426.55" cy="312.51" r="1.9" fill="#c8c6cc" />
<circle cx="399.21" cy="312.86" r="1.9" fill="#c8c6cc" />
<circle cx="401.52" cy="312.53" r="1.9" fill="#c8c6cc" />
<circle cx="402.81" cy="312.28" r="1.9" fill="#c8c6cc" />
<circle cx="404.57" cy="312.32" r="1.9" fill="#c8c6cc" />
<circle cx="405.96" cy="312.09" r="1.9" fill="#c8c6cc" />
<circle cx="408.15" cy="312.19" r="1.9" fill="#c8c6cc" />
<circle cx="409.65" cy="312.44" r="1.9" fill="#c8c6cc" />
<circle cx="411.74" cy="312.89" r="1.9" fill="#c8c6cc" />
<circle cx="413.65" cy="312.77" r="1.9" fill="#c8c6cc" />
<circle cx="414.91" cy="312.65" r="1.9" fill="#c8c6cc" />
<circle cx="416.17" cy="312.41" r="1.9" fill="#c8c6cc" />
<circle cx="418.47" cy="311.99" r="1.9" fill="#c8c6cc" />
<circle cx="419.54" cy="312.47" r="1.9" fill="#c8c6cc" />
<circle cx="421.49" cy="312.19" r="1.9" fill="#c8c6cc" />
<circle cx="423.60" cy="312.84" r="1.9" fill="#c8c6cc" />
<circle cx="398.95" cy="313.16" r="1.9" fill="#c8c6cc" />
<circle cx="423.79" cy="313.20" r="1.9" fill="#c8c6cc" />
<circle cx="399.94" cy="313.88" r="1.9" fill="#c8c6cc" />
<circle cx="401.46" cy="313.90" r="1.9" fill="#c8c6cc" />
<circle cx="403.47" cy="314.33" r="1.9" fill="#c8c6cc" />
<circle cx="404.98" cy="314.03" r="1.9" fill="#c8c6cc" />
<circle cx="406.88" cy="314.04" r="1.9" fill="#c8c6cc" />
<circle cx="408.97" cy="314.38" r="1.9" fill="#c8c6cc" />
<circle cx="410.59" cy="314.08" r="1.9" fill="#c8c6cc" />
<circle cx="411.68" cy="313.60" r="1.9" fill="#c8c6cc" />
<circle cx="413.62" cy="313.42" r="1.9" fill="#c8c6cc" />
<circle cx="415.02" cy="313.67" r="1.9" fill="#c8c6cc" />
<circle cx="416.77" cy="314.23" r="1.9" fill="#c8c6cc" />
<circle cx="419.08" cy="313.78" r="1.9" fill="#c8c6cc" />
<circle cx="420.67" cy="314.12" r="1.9" fill="#c8c6cc" />
<circle cx="422.35" cy="313.57" r="1.9" fill="#c8c6cc" />
<circle cx="398.52" cy="314.57" r="1.9" fill="#c8c6cc" />
<circle cx="400.00" cy="315.82" r="1.9" fill="#c8c6cc" />
<circle cx="401.84" cy="314.88" r="1.9" fill="#c8c6cc" />
<circle cx="403.14" cy="315.46" r="1.9" fill="#c8c6cc" />
<circle cx="404.91" cy="314.99" r="1.9" fill="#c8c6cc" />
<circle cx="407.09" cy="315.14" r="1.9" fill="#c8c6cc" />
<circle cx="408.41" cy="315.39" r="1.9" fill="#c8c6cc" />
<circle cx="409.97" cy="315.00" r="1.9" fill="#c8c6cc" />
<circle cx="411.82" cy="315.51" r="1.9" fill="#c8c6cc" />
<circle cx="413.34" cy="314.91" r="1.9" fill="#c8c6cc" />
<circle cx="415.47" cy="314.86" r="1.9" fill="#c8c6cc" />
<circle cx="417.27" cy="315.06" r="1.9" fill="#c8c6cc" />
<circle cx="418.34" cy="315.37" r="1.9" fill="#c8c6cc" />
<circle cx="420.23" cy="315.83" r="1.9" fill="#c8c6cc" />
<circle cx="421.87" cy="315.60" r="1.9" fill="#c8c6cc" />
<circle cx="399.96" cy="317.12" r="1.9" fill="#c8c6cc" />
<circle cx="401.86" cy="317.22" r="1.9" fill="#c8c6cc" />
<circle cx="403.40" cy="317.18" r="1.9" fill="#c8c6cc" />
<circle cx="405.32" cy="316.50" r="1.9" fill="#c8c6cc" />
<circle cx="407.19" cy="316.34" r="1.9" fill="#c8c6cc" />
<circle cx="408.60" cy="316.97" r="1.9" fill="#c8c6cc" />
<circle cx="411.01" cy="316.85" r="1.9" fill="#c8c6cc" />
<circle cx="412.55" cy="316.85" r="1.9" fill="#c8c6cc" />
<circle cx="413.67" cy="317.09" r="1.9" fill="#c8c6cc" />
<circle cx="415.66" cy="317.28" r="1.9" fill="#c8c6cc" />
<circle cx="417.63" cy="316.45" r="1.9" fill="#c8c6cc" />
<circle cx="419.22" cy="316.55" r="1.9" fill="#c8c6cc" />
<circle cx="421.28" cy="316.94" r="1.9" fill="#c8c6cc" />
<circle cx="402.62" cy="318.39" r="1.9" fill="#c8c6cc" />
<circle cx="403.80" cy="317.92" r="1.9" fill="#c8c6cc" />
<circle cx="406.09" cy="318.59" r="1.9" fill="#c8c6cc" />
<circle cx="407.32" cy="318.15" r="1.9" fill="#c8c6cc" />
<circle cx="409.11" cy="318.22" r="1.9" fill="#c8c6cc" />
<circle cx="410.66" cy="317.91" r="1.9" fill="#c8c6cc" />
<circle cx="412.78" cy="317.91" r="1.9" fill="#c8c6cc" />
<circle cx="414.52" cy="318.70" r="1.9" fill="#c8c6cc" />
<circle cx="416.28" cy="317.82" r="1.9" fill="#c8c6cc" />
<circle cx="417.63" cy="318.01" r="1.9" fill="#c8c6cc" />
<circle cx="419.75" cy="318.39" r="1.9" fill="#c8c6cc" />
<circle cx="402.19" cy="320.12" r="1.9" fill="#c8c6cc" />
<circle cx="404.16" cy="319.29" r="1.9" fill="#c8c6cc" />
<circle cx="405.37" cy="319.39" r="1.9" fill="#c8c6cc" />
<circle cx="407.16" cy="319.39" r="1.9" fill="#c8c6cc" />
<circle cx="409.71" cy="319.34" r="1.9" fill="#c8c6cc" />
<circle cx="410.98" cy="319.23" r="1.9" fill="#c8c6cc" />
<circle cx="412.22" cy="319.50" r="1.9" fill="#c8c6cc" />
<circle cx="414.84" cy="319.62" r="1.9" fill="#c8c6cc" />
<circle cx="415.88" cy="319.48" r="1.9" fill="#c8c6cc" />
<circle cx="417.56" cy="319.87" r="1.9" fill="#c8c6cc" />
<circle cx="419.18" cy="319.22" r="1.9" fill="#c8c6cc" />
<circle cx="404.34" cy="320.69" r="1.9" fill="#c8c6cc" />
<circle cx="406.25" cy="320.64" r="1.9" fill="#c8c6cc" />
<circle cx="408.03" cy="321.10" r="1.9" fill="#c8c6cc" />
<circle cx="409.88" cy="320.84" r="1.9" fill="#c8c6cc" />
<circle cx="411.28" cy="321.61" r="1.9" fill="#c8c6cc" />
<circle cx="412.31" cy="320.65" r="1.9" fill="#c8c6cc" />
<circle cx="414.66" cy="321.58" r="1.9" fill="#c8c6cc" />
<circle cx="416.36" cy="321.30" r="1.9" fill="#c8c6cc" />
<circle cx="418.29" cy="320.94" r="1.9" fill="#c8c6cc" />
<circle cx="404.81" cy="322.22" r="1.9" fill="#c8c6cc" />
<circle cx="406.66" cy="322.72" r="1.9" fill="#c8c6cc" />
<circle cx="408.56" cy="322.90" r="1.9" fill="#c8c6cc" />
<circle cx="409.64" cy="322.08" r="1.9" fill="#c8c6cc" />
<circle cx="411.05" cy="322.11" r="1.9" fill="#c8c6cc" />
<circle cx="413.68" cy="322.52" r="1.9" fill="#c8c6cc" />
<circle cx="414.40" cy="322.23" r="1.9" fill="#c8c6cc" />
<circle cx="416.43" cy="322.34" r="1.9" fill="#c8c6cc" />
<circle cx="418.78" cy="323.05" r="1.9" fill="#c8c6cc" />
<circle cx="378.30" cy="276.00" r="1.9" fill="#c8c6cc" />
<circle cx="379.20" cy="284.00" r="1.9" fill="#c8c6cc" />
<circle cx="373.80" cy="289.60" r="1.9" fill="#c8c6cc" />
<circle cx="380.80" cy="290.80" r="1.9" fill="#c8c6cc" />
<circle cx="442.70" cy="278.00" r="1.9" fill="#c8c6cc" />
<circle cx="447.50" cy="281.90" r="1.9" fill="#c8c6cc" />
<circle cx="440.80" cy="292.50" r="1.9" fill="#c8c6cc" />
<circle cx="436.90" cy="296.30" r="1.9" fill="#c8c6cc" />
<circle cx="432.10" cy="302.10" r="1.9" fill="#c8c6cc" />
<circle cx="403.80" cy="229.90" r="1.9" fill="#c8c6cc" />
<circle cx="403.20" cy="244.90" r="1.9" fill="#c8c6cc" />
<circle cx="414.60" cy="244.90" r="1.9" fill="#c8c6cc" />
<circle cx="410.40" cy="250.50" r="1.9" fill="#c8c6cc" />
<circle cx="415.60" cy="248.00" r="1.9" fill="#c8c6cc" />
<circle cx="418.70" cy="242.30" r="1.9" fill="#c8c6cc" />
<circle cx="405.40" cy="237.00" r="1.9" fill="#c8c6cc" />
<circle cx="383.00" cy="286.00" r="1.9" fill="#c8c6cc" />
<circle cx="385.00" cy="296.00" r="1.9" fill="#c8c6cc" />
<circle cx="405.90" cy="253.69" r="1.9" fill="#c8c6cc" />
<circle cx="414.04" cy="254.63" r="1.9" fill="#c8c6cc" />
<circle cx="419.51" cy="254.55" r="1.9" fill="#c8c6cc" />
<circle cx="406.57" cy="255.56" r="1.9" fill="#c8c6cc" />
<circle cx="410.75" cy="256.24" r="1.9" fill="#c8c6cc" />
<circle cx="415.91" cy="255.38" r="1.9" fill="#c8c6cc" />
<circle cx="418.07" cy="255.43" r="1.9" fill="#c8c6cc" />
<circle cx="408.31" cy="258.66" r="1.9" fill="#c8c6cc" />
<circle cx="411.48" cy="257.83" r="1.9" fill="#c8c6cc" />
<circle cx="413.66" cy="258.46" r="1.9" fill="#c8c6cc" />
<circle cx="415.67" cy="258.83" r="1.9" fill="#c8c6cc" />
<circle cx="417.81" cy="258.30" r="1.9" fill="#c8c6cc" />
<circle cx="403.84" cy="259.28" r="1.9" fill="#c8c6cc" />
<circle cx="408.57" cy="260.52" r="1.9" fill="#c8c6cc" />
<circle cx="409.64" cy="259.54" r="1.9" fill="#c8c6cc" />
<circle cx="413.34" cy="260.50" r="1.9" fill="#c8c6cc" />
<circle cx="414.09" cy="260.10" r="1.9" fill="#c8c6cc" />
<circle cx="417.26" cy="260.55" r="1.9" fill="#c8c6cc" />
<circle cx="402.65" cy="261.46" r="1.9" fill="#c8c6cc" />
<circle cx="405.44" cy="261.57" r="1.9" fill="#c8c6cc" />
<circle cx="407.05" cy="261.27" r="1.9" fill="#c8c6cc" />
<circle cx="412.20" cy="261.37" r="1.9" fill="#c8c6cc" />
<circle cx="417.33" cy="261.23" r="1.9" fill="#c8c6cc" />
<circle cx="419.15" cy="261.89" r="1.9" fill="#c8c6cc" />
<circle cx="403.39" cy="263.89" r="1.9" fill="#c8c6cc" />
<circle cx="405.43" cy="263.32" r="1.9" fill="#c8c6cc" />
<circle cx="407.64" cy="264.15" r="1.9" fill="#c8c6cc" />
<circle cx="415.43" cy="263.91" r="1.9" fill="#c8c6cc" />
<circle cx="418.04" cy="263.54" r="1.9" fill="#c8c6cc" />
<circle cx="419.13" cy="263.50" r="1.9" fill="#c8c6cc" />
<circle cx="403.78" cy="265.88" r="1.9" fill="#c8c6cc" />
<circle cx="406.34" cy="265.11" r="1.9" fill="#c8c6cc" />
<circle cx="408.00" cy="265.84" r="1.9" fill="#c8c6cc" />
<circle cx="402.74" cy="268.33" r="1.9" fill="#c8c6cc" />
<circle cx="410.88" cy="268.14" r="1.9" fill="#c8c6cc" />
<circle cx="415.43" cy="267.78" r="1.9" fill="#c8c6cc" />
<circle cx="405.44" cy="269.49" r="1.9" fill="#c8c6cc" />
<circle cx="419.42" cy="270.09" r="1.9" fill="#c8c6cc" />
<line x1="373.80" y1="217.50" x2="384.20" y2="222.70" stroke="#333" stroke-width="0.8" />
<line x1="436.50" y1="214.40" x2="433.90" y2="225.70" stroke="#333" stroke-width="0.8" />
<line x1="437.30" y1="200.50" x2="439.00" y2="197.50" stroke="#333" stroke-width="0.8" />
<text transform="translate(352.70,163.29) scale(0.955,1)" font-size="7.81" text-anchor="start" fill="#bf1e3c" font-weight="normal"  stroke="#bf1e3c" stroke-width="0.14">JAK1</text>
<text transform="translate(370.40,176.29) scale(0.955,1)" font-size="7.81" text-anchor="start" fill="#bf1e3c" font-weight="normal"  stroke="#bf1e3c" stroke-width="0.14">IL7R</text>
<text transform="translate(431.00,197.39) scale(0.955,1)" font-size="7.81" text-anchor="start" fill="#231f20" font-weight="normal"  stroke="#231f20" stroke-width="0.14">RNF144B</text>
<text transform="translate(366.90,208.29) scale(0.955,1)" font-size="7.81" text-anchor="start" fill="#231f20" font-weight="normal"  stroke="#231f20" stroke-width="0.14">RBX1</text>
<text transform="translate(395.00,208.99) scale(0.955,1)" font-size="7.81" text-anchor="start" fill="#231f20" font-weight="normal"  stroke="#231f20" stroke-width="0.14">NOTCH1</text>
<text transform="translate(438.80,215.89) scale(0.955,1)" font-size="7.81" text-anchor="start" fill="#231f20" font-weight="normal"  stroke="#231f20" stroke-width="0.14">FBXL17</text>
<text transform="translate(347.80,219.39) scale(0.955,1)" font-size="7.81" text-anchor="start" fill="#231f20" font-weight="normal"  stroke="#231f20" stroke-width="0.14">HSPA8</text>
<text transform="translate(380.60,228.39) scale(0.955,1)" font-size="7.81" text-anchor="start" fill="#231f20" font-weight="normal"  stroke="#231f20" stroke-width="0.14">BCL2L2−PABPN1</text>
<text transform="translate(367.60,239.59) scale(0.955,1)" font-size="7.81" text-anchor="start" fill="#231f20" font-weight="normal"  stroke="#231f20" stroke-width="0.14">ARID1A</text>
<text transform="translate(402.80,239.89) scale(0.955,1)" font-size="7.81" text-anchor="start" fill="#231f20" font-weight="normal"  stroke="#231f20" stroke-width="0.14">EXTL3</text>
<text transform="translate(436.20,238.99) scale(0.955,1)" font-size="7.81" text-anchor="start" fill="#231f20" font-weight="normal"  stroke="#231f20" stroke-width="0.14">EXT1</text>
<text transform="translate(420.60,253.69) scale(0.955,1)" font-size="7.81" text-anchor="start" fill="#231f20" font-weight="normal"  stroke="#231f20" stroke-width="0.14">HECTD3</text>
<text transform="translate(466.80,262.69) scale(0.955,1)" font-size="7.81" text-anchor="start" fill="#bf1e3c" font-weight="normal"  stroke="#bf1e3c" stroke-width="0.14">PIK3R1</text>
<circle cx="390.43" cy="249.96" r="1.9" fill="#0e4c8c" />
<circle cx="391.70" cy="249.36" r="1.9" fill="#0e4c8c" />
<circle cx="394.10" cy="249.49" r="1.9" fill="#0e4c8c" />
<circle cx="395.74" cy="249.18" r="1.9" fill="#0e4c8c" />
<circle cx="397.61" cy="249.64" r="1.9" fill="#0e4c8c" />
<circle cx="399.17" cy="249.44" r="1.9" fill="#0e4c8c" />
<circle cx="388.17" cy="251.52" r="1.9" fill="#0e4c8c" />
<circle cx="390.84" cy="251.27" r="1.9" fill="#0e4c8c" />
<circle cx="391.74" cy="251.10" r="1.9" fill="#0e4c8c" />
<circle cx="393.80" cy="251.12" r="1.9" fill="#0e4c8c" />
<circle cx="395.11" cy="250.82" r="1.9" fill="#0e4c8c" />
<circle cx="397.13" cy="251.53" r="1.9" fill="#0e4c8c" />
<circle cx="398.59" cy="251.33" r="1.9" fill="#0e4c8c" />
<circle cx="390.53" cy="252.58" r="1.9" fill="#0e4c8c" />
<circle cx="392.37" cy="252.84" r="1.9" fill="#0e4c8c" />
<circle cx="394.40" cy="252.69" r="1.9" fill="#0e4c8c" />
<circle cx="396.46" cy="253.00" r="1.9" fill="#0e4c8c" />
<circle cx="397.98" cy="252.05" r="1.9" fill="#0e4c8c" />
<circle cx="386.98" cy="253.44" r="1.9" fill="#0e4c8c" />
<circle cx="388.28" cy="254.02" r="1.9" fill="#0e4c8c" />
<circle cx="390.07" cy="253.55" r="1.9" fill="#0e4c8c" />
<circle cx="391.39" cy="253.95" r="1.9" fill="#0e4c8c" />
<circle cx="393.08" cy="253.80" r="1.9" fill="#0e4c8c" />
<circle cx="395.24" cy="253.78" r="1.9" fill="#0e4c8c" />
<circle cx="396.78" cy="254.40" r="1.9" fill="#0e4c8c" />
<circle cx="398.87" cy="254.03" r="1.9" fill="#0e4c8c" />
<circle cx="400.63" cy="255.72" r="1.9" fill="#0e4c8c" />
<circle cx="389.16" cy="255.90" r="1.9" fill="#0e4c8c" />
<circle cx="391.01" cy="255.48" r="1.9" fill="#0e4c8c" />
<circle cx="393.02" cy="255.30" r="1.9" fill="#0e4c8c" />
<circle cx="394.16" cy="255.33" r="1.9" fill="#0e4c8c" />
<circle cx="395.87" cy="254.99" r="1.9" fill="#0e4c8c" />
<circle cx="397.66" cy="255.21" r="1.9" fill="#0e4c8c" />
<circle cx="387.62" cy="257.13" r="1.9" fill="#0e4c8c" />
<circle cx="388.56" cy="257.07" r="1.9" fill="#0e4c8c" />
<circle cx="390.91" cy="256.41" r="1.9" fill="#0e4c8c" />
<circle cx="391.80" cy="257.03" r="1.9" fill="#0e4c8c" />
<circle cx="394.18" cy="257.03" r="1.9" fill="#0e4c8c" />
<circle cx="395.93" cy="256.91" r="1.9" fill="#0e4c8c" />
<circle cx="397.05" cy="256.84" r="1.9" fill="#0e4c8c" />
<circle cx="398.67" cy="256.93" r="1.9" fill="#0e4c8c" />
<circle cx="388.07" cy="258.45" r="1.9" fill="#0e4c8c" />
<circle cx="389.28" cy="258.25" r="1.9" fill="#0e4c8c" />
<circle cx="390.84" cy="258.61" r="1.9" fill="#0e4c8c" />
<circle cx="392.64" cy="258.33" r="1.9" fill="#0e4c8c" />
<circle cx="394.74" cy="258.63" r="1.9" fill="#0e4c8c" />
<circle cx="395.85" cy="257.81" r="1.9" fill="#0e4c8c" />
<circle cx="397.39" cy="258.32" r="1.9" fill="#0e4c8c" />
<circle cx="385.09" cy="259.74" r="1.9" fill="#0e4c8c" />
<circle cx="386.56" cy="259.83" r="1.9" fill="#0e4c8c" />
<circle cx="388.28" cy="259.55" r="1.9" fill="#0e4c8c" />
<circle cx="390.81" cy="259.47" r="1.9" fill="#0e4c8c" />
<circle cx="392.50" cy="259.84" r="1.9" fill="#0e4c8c" />
<circle cx="394.23" cy="259.91" r="1.9" fill="#0e4c8c" />
<circle cx="395.91" cy="260.15" r="1.9" fill="#0e4c8c" />
<circle cx="397.60" cy="259.90" r="1.9" fill="#0e4c8c" />
<circle cx="398.81" cy="259.56" r="1.9" fill="#0e4c8c" />
<circle cx="383.77" cy="260.86" r="1.9" fill="#0e4c8c" />
<circle cx="401.80" cy="260.46" r="1.9" fill="#0e4c8c" />
<circle cx="386.49" cy="260.82" r="1.9" fill="#0e4c8c" />
<circle cx="388.44" cy="260.76" r="1.9" fill="#0e4c8c" />
<circle cx="390.09" cy="261.52" r="1.9" fill="#0e4c8c" />
<circle cx="391.31" cy="261.01" r="1.9" fill="#0e4c8c" />
<circle cx="393.66" cy="261.65" r="1.9" fill="#0e4c8c" />
<circle cx="395.21" cy="261.68" r="1.9" fill="#0e4c8c" />
<circle cx="396.69" cy="260.98" r="1.9" fill="#0e4c8c" />
<circle cx="398.07" cy="260.89" r="1.9" fill="#0e4c8c" />
<circle cx="384.31" cy="262.12" r="1.9" fill="#0e4c8c" />
<circle cx="386.54" cy="262.22" r="1.9" fill="#0e4c8c" />
<circle cx="387.67" cy="262.84" r="1.9" fill="#0e4c8c" />
<circle cx="389.82" cy="262.18" r="1.9" fill="#0e4c8c" />
<circle cx="391.31" cy="263.05" r="1.9" fill="#0e4c8c" />
<circle cx="392.96" cy="263.01" r="1.9" fill="#0e4c8c" />
<circle cx="394.86" cy="262.63" r="1.9" fill="#0e4c8c" />
<circle cx="396.23" cy="262.64" r="1.9" fill="#0e4c8c" />
<circle cx="397.78" cy="262.43" r="1.9" fill="#0e4c8c" />
<circle cx="385.66" cy="264.30" r="1.9" fill="#0e4c8c" />
<circle cx="387.33" cy="264.28" r="1.9" fill="#0e4c8c" />
<circle cx="388.55" cy="264.42" r="1.9" fill="#0e4c8c" />
<circle cx="390.21" cy="264.33" r="1.9" fill="#0e4c8c" />
<circle cx="392.82" cy="264.01" r="1.9" fill="#0e4c8c" />
<circle cx="394.47" cy="264.52" r="1.9" fill="#0e4c8c" />
<circle cx="395.71" cy="264.02" r="1.9" fill="#0e4c8c" />
<circle cx="397.87" cy="264.05" r="1.9" fill="#0e4c8c" />
<circle cx="386.47" cy="266.02" r="1.9" fill="#0e4c8c" />
<circle cx="388.14" cy="265.24" r="1.9" fill="#0e4c8c" />
<circle cx="390.29" cy="265.34" r="1.9" fill="#0e4c8c" />
<circle cx="391.99" cy="265.78" r="1.9" fill="#0e4c8c" />
<circle cx="393.73" cy="265.63" r="1.9" fill="#0e4c8c" />
<circle cx="395.51" cy="265.91" r="1.9" fill="#0e4c8c" />
<circle cx="396.80" cy="266.02" r="1.9" fill="#0e4c8c" />
<circle cx="398.93" cy="265.88" r="1.9" fill="#0e4c8c" />
<circle cx="386.09" cy="267.40" r="1.9" fill="#0e4c8c" />
<circle cx="387.07" cy="266.65" r="1.9" fill="#0e4c8c" />
<circle cx="388.85" cy="266.83" r="1.9" fill="#0e4c8c" />
<circle cx="391.21" cy="266.88" r="1.9" fill="#0e4c8c" />
<circle cx="392.77" cy="267.48" r="1.9" fill="#0e4c8c" />
<circle cx="394.12" cy="266.72" r="1.9" fill="#0e4c8c" />
<circle cx="396.09" cy="267.20" r="1.9" fill="#0e4c8c" />
<circle cx="397.92" cy="267.08" r="1.9" fill="#0e4c8c" />
<circle cx="399.40" cy="266.89" r="1.9" fill="#0e4c8c" />
<circle cx="386.00" cy="268.09" r="1.9" fill="#0e4c8c" />
<circle cx="387.47" cy="268.89" r="1.9" fill="#0e4c8c" />
<circle cx="388.84" cy="267.98" r="1.9" fill="#0e4c8c" />
<circle cx="391.13" cy="268.42" r="1.9" fill="#0e4c8c" />
<circle cx="392.48" cy="268.52" r="1.9" fill="#0e4c8c" />
<circle cx="394.06" cy="268.66" r="1.9" fill="#0e4c8c" />
<circle cx="395.67" cy="268.57" r="1.9" fill="#0e4c8c" />
<circle cx="398.19" cy="268.81" r="1.9" fill="#0e4c8c" />
<circle cx="398.96" cy="268.08" r="1.9" fill="#0e4c8c" />
<circle cx="401.93" cy="269.01" r="1.9" fill="#0e4c8c" />
<circle cx="387.49" cy="269.86" r="1.9" fill="#0e4c8c" />
<circle cx="390.08" cy="270.17" r="1.9" fill="#0e4c8c" />
<circle cx="391.10" cy="270.01" r="1.9" fill="#0e4c8c" />
<circle cx="392.99" cy="269.97" r="1.9" fill="#0e4c8c" />
<circle cx="394.58" cy="270.13" r="1.9" fill="#0e4c8c" />
<circle cx="396.87" cy="270.30" r="1.9" fill="#0e4c8c" />
<circle cx="397.71" cy="269.87" r="1.9" fill="#0e4c8c" />
<circle cx="432.08" cy="244.88" r="1.9" fill="#ca0220" />
<circle cx="426.04" cy="244.24" r="1.9" fill="#ca0220" />
<circle cx="427.79" cy="244.28" r="1.9" fill="#ca0220" />
<circle cx="430.00" cy="244.00" r="1.9" fill="#ca0220" />
<circle cx="426.67" cy="245.11" r="1.9" fill="#ca0220" />
<circle cx="427.51" cy="245.58" r="1.9" fill="#ca0220" />
<circle cx="429.18" cy="245.66" r="1.9" fill="#ca0220" />
<circle cx="426.94" cy="247.47" r="1.9" fill="#ca0220" />
<circle cx="428.93" cy="247.34" r="1.9" fill="#ca0220" />
<circle cx="430.84" cy="246.93" r="1.9" fill="#ca0220" />
<circle cx="424.69" cy="247.64" r="1.9" fill="#ca0220" />
<circle cx="427.35" cy="248.89" r="1.9" fill="#ca0220" />
<circle cx="428.89" cy="248.42" r="1.9" fill="#ca0220" />
<circle cx="428.99" cy="249.47" r="1.9" fill="#ca0220" />
<circle cx="430.04" cy="249.44" r="1.9" fill="#ca0220" />
<circle cx="432.39" cy="250.39" r="1.9" fill="#ca0220" />
<circle cx="434.47" cy="250.77" r="1.9" fill="#ca0220" />
<circle cx="427.60" cy="251.07" r="1.9" fill="#ca0220" />
<circle cx="428.59" cy="251.19" r="1.9" fill="#ca0220" />
<circle cx="430.40" cy="250.96" r="1.9" fill="#ca0220" />
<circle cx="426.61" cy="253.12" r="1.9" fill="#ca0220" />
<circle cx="428.33" cy="252.68" r="1.9" fill="#ca0220" />
<circle cx="428.07" cy="254.51" r="1.9" fill="#ca0220" />
<circle cx="429.70" cy="253.92" r="1.9" fill="#ca0220" />
<circle cx="430.85" cy="254.32" r="1.9" fill="#ca0220" />
<circle cx="431.97" cy="256.28" r="1.9" fill="#ca0220" />
<circle cx="425.47" cy="255.86" r="1.9" fill="#ca0220" />
<circle cx="426.84" cy="255.61" r="1.9" fill="#ca0220" />
<circle cx="429.09" cy="255.66" r="1.9" fill="#ca0220" />
<circle cx="430.31" cy="256.15" r="1.9" fill="#ca0220" />
<circle cx="425.93" cy="257.41" r="1.9" fill="#ca0220" />
<circle cx="427.89" cy="256.96" r="1.9" fill="#ca0220" />
<circle cx="428.95" cy="257.05" r="1.9" fill="#ca0220" />
<circle cx="430.53" cy="256.83" r="1.9" fill="#ca0220" />
<circle cx="425.45" cy="258.24" r="1.9" fill="#ca0220" />
<circle cx="426.83" cy="258.10" r="1.9" fill="#ca0220" />
<circle cx="429.22" cy="258.56" r="1.9" fill="#ca0220" />
<circle cx="430.57" cy="258.13" r="1.9" fill="#ca0220" />
<circle cx="425.21" cy="260.47" r="1.9" fill="#ca0220" />
<circle cx="426.83" cy="260.00" r="1.9" fill="#ca0220" />
<circle cx="428.26" cy="260.39" r="1.9" fill="#ca0220" />
<circle cx="430.63" cy="259.87" r="1.9" fill="#ca0220" />
<circle cx="431.95" cy="259.85" r="1.9" fill="#ca0220" />
<circle cx="433.22" cy="262.20" r="1.9" fill="#ca0220" />
<circle cx="425.16" cy="261.17" r="1.9" fill="#ca0220" />
<circle cx="426.17" cy="261.73" r="1.9" fill="#ca0220" />
<circle cx="428.02" cy="261.42" r="1.9" fill="#ca0220" />
<circle cx="430.18" cy="261.68" r="1.9" fill="#ca0220" />
<circle cx="434.77" cy="262.47" r="1.9" fill="#ca0220" />
<circle cx="423.01" cy="263.18" r="1.9" fill="#ca0220" />
<circle cx="425.48" cy="262.86" r="1.9" fill="#ca0220" />
<circle cx="427.14" cy="262.75" r="1.9" fill="#ca0220" />
<circle cx="428.03" cy="262.73" r="1.9" fill="#ca0220" />
<circle cx="430.22" cy="263.01" r="1.9" fill="#ca0220" />
<circle cx="431.43" cy="263.31" r="1.9" fill="#ca0220" />
<circle cx="423.85" cy="264.08" r="1.9" fill="#ca0220" />
<circle cx="426.31" cy="264.84" r="1.9" fill="#ca0220" />
<circle cx="427.66" cy="264.16" r="1.9" fill="#ca0220" />
<circle cx="429.01" cy="264.87" r="1.9" fill="#ca0220" />
<circle cx="430.89" cy="263.96" r="1.9" fill="#ca0220" />
<circle cx="424.51" cy="265.67" r="1.9" fill="#ca0220" />
<circle cx="426.53" cy="265.65" r="1.9" fill="#ca0220" />
<circle cx="428.10" cy="266.07" r="1.9" fill="#ca0220" />
<circle cx="430.42" cy="265.36" r="1.9" fill="#ca0220" />
<circle cx="424.92" cy="267.34" r="1.9" fill="#ca0220" />
<circle cx="426.71" cy="266.94" r="1.9" fill="#ca0220" />
<circle cx="428.28" cy="267.66" r="1.9" fill="#ca0220" />
<circle cx="430.23" cy="267.02" r="1.9" fill="#ca0220" />
<circle cx="431.57" cy="267.22" r="1.9" fill="#ca0220" />
<circle cx="423.40" cy="268.72" r="1.9" fill="#ca0220" />
<circle cx="425.19" cy="268.21" r="1.9" fill="#ca0220" />
<circle cx="426.86" cy="268.52" r="1.9" fill="#ca0220" />
<circle cx="427.76" cy="269.09" r="1.9" fill="#ca0220" />
<circle cx="429.90" cy="268.80" r="1.9" fill="#ca0220" />
<circle cx="431.53" cy="268.75" r="1.9" fill="#ca0220" />
<circle cx="423.43" cy="270.29" r="1.9" fill="#ca0220" />
<circle cx="425.52" cy="269.86" r="1.9" fill="#ca0220" />
<circle cx="426.97" cy="269.87" r="1.9" fill="#ca0220" />
<circle cx="428.56" cy="269.90" r="1.9" fill="#ca0220" />
<circle cx="430.25" cy="270.50" r="1.9" fill="#ca0220" />
<circle cx="366.40" cy="153.30" r="1.9" fill="#0e4c8c" />
<circle cx="371.20" cy="180.20" r="1.9" fill="#0e4c8c" />
<circle cx="346.70" cy="188.50" r="1.9" fill="#0e4c8c" />
<circle cx="341.00" cy="195.00" r="1.9" fill="#0e4c8c" />
<circle cx="384.70" cy="193.10" r="1.9" fill="#0e4c8c" />
<circle cx="336.60" cy="208.40" r="1.9" fill="#0e4c8c" />
<circle cx="330.90" cy="212.30" r="1.9" fill="#0e4c8c" />
<circle cx="383.40" cy="211.30" r="1.9" fill="#0e4c8c" />
<circle cx="390.60" cy="212.30" r="1.9" fill="#0e4c8c" />
<circle cx="399.80" cy="212.30" r="1.9" fill="#0e4c8c" />
<circle cx="394.10" cy="217.50" r="1.9" fill="#0e4c8c" />
<circle cx="386.00" cy="222.70" r="1.9" fill="#0e4c8c" />
<circle cx="390.30" cy="225.70" r="1.9" fill="#0e4c8c" />
<circle cx="362.60" cy="227.40" r="1.9" fill="#0e4c8c" />
<circle cx="350.30" cy="231.20" r="1.9" fill="#0e4c8c" />
<circle cx="335.20" cy="241.20" r="1.9" fill="#0e4c8c" />
<circle cx="385.80" cy="222.50" r="1.9" fill="#0e4c8c" />
<circle cx="390.10" cy="226.00" r="1.9" fill="#0e4c8c" />
<circle cx="386.60" cy="229.80" r="1.9" fill="#0e4c8c" />
<circle cx="389.60" cy="232.00" r="1.9" fill="#0e4c8c" />
<circle cx="396.20" cy="232.00" r="1.9" fill="#0e4c8c" />
<circle cx="384.90" cy="239.00" r="1.9" fill="#0e4c8c" />
<circle cx="391.00" cy="239.80" r="1.9" fill="#0e4c8c" />
<circle cx="394.80" cy="239.80" r="1.9" fill="#0e4c8c" />
<circle cx="384.90" cy="242.90" r="1.9" fill="#0e4c8c" />
<circle cx="389.20" cy="243.30" r="1.9" fill="#0e4c8c" />
<circle cx="380.90" cy="247.60" r="1.9" fill="#0e4c8c" />
<circle cx="379.70" cy="251.00" r="1.9" fill="#0e4c8c" />
<circle cx="379.40" cy="254.50" r="1.9" fill="#0e4c8c" />
<circle cx="384.90" cy="251.60" r="1.9" fill="#0e4c8c" />
<circle cx="346.00" cy="266.10" r="1.9" fill="#0e4c8c" />
<circle cx="373.70" cy="266.10" r="1.9" fill="#0e4c8c" />
<circle cx="377.10" cy="265.40" r="1.9" fill="#0e4c8c" />
<circle cx="370.20" cy="268.90" r="1.9" fill="#0e4c8c" />
<circle cx="368.50" cy="271.00" r="1.9" fill="#0e4c8c" />
<circle cx="367.60" cy="272.30" r="1.9" fill="#0e4c8c" />
<circle cx="399.30" cy="212.30" r="1.9" fill="#0e4c8c" />
<circle cx="384.90" cy="242.60" r="1.9" fill="#0e4c8c" />
<circle cx="389.40" cy="243.30" r="1.9" fill="#0e4c8c" />
<circle cx="390.70" cy="240.50" r="1.9" fill="#0e4c8c" />
<circle cx="394.90" cy="239.50" r="1.9" fill="#0e4c8c" />
<circle cx="384.90" cy="238.10" r="1.9" fill="#0e4c8c" />
<circle cx="381.10" cy="247.80" r="1.9" fill="#0e4c8c" />
<circle cx="379.00" cy="251.30" r="1.9" fill="#0e4c8c" />
<circle cx="379.30" cy="254.70" r="1.9" fill="#0e4c8c" />
<circle cx="384.50" cy="251.60" r="1.9" fill="#0e4c8c" />
<circle cx="376.90" cy="265.40" r="1.9" fill="#0e4c8c" />
<circle cx="373.50" cy="266.80" r="1.9" fill="#0e4c8c" />
<circle cx="383.10" cy="267.50" r="1.9" fill="#0e4c8c" />
<circle cx="370.70" cy="269.60" r="1.9" fill="#0e4c8c" />
<circle cx="436.00" cy="201.80" r="1.9" fill="#ca0220" />
<circle cx="424.40" cy="225.70" r="1.9" fill="#ca0220" />
<circle cx="433.90" cy="226.00" r="1.9" fill="#ca0220" />
<circle cx="441.40" cy="225.20" r="1.9" fill="#ca0220" />
<circle cx="439.10" cy="228.30" r="1.9" fill="#ca0220" />
<circle cx="434.80" cy="231.40" r="1.9" fill="#ca0220" />
<circle cx="433.10" cy="234.30" r="1.9" fill="#ca0220" />
<circle cx="432.20" cy="236.90" r="1.9" fill="#ca0220" />
<circle cx="431.30" cy="240.00" r="1.9" fill="#ca0220" />
<circle cx="424.40" cy="236.10" r="1.9" fill="#ca0220" />
<circle cx="438.30" cy="256.00" r="1.9" fill="#ca0220" />
<circle cx="441.70" cy="261.10" r="1.9" fill="#ca0220" />
<circle cx="440.30" cy="265.00" r="1.9" fill="#ca0220" />
<circle cx="441.70" cy="266.30" r="1.9" fill="#ca0220" />
<circle cx="423.60" cy="241.20" r="1.9" fill="#ca0220" />
<circle cx="426.20" cy="243.80" r="1.9" fill="#ca0220" />
<circle cx="429.60" cy="245.60" r="1.9" fill="#ca0220" />
<circle cx="430.90" cy="239.80" r="1.9" fill="#ca0220" />
<circle cx="431.60" cy="237.10" r="1.9" fill="#ca0220" />
<circle cx="433.70" cy="235.70" r="1.9" fill="#ca0220" />
<circle cx="424.00" cy="235.70" r="1.9" fill="#ca0220" />
<circle cx="438.50" cy="255.70" r="1.9" fill="#ca0220" />
<circle cx="441.30" cy="260.60" r="1.9" fill="#ca0220" />
<circle cx="439.90" cy="264.00" r="1.9" fill="#ca0220" />
<circle cx="442.00" cy="266.10" r="1.9" fill="#ca0220" />
<circle cx="440.60" cy="267.50" r="1.9" fill="#ca0220" />
<line x1="427.90" y1="260.30" x2="466.00" y2="257.70" stroke="#555" stroke-width="0.8" />
<line x1="401.10" y1="331.80" x2="401.10" y2="145.20" stroke="#333" stroke-width="1.2" stroke-dasharray="4.3,4.2" stroke-dashoffset="2.8"/>
<line x1="422.00" y1="331.80" x2="422.00" y2="145.20" stroke="#333" stroke-width="1.2" stroke-dasharray="4.3,4.2" stroke-dashoffset="2.8"/>
<line x1="314.10" y1="272.50" x2="506.80" y2="272.50" stroke="#333" stroke-width="1.2" stroke-dasharray="4.4,4.2"/>
<line x1="316.50" y1="145.20" x2="316.50" y2="332.30" stroke="#222" stroke-width="1.1" />
<line x1="316.00" y1="331.80" x2="506.80" y2="331.80" stroke="#222" stroke-width="1.1" />
<line x1="314.30" y1="323.50" x2="316.50" y2="323.50" stroke="#222" stroke-width="0.9" />
<text transform="translate(310.40,326.35) scale(0.955,1)" font-size="7.7" text-anchor="end" fill="#333" font-weight="normal"  stroke="#333" stroke-width="0.14">0</text>
<line x1="314.30" y1="272.50" x2="316.50" y2="272.50" stroke="#222" stroke-width="0.9" />
<text transform="translate(310.40,275.35) scale(0.955,1)" font-size="7.7" text-anchor="end" fill="#333" font-weight="normal"  stroke="#333" stroke-width="0.14">2</text>
<line x1="314.30" y1="221.50" x2="316.50" y2="221.50" stroke="#222" stroke-width="0.9" />
<text transform="translate(310.40,224.35) scale(0.955,1)" font-size="7.7" text-anchor="end" fill="#333" font-weight="normal"  stroke="#333" stroke-width="0.14">4</text>
<line x1="314.30" y1="170.50" x2="316.50" y2="170.50" stroke="#222" stroke-width="0.9" />
<text transform="translate(310.40,173.35) scale(0.955,1)" font-size="7.7" text-anchor="end" fill="#333" font-weight="normal"  stroke="#333" stroke-width="0.14">6</text>
<line x1="325.00" y1="331.80" x2="325.00" y2="334.00" stroke="#222" stroke-width="0.9" />
<text transform="translate(325.00,345.09) scale(0.955,1)" font-size="7.81" text-anchor="middle" fill="#333" font-weight="normal"  stroke="#333" stroke-width="0.14">−5.0</text>
<line x1="368.25" y1="331.80" x2="368.25" y2="334.00" stroke="#222" stroke-width="0.9" />
<text transform="translate(368.25,345.09) scale(0.955,1)" font-size="7.81" text-anchor="middle" fill="#333" font-weight="normal"  stroke="#333" stroke-width="0.14">−2.5</text>
<line x1="411.50" y1="331.80" x2="411.50" y2="334.00" stroke="#222" stroke-width="0.9" />
<text transform="translate(411.50,345.09) scale(0.955,1)" font-size="7.81" text-anchor="middle" fill="#333" font-weight="normal"  stroke="#333" stroke-width="0.14">0.0</text>
<line x1="454.75" y1="331.80" x2="454.75" y2="334.00" stroke="#222" stroke-width="0.9" />
<text transform="translate(454.75,345.09) scale(0.955,1)" font-size="7.81" text-anchor="middle" fill="#333" font-weight="normal"  stroke="#333" stroke-width="0.14">2.5</text>
<line x1="498.00" y1="331.80" x2="498.00" y2="334.00" stroke="#222" stroke-width="0.9" />
<text transform="translate(498.00,345.09) scale(0.955,1)" font-size="7.81" text-anchor="middle" fill="#333" font-weight="normal"  stroke="#333" stroke-width="0.14">5.0</text>
<text transform="translate(389.10,356.9) scale(0.70,1)" font-size="9" fill="#231f20" stroke="#231f20" stroke-width="0.25">log<tspan font-size="6.3" dy="2">2</tspan><tspan dy="-2"> fold change</tspan></text>
<text transform="translate(300.80,238.60) rotate(-90) scale(0.724,1)" font-size="9" text-anchor="middle" fill="#231f20" stroke="#231f20" stroke-width="0.25">-log10(P)</text>
<text transform="translate(412.00,135.54) scale(0.955,1)" font-size="8.77" text-anchor="middle" fill="#231f20" font-weight="normal"  stroke="#231f20" stroke-width="0.16">CB-103 vs DMSO</text>
<text x="274.20" y="134.60" font-size="11.340000000000002" text-anchor="start" fill="#000" font-weight="bold" >C</text>
<path d="M71.80,396.50 C71.80,408.75 71.77,453.52 71.80,470.00 C71.83,486.48 71.88,489.12 72.00,495.40 C72.12,501.68 72.25,504.37 72.50,507.70 C72.75,511.03 72.95,513.22 73.50,515.40 C74.05,517.58 74.63,519.13 75.80,520.80 C76.97,522.47 78.70,524.00 80.50,525.40 C82.30,526.80 84.05,527.92 86.60,529.20 C89.15,530.48 92.20,531.93 95.80,533.10 C99.40,534.27 103.58,535.23 108.20,536.20 C112.82,537.17 117.87,538.02 123.50,538.90 C129.13,539.78 136.75,540.82 142.00,541.50 C147.25,542.18 148.67,542.33 155.00,543.00 C161.33,543.67 172.50,544.67 180.00,545.50 C187.50,546.33 192.50,547.25 200.00,548.00 C207.50,548.75 219.17,549.45 225.00,550.00 C230.83,550.55 230.63,550.80 235.00,551.30 C239.37,551.80 248.50,552.72 251.20,553.00" fill="none" stroke="#231f20" stroke-width="1.3"/>
<circle cx="71.80" cy="396.80" r="1.55" fill="#c8283c" />
<circle cx="71.80" cy="418.60" r="1.55" fill="#1e3a6e" />
<circle cx="71.80" cy="433.60" r="1.55" fill="#58a868" />
<circle cx="71.80" cy="449.50" r="1.55" fill="#4a2068" />
<circle cx="71.80" cy="454.00" r="1.55" fill="#f0903a" />
<circle cx="71.80" cy="457.50" r="1.55" fill="#e8a020" />
<circle cx="71.80" cy="467.20" r="1.55" fill="#c82870" />
<circle cx="71.80" cy="477.00" r="1.55" fill="#e8c0d0" />
<circle cx="71.80" cy="481.30" r="1.55" fill="#e8c030" />
<line x1="64.70" y1="390.70" x2="64.70" y2="559.80" stroke="#222" stroke-width="1.1" />
<line x1="64.20" y1="559.30" x2="257.80" y2="559.30" stroke="#222" stroke-width="1.1" />
<line x1="62.30" y1="405.50" x2="64.70" y2="405.50" stroke="#222" stroke-width="0.9" />
<text transform="translate(58.20,408.31) scale(0.955,1)" font-size="7.6" text-anchor="end" fill="#333" font-weight="normal"  stroke="#333" stroke-width="0.14">1e−12</text>
<line x1="62.30" y1="430.10" x2="64.70" y2="430.10" stroke="#222" stroke-width="0.9" />
<line x1="62.30" y1="454.70" x2="64.70" y2="454.70" stroke="#222" stroke-width="0.9" />
<text transform="translate(58.20,457.51) scale(0.955,1)" font-size="7.6" text-anchor="end" fill="#333" font-weight="normal"  stroke="#333" stroke-width="0.14">1e−08</text>
<line x1="62.30" y1="479.30" x2="64.70" y2="479.30" stroke="#222" stroke-width="0.9" />
<line x1="62.30" y1="503.90" x2="64.70" y2="503.90" stroke="#222" stroke-width="0.9" />
<text transform="translate(58.20,506.71) scale(0.955,1)" font-size="7.6" text-anchor="end" fill="#333" font-weight="normal"  stroke="#333" stroke-width="0.14">1e−04</text>
<line x1="62.30" y1="528.50" x2="64.70" y2="528.50" stroke="#222" stroke-width="0.9" />
<line x1="62.30" y1="553.10" x2="64.70" y2="553.10" stroke="#222" stroke-width="0.9" />
<text transform="translate(58.20,555.91) scale(0.955,1)" font-size="7.6" text-anchor="end" fill="#333" font-weight="normal"  stroke="#333" stroke-width="0.14">1e+00</text>
<line x1="72.20" y1="559.30" x2="72.20" y2="561.70" stroke="#222" stroke-width="0.9" />
<text transform="translate(72.20,573.01) scale(0.955,1)" font-size="7.6" text-anchor="middle" fill="#333" font-weight="normal"  stroke="#333" stroke-width="0.14">0</text>
<line x1="119.00" y1="559.30" x2="119.00" y2="561.70" stroke="#222" stroke-width="0.9" />
<text transform="translate(119.00,573.01) scale(0.955,1)" font-size="7.6" text-anchor="middle" fill="#333" font-weight="normal"  stroke="#333" stroke-width="0.14">5000</text>
<line x1="165.90" y1="559.30" x2="165.90" y2="561.70" stroke="#222" stroke-width="0.9" />
<text transform="translate(165.90,573.01) scale(0.955,1)" font-size="7.6" text-anchor="middle" fill="#333" font-weight="normal"  stroke="#333" stroke-width="0.14">10000</text>
<line x1="212.80" y1="559.30" x2="212.80" y2="561.70" stroke="#222" stroke-width="0.9" />
<text transform="translate(212.80,573.01) scale(0.955,1)" font-size="7.6" text-anchor="middle" fill="#333" font-weight="normal"  stroke="#333" stroke-width="0.14">15000</text>
<text transform="translate(161.30,584.2) scale(0.65,1)" font-size="8.5" text-anchor="middle" fill="#231f20" stroke="#231f20" stroke-width="0.3">Genes</text>
<text transform="translate(32.10,474.90) rotate(-90) scale(0.637,1)" font-size="9.3" text-anchor="middle" fill="#231f20" stroke="#231f20" stroke-width="0.3">RRA score</text>
<text transform="translate(98.10,386.04) scale(0.955,1)" font-size="9.58" text-anchor="start" fill="#231f20" font-weight="normal"  stroke="#231f20" stroke-width="0.17">GSI vs DMSO positive selection</text>
<text x="22.00" y="385.20" font-size="11.340000000000002" text-anchor="start" fill="#000" font-weight="bold" >D</text>
<circle cx="218.60" cy="400.20" r="1.0" fill="#c8283c" />
<text transform="translate(222.70,402.47) scale(0.955,1)" font-size="7.49" text-anchor="start" fill="#bf1e3c" font-weight="normal"  stroke="#bf1e3c" stroke-width="0.13">PIK3R1</text>
<circle cx="218.60" cy="410.91" r="1.0" fill="#1e2e58" />
<text transform="translate(222.70,413.18) scale(0.955,1)" font-size="7.49" text-anchor="start" fill="#231f20" font-weight="normal"  stroke="#231f20" stroke-width="0.13">SOCS1</text>
<circle cx="218.60" cy="421.62" r="1.0" fill="#58a068" />
<text transform="translate(222.70,423.89) scale(0.955,1)" font-size="7.49" text-anchor="start" fill="#231f20" font-weight="normal"  stroke="#231f20" stroke-width="0.13">PCGF1</text>
<circle cx="218.60" cy="432.33" r="1.0" fill="#4a2068" />
<text transform="translate(222.70,434.60) scale(0.955,1)" font-size="7.49" text-anchor="start" fill="#231f20" font-weight="normal"  stroke="#231f20" stroke-width="0.13">BCL11B</text>
<circle cx="218.60" cy="443.04" r="1.0" fill="#f09048" />
<text transform="translate(222.70,445.31) scale(0.955,1)" font-size="7.49" text-anchor="start" fill="#231f20" font-weight="normal"  stroke="#231f20" stroke-width="0.13">EXT1</text>
<circle cx="218.60" cy="453.75" r="1.0" fill="#6a8060" />
<text transform="translate(222.70,456.02) scale(0.955,1)" font-size="7.49" text-anchor="start" fill="#231f20" font-weight="normal"  stroke="#231f20" stroke-width="0.13">EXTL3</text>
<circle cx="218.60" cy="464.46" r="1.0" fill="#c82860" />
<text transform="translate(222.70,466.73) scale(0.955,1)" font-size="7.49" text-anchor="start" fill="#231f20" font-weight="normal"  stroke="#231f20" stroke-width="0.13">CDKN2C</text>
<circle cx="218.60" cy="475.17" r="1.0" fill="#e0b8c8" />
<text transform="translate(222.70,477.44) scale(0.955,1)" font-size="7.49" text-anchor="start" fill="#231f20" font-weight="normal"  stroke="#231f20" stroke-width="0.13">HS6ST1</text>
<circle cx="218.60" cy="485.88" r="1.0" fill="#1e2e48" />
<text transform="translate(222.70,488.15) scale(0.955,1)" font-size="7.49" text-anchor="start" fill="#231f20" font-weight="normal"  stroke="#231f20" stroke-width="0.13">CCNC</text>
<circle cx="218.60" cy="496.59" r="1.0" fill="#e8c030" />
<text transform="translate(222.70,498.86) scale(0.955,1)" font-size="7.49" text-anchor="start" fill="#231f20" font-weight="normal"  stroke="#231f20" stroke-width="0.13">CHD1</text>
<path d="M323.60,396.00 C323.60,408.33 323.55,454.58 323.60,470.00 C323.65,485.42 323.75,484.43 323.90,488.50 C324.05,492.57 324.15,492.28 324.50,494.40 C324.85,496.52 325.40,499.02 326.00,501.20 C326.60,503.38 327.12,505.40 328.10,507.50 C329.08,509.60 330.38,511.87 331.90,513.80 C333.42,515.73 335.08,517.50 337.20,519.10 C339.32,520.70 341.25,521.98 344.60,523.40 C347.95,524.82 353.07,526.27 357.30,527.60 C361.53,528.93 365.77,530.33 370.00,531.40 C374.23,532.47 377.77,533.05 382.70,534.00 C387.63,534.95 394.67,536.23 399.60,537.10 C404.53,537.97 408.90,538.75 412.30,539.20 C415.70,539.65 416.80,539.32 420.00,539.80 C423.20,540.28 427.33,541.30 431.50,542.10 C435.67,542.90 440.50,543.87 445.00,544.60 C449.50,545.33 454.67,545.95 458.50,546.50 C462.33,547.05 464.80,547.28 468.00,547.90 C471.20,548.52 474.17,549.57 477.70,550.20 C481.23,550.83 485.07,551.22 489.20,551.70 C493.33,552.18 500.28,552.87 502.50,553.10" fill="none" stroke="#231f20" stroke-width="1.3"/>
<circle cx="323.60" cy="448.30" r="1.55" fill="#b8c0d8" />
<circle cx="323.60" cy="464.70" r="1.55" fill="#2a6a80" />
<circle cx="323.60" cy="467.70" r="1.55" fill="#1e2e58" />
<circle cx="323.60" cy="470.40" r="1.55" fill="#e8b0c8" />
<circle cx="323.60" cy="473.60" r="1.55" fill="#c82860" />
<circle cx="323.60" cy="476.10" r="1.55" fill="#e04848" />
<circle cx="323.60" cy="478.60" r="1.55" fill="#f08850" />
<circle cx="323.60" cy="481.20" r="1.55" fill="#e8c030" />
<circle cx="323.60" cy="482.40" r="1.55" fill="#78a060" />
<circle cx="323.60" cy="494.20" r="1.55" fill="#c8102e" />
<line x1="316.40" y1="390.20" x2="316.40" y2="559.30" stroke="#222" stroke-width="1.1" />
<line x1="315.90" y1="558.80" x2="509.60" y2="558.80" stroke="#222" stroke-width="1.1" />
<line x1="314.00" y1="421.06" x2="316.40" y2="421.06" stroke="#222" stroke-width="0.9" />
<line x1="314.00" y1="439.88" x2="316.40" y2="439.88" stroke="#222" stroke-width="0.9" />
<text transform="translate(309.90,442.69) scale(0.955,1)" font-size="7.6" text-anchor="end" fill="#333" font-weight="normal"  stroke="#333" stroke-width="0.14">1e−06</text>
<line x1="314.00" y1="458.70" x2="316.40" y2="458.70" stroke="#222" stroke-width="0.9" />
<line x1="314.00" y1="477.52" x2="316.40" y2="477.52" stroke="#222" stroke-width="0.9" />
<text transform="translate(309.90,480.33) scale(0.955,1)" font-size="7.6" text-anchor="end" fill="#333" font-weight="normal"  stroke="#333" stroke-width="0.14">1e−04</text>
<line x1="314.00" y1="496.34" x2="316.40" y2="496.34" stroke="#222" stroke-width="0.9" />
<line x1="314.00" y1="515.16" x2="316.40" y2="515.16" stroke="#222" stroke-width="0.9" />
<text transform="translate(309.90,517.97) scale(0.955,1)" font-size="7.6" text-anchor="end" fill="#333" font-weight="normal"  stroke="#333" stroke-width="0.14">1e−02</text>
<line x1="314.00" y1="533.98" x2="316.40" y2="533.98" stroke="#222" stroke-width="0.9" />
<line x1="314.00" y1="552.80" x2="316.40" y2="552.80" stroke="#222" stroke-width="0.9" />
<text transform="translate(309.90,555.61) scale(0.955,1)" font-size="7.6" text-anchor="end" fill="#333" font-weight="normal"  stroke="#333" stroke-width="0.14">1e+00</text>
<line x1="323.10" y1="558.80" x2="323.10" y2="561.20" stroke="#222" stroke-width="0.9" />
<text transform="translate(323.10,572.41) scale(0.955,1)" font-size="7.6" text-anchor="middle" fill="#333" font-weight="normal"  stroke="#333" stroke-width="0.14">0</text>
<line x1="370.40" y1="558.80" x2="370.40" y2="561.20" stroke="#222" stroke-width="0.9" />
<text transform="translate(370.40,572.41) scale(0.955,1)" font-size="7.6" text-anchor="middle" fill="#333" font-weight="normal"  stroke="#333" stroke-width="0.14">5000</text>
<line x1="417.70" y1="558.80" x2="417.70" y2="561.20" stroke="#222" stroke-width="0.9" />
<text transform="translate(417.70,572.41) scale(0.955,1)" font-size="7.6" text-anchor="middle" fill="#333" font-weight="normal"  stroke="#333" stroke-width="0.14">10000</text>
<line x1="465.00" y1="558.80" x2="465.00" y2="561.20" stroke="#222" stroke-width="0.9" />
<text transform="translate(465.00,572.41) scale(0.955,1)" font-size="7.6" text-anchor="middle" fill="#333" font-weight="normal"  stroke="#333" stroke-width="0.14">15000</text>
<text transform="translate(412.90,584.2) scale(0.65,1)" font-size="8.5" text-anchor="middle" fill="#231f20" stroke="#231f20" stroke-width="0.3">Genes</text>
<text transform="translate(283.80,474.90) rotate(-90) scale(0.637,1)" font-size="9.3" text-anchor="middle" fill="#231f20" stroke="#231f20" stroke-width="0.3">RRA score</text>
<text transform="translate(349.20,386.30) scale(0.955,1)" font-size="9.74" text-anchor="start" fill="#231f20" font-weight="normal"  stroke="#231f20" stroke-width="0.18">CB-103 vs DMSO positive selection</text>
<text x="273.40" y="386.20" font-size="11.340000000000002" text-anchor="start" fill="#000" font-weight="bold" >E</text>
<circle cx="469.90" cy="400.20" r="1.0" fill="#6a8a98" />
<text transform="translate(474.00,402.47) scale(0.955,1)" font-size="7.49" text-anchor="start" fill="#231f20" font-weight="normal"  stroke="#231f20" stroke-width="0.13">RNF144B</text>
<circle cx="469.90" cy="410.85" r="1.0" fill="#1e2a50" />
<text transform="translate(474.00,413.12) scale(0.955,1)" font-size="7.49" text-anchor="start" fill="#231f20" font-weight="normal"  stroke="#231f20" stroke-width="0.13">FBXL17</text>
<circle cx="469.90" cy="421.50" r="1.0" fill="#5a9080" />
<text transform="translate(474.00,423.77) scale(0.955,1)" font-size="7.49" text-anchor="start" fill="#231f20" font-weight="normal"  stroke="#231f20" stroke-width="0.13">AAK1</text>
<circle cx="469.90" cy="432.15" r="1.0" fill="#222" />
<text transform="translate(474.00,434.42) scale(0.955,1)" font-size="7.49" text-anchor="start" fill="#231f20" font-weight="normal"  stroke="#231f20" stroke-width="0.13">ECH1</text>
<circle cx="469.90" cy="442.80" r="1.0" fill="#c8c8c8" />
<text transform="translate(474.00,445.07) scale(0.955,1)" font-size="7.49" text-anchor="start" fill="#231f20" font-weight="normal"  stroke="#231f20" stroke-width="0.13">SEBOX</text>
<circle cx="469.90" cy="453.45" r="1.0" fill="#7a7a5a" />
<text transform="translate(474.00,455.72) scale(0.955,1)" font-size="7.49" text-anchor="start" fill="#231f20" font-weight="normal"  stroke="#231f20" stroke-width="0.13">FAM169B</text>
<circle cx="469.90" cy="464.10" r="1.0" fill="#c82860" />
<text transform="translate(474.00,466.37) scale(0.955,1)" font-size="7.49" text-anchor="start" fill="#231f20" font-weight="normal"  stroke="#231f20" stroke-width="0.13">CYS1</text>
<circle cx="469.90" cy="474.75" r="1.0" fill="#f09070" />
<text transform="translate(474.00,477.02) scale(0.955,1)" font-size="7.49" text-anchor="start" fill="#231f20" font-weight="normal"  stroke="#231f20" stroke-width="0.13">EXT1</text>
<circle cx="469.90" cy="485.40" r="1.0" fill="#2a5a6a" />
<text transform="translate(474.00,487.67) scale(0.955,1)" font-size="7.49" text-anchor="start" fill="#231f20" font-weight="normal"  stroke="#231f20" stroke-width="0.13">HECTD3</text>
<circle cx="469.90" cy="496.05" r="1.0" fill="#e8c030" />
<text transform="translate(474.00,498.32) scale(0.955,1)" font-size="7.49" text-anchor="start" fill="#231f20" font-weight="normal"  stroke="#231f20" stroke-width="0.13">KTN1</text>
<circle cx="469.90" cy="506.70" r="1.0" fill="#c8102e" />
<text transform="translate(474.00,508.97) scale(0.955,1)" font-size="7.49" text-anchor="start" fill="#bf1e3c" font-weight="normal"  stroke="#bf1e3c" stroke-width="0.13">PIK3R1</text>
<rect x="0" y="0" width="520" height="1" fill="#555"/>
<rect x="0" y="0" width="1" height="593" fill="#5a5a5a"/>
<rect x="519" y="0" width="1" height="593" fill="#5a5a5a"/>
<rect x="518.6" y="0" width="0.4" height="593" fill="#999"/>
<rect x="0" y="591.6" width="520" height="1.4" fill="#505050"/>
</svg></body></html>
